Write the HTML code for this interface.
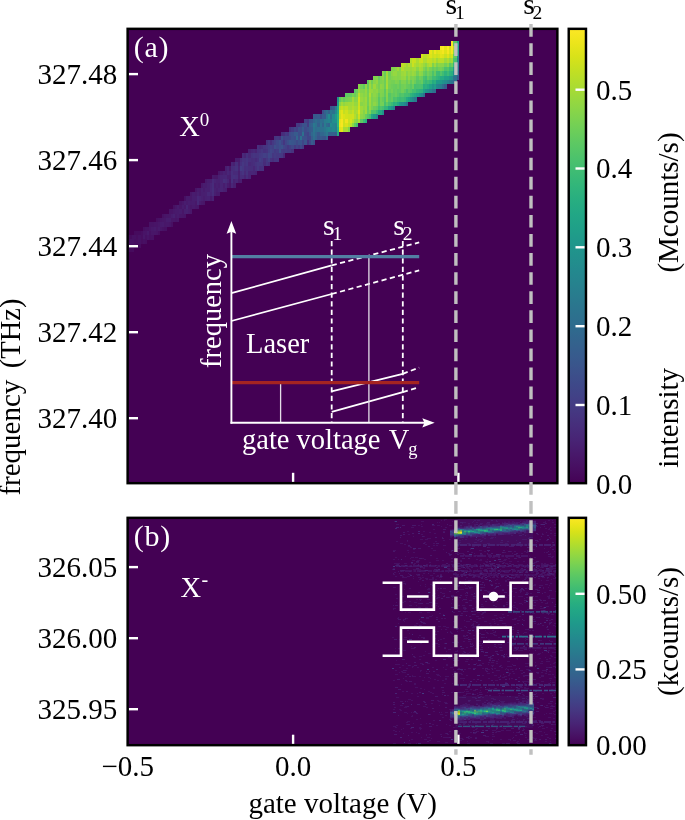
<!DOCTYPE html>
<html lang="en"><head><meta charset="utf-8"><title>figure</title>
<style>
html,body{margin:0;padding:0;background:#fff;}
body{width:685px;height:820px;overflow:hidden;}
svg{display:block;}
text{font-family:"Liberation Serif", serif;font-size:29px;}
.k{fill:#000;}
.w{fill:#fff;}
</style></head><body>
<svg width="685" height="820" viewBox="0 0 685 820">
<defs>
<linearGradient id="vg" x1="0" y1="1" x2="0" y2="0">
<stop offset="0.0000" stop-color="#440154"/>
<stop offset="0.0312" stop-color="#470d60"/>
<stop offset="0.0625" stop-color="#48186a"/>
<stop offset="0.0938" stop-color="#482374"/>
<stop offset="0.1250" stop-color="#472d7b"/>
<stop offset="0.1562" stop-color="#453781"/>
<stop offset="0.1875" stop-color="#424086"/>
<stop offset="0.2188" stop-color="#3e4989"/>
<stop offset="0.2500" stop-color="#3b528b"/>
<stop offset="0.2812" stop-color="#375b8d"/>
<stop offset="0.3125" stop-color="#33638d"/>
<stop offset="0.3438" stop-color="#2f6b8e"/>
<stop offset="0.3750" stop-color="#2c728e"/>
<stop offset="0.4062" stop-color="#297a8e"/>
<stop offset="0.4375" stop-color="#26828e"/>
<stop offset="0.4688" stop-color="#23898e"/>
<stop offset="0.5000" stop-color="#21918c"/>
<stop offset="0.5312" stop-color="#1f988b"/>
<stop offset="0.5625" stop-color="#1fa088"/>
<stop offset="0.5938" stop-color="#22a785"/>
<stop offset="0.6250" stop-color="#28ae80"/>
<stop offset="0.6562" stop-color="#32b67a"/>
<stop offset="0.6875" stop-color="#3fbc73"/>
<stop offset="0.7188" stop-color="#4ec36b"/>
<stop offset="0.7500" stop-color="#5ec962"/>
<stop offset="0.7812" stop-color="#70cf57"/>
<stop offset="0.8125" stop-color="#84d44b"/>
<stop offset="0.8438" stop-color="#98d83e"/>
<stop offset="0.8750" stop-color="#addc30"/>
<stop offset="0.9062" stop-color="#c2df23"/>
<stop offset="0.9375" stop-color="#d8e219"/>
<stop offset="0.9688" stop-color="#ece51b"/>
<stop offset="1.0000" stop-color="#fde725"/>
</linearGradient>
<clipPath id="ca"><rect x="127.7" y="28.6" width="429.9" height="454.7"/></clipPath>
<clipPath id="cb"><rect x="127.7" y="517.7" width="429.9" height="227.6"/></clipPath>
</defs>
<rect x="0" y="0" width="685" height="820" fill="#ffffff"/>
<rect x="127.2" y="28.400000000000002" width="430.6" height="455.2" fill="#440154"/>
<rect x="127.2" y="517.4" width="430.6" height="228.2" fill="#440154"/>
<g clip-path="url(#ca)" shape-rendering="crispEdges">
<rect x="127.70" y="235.15" width="2.20" height="4.36" fill="#460b5e"/>
<rect x="127.70" y="239.46" width="2.20" height="4.36" fill="#470e61"/>
<rect x="127.70" y="243.77" width="2.20" height="4.36" fill="#470e61"/>
<rect x="127.70" y="248.08" width="2.20" height="4.36" fill="#470d60"/>
<rect x="129.85" y="235.15" width="2.21" height="4.36" fill="#460b5e"/>
<rect x="129.85" y="239.46" width="2.21" height="4.36" fill="#471164"/>
<rect x="129.85" y="243.77" width="2.21" height="4.36" fill="#470d60"/>
<rect x="129.85" y="248.08" width="2.21" height="4.36" fill="#460a5d"/>
<rect x="132.01" y="235.15" width="2.21" height="4.36" fill="#471063"/>
<rect x="132.01" y="239.46" width="2.21" height="4.36" fill="#471164"/>
<rect x="132.01" y="243.77" width="2.21" height="4.36" fill="#470e61"/>
<rect x="132.01" y="248.08" width="2.21" height="4.36" fill="#460b5e"/>
<rect x="134.16" y="230.84" width="2.21" height="4.36" fill="#460a5d"/>
<rect x="134.16" y="235.15" width="2.21" height="4.36" fill="#471063"/>
<rect x="134.16" y="239.46" width="2.21" height="4.36" fill="#470e61"/>
<rect x="134.16" y="243.77" width="2.21" height="4.36" fill="#470e61"/>
<rect x="136.32" y="230.84" width="2.21" height="4.36" fill="#460b5e"/>
<rect x="136.32" y="235.15" width="2.21" height="4.36" fill="#470d60"/>
<rect x="136.32" y="239.46" width="2.21" height="4.36" fill="#470e61"/>
<rect x="136.32" y="243.77" width="2.21" height="4.36" fill="#460b5e"/>
<rect x="138.47" y="230.84" width="2.21" height="4.36" fill="#460b5e"/>
<rect x="138.47" y="235.15" width="2.21" height="4.36" fill="#471164"/>
<rect x="138.47" y="239.46" width="2.21" height="4.36" fill="#471164"/>
<rect x="138.47" y="243.77" width="2.21" height="4.36" fill="#470d60"/>
<rect x="140.63" y="230.84" width="2.21" height="4.36" fill="#470e61"/>
<rect x="140.63" y="235.15" width="2.21" height="4.36" fill="#470e61"/>
<rect x="140.63" y="239.46" width="2.21" height="4.36" fill="#470d60"/>
<rect x="142.78" y="226.53" width="2.21" height="4.36" fill="#470e61"/>
<rect x="142.78" y="230.84" width="2.21" height="4.36" fill="#481467"/>
<rect x="142.78" y="235.15" width="2.21" height="4.36" fill="#481769"/>
<rect x="142.78" y="239.46" width="2.21" height="4.36" fill="#471063"/>
<rect x="144.94" y="226.53" width="2.21" height="4.36" fill="#471164"/>
<rect x="144.94" y="230.84" width="2.21" height="4.36" fill="#481467"/>
<rect x="144.94" y="235.15" width="2.21" height="4.36" fill="#471063"/>
<rect x="144.94" y="239.46" width="2.21" height="4.36" fill="#470e61"/>
<rect x="147.09" y="226.53" width="2.21" height="4.36" fill="#471164"/>
<rect x="147.09" y="230.84" width="2.21" height="4.36" fill="#481a6c"/>
<rect x="147.09" y="235.15" width="2.21" height="4.36" fill="#481467"/>
<rect x="149.25" y="222.22" width="2.21" height="4.36" fill="#471365"/>
<rect x="149.25" y="226.53" width="2.21" height="4.36" fill="#481467"/>
<rect x="149.25" y="230.84" width="2.21" height="4.36" fill="#471164"/>
<rect x="149.25" y="235.15" width="2.21" height="4.36" fill="#471063"/>
<rect x="151.41" y="222.22" width="2.21" height="4.36" fill="#471365"/>
<rect x="151.41" y="226.53" width="2.21" height="4.36" fill="#48186a"/>
<rect x="151.41" y="230.84" width="2.21" height="4.36" fill="#481668"/>
<rect x="151.41" y="235.15" width="2.21" height="4.36" fill="#471164"/>
<rect x="153.56" y="222.22" width="2.21" height="4.36" fill="#481467"/>
<rect x="153.56" y="226.53" width="2.21" height="4.36" fill="#481a6c"/>
<rect x="153.56" y="230.84" width="2.21" height="4.36" fill="#481668"/>
<rect x="155.72" y="217.91" width="2.21" height="4.36" fill="#470e61"/>
<rect x="155.72" y="222.22" width="2.21" height="4.36" fill="#481467"/>
<rect x="155.72" y="226.53" width="2.21" height="4.36" fill="#481668"/>
<rect x="155.72" y="230.84" width="2.21" height="4.36" fill="#481467"/>
<rect x="157.87" y="217.91" width="2.21" height="4.36" fill="#471164"/>
<rect x="157.87" y="222.22" width="2.21" height="4.36" fill="#481769"/>
<rect x="157.87" y="226.53" width="2.21" height="4.36" fill="#481a6c"/>
<rect x="157.87" y="230.84" width="2.21" height="4.36" fill="#470e61"/>
<rect x="160.03" y="217.91" width="2.21" height="4.36" fill="#481467"/>
<rect x="160.03" y="222.22" width="2.21" height="4.36" fill="#481a6c"/>
<rect x="160.03" y="226.53" width="2.21" height="4.36" fill="#481668"/>
<rect x="162.18" y="213.60" width="2.21" height="4.36" fill="#471063"/>
<rect x="162.18" y="217.91" width="2.21" height="4.36" fill="#481668"/>
<rect x="162.18" y="222.22" width="2.21" height="4.36" fill="#481b6d"/>
<rect x="162.18" y="226.53" width="2.21" height="4.36" fill="#471365"/>
<rect x="164.34" y="213.60" width="2.21" height="4.36" fill="#481467"/>
<rect x="164.34" y="217.91" width="2.21" height="4.36" fill="#481769"/>
<rect x="164.34" y="222.22" width="2.21" height="4.36" fill="#481769"/>
<rect x="164.34" y="226.53" width="2.21" height="4.36" fill="#471063"/>
<rect x="166.49" y="213.60" width="2.21" height="4.36" fill="#481668"/>
<rect x="166.49" y="217.91" width="2.21" height="4.36" fill="#481c6e"/>
<rect x="166.49" y="222.22" width="2.21" height="4.36" fill="#48186a"/>
<rect x="168.64" y="209.29" width="2.21" height="4.36" fill="#481467"/>
<rect x="168.64" y="213.60" width="2.21" height="4.36" fill="#481769"/>
<rect x="168.64" y="217.91" width="2.21" height="4.36" fill="#481c6e"/>
<rect x="168.64" y="222.22" width="2.21" height="4.36" fill="#481668"/>
<rect x="170.80" y="209.29" width="2.21" height="4.36" fill="#481467"/>
<rect x="170.80" y="213.60" width="2.21" height="4.36" fill="#481c6e"/>
<rect x="170.80" y="217.91" width="2.21" height="4.36" fill="#481668"/>
<rect x="170.80" y="222.22" width="2.21" height="4.36" fill="#471063"/>
<rect x="172.95" y="204.98" width="2.21" height="4.36" fill="#471063"/>
<rect x="172.95" y="209.29" width="2.21" height="4.36" fill="#48186a"/>
<rect x="172.95" y="213.60" width="2.21" height="4.36" fill="#482071"/>
<rect x="172.95" y="217.91" width="2.21" height="4.36" fill="#481668"/>
<rect x="175.11" y="204.98" width="2.21" height="4.36" fill="#481668"/>
<rect x="175.11" y="209.29" width="2.21" height="4.36" fill="#481a6c"/>
<rect x="175.11" y="213.60" width="2.21" height="4.36" fill="#48186a"/>
<rect x="175.11" y="217.91" width="2.21" height="4.36" fill="#481467"/>
<rect x="177.26" y="204.98" width="2.21" height="4.36" fill="#481b6d"/>
<rect x="177.26" y="209.29" width="2.21" height="4.36" fill="#481a6c"/>
<rect x="177.26" y="213.60" width="2.21" height="4.36" fill="#481b6d"/>
<rect x="177.26" y="217.91" width="2.21" height="4.36" fill="#481668"/>
<rect x="179.42" y="200.67" width="2.21" height="4.36" fill="#471365"/>
<rect x="179.42" y="204.98" width="2.21" height="4.36" fill="#481668"/>
<rect x="179.42" y="209.29" width="2.21" height="4.36" fill="#481c6e"/>
<rect x="179.42" y="213.60" width="2.21" height="4.36" fill="#481769"/>
<rect x="181.57" y="200.67" width="2.21" height="4.36" fill="#481769"/>
<rect x="181.57" y="204.98" width="2.21" height="4.36" fill="#481c6e"/>
<rect x="181.57" y="209.29" width="2.21" height="4.36" fill="#481668"/>
<rect x="181.57" y="213.60" width="2.21" height="4.36" fill="#481668"/>
<rect x="183.73" y="196.36" width="2.21" height="4.36" fill="#471063"/>
<rect x="183.73" y="200.67" width="2.21" height="4.36" fill="#481d6f"/>
<rect x="183.73" y="204.98" width="2.21" height="4.36" fill="#48186a"/>
<rect x="183.73" y="209.29" width="2.21" height="4.36" fill="#481f70"/>
<rect x="183.73" y="213.60" width="2.21" height="4.36" fill="#481467"/>
<rect x="185.88" y="196.36" width="2.21" height="4.36" fill="#481a6c"/>
<rect x="185.88" y="200.67" width="2.21" height="4.36" fill="#481a6c"/>
<rect x="185.88" y="204.98" width="2.21" height="4.36" fill="#482475"/>
<rect x="185.88" y="209.29" width="2.21" height="4.36" fill="#482071"/>
<rect x="188.04" y="196.36" width="2.21" height="4.36" fill="#481a6c"/>
<rect x="188.04" y="200.67" width="2.21" height="4.36" fill="#481d6f"/>
<rect x="188.04" y="204.98" width="2.21" height="4.36" fill="#481a6c"/>
<rect x="188.04" y="209.29" width="2.21" height="4.36" fill="#481c6e"/>
<rect x="190.19" y="192.05" width="2.21" height="4.36" fill="#481668"/>
<rect x="190.19" y="196.36" width="2.21" height="4.36" fill="#48186a"/>
<rect x="190.19" y="200.67" width="2.21" height="4.36" fill="#481b6d"/>
<rect x="190.19" y="204.98" width="2.21" height="4.36" fill="#481769"/>
<rect x="190.19" y="209.29" width="2.21" height="4.36" fill="#48186a"/>
<rect x="192.35" y="192.05" width="2.21" height="4.36" fill="#481c6e"/>
<rect x="192.35" y="196.36" width="2.21" height="4.36" fill="#481d6f"/>
<rect x="192.35" y="200.67" width="2.21" height="4.36" fill="#481c6e"/>
<rect x="192.35" y="204.98" width="2.21" height="4.36" fill="#481a6c"/>
<rect x="194.50" y="187.74" width="2.21" height="4.36" fill="#481467"/>
<rect x="194.50" y="192.05" width="2.21" height="4.36" fill="#481a6c"/>
<rect x="194.50" y="196.36" width="2.21" height="4.36" fill="#481d6f"/>
<rect x="194.50" y="200.67" width="2.21" height="4.36" fill="#48186a"/>
<rect x="194.50" y="204.98" width="2.21" height="4.36" fill="#481769"/>
<rect x="196.66" y="187.74" width="2.21" height="4.36" fill="#481b6d"/>
<rect x="196.66" y="192.05" width="2.21" height="4.36" fill="#481f70"/>
<rect x="196.66" y="196.36" width="2.21" height="4.36" fill="#482677"/>
<rect x="196.66" y="200.67" width="2.21" height="4.36" fill="#482878"/>
<rect x="196.66" y="204.98" width="2.21" height="4.36" fill="#481769"/>
<rect x="198.81" y="187.74" width="2.21" height="4.36" fill="#481a6c"/>
<rect x="198.81" y="192.05" width="2.21" height="4.36" fill="#481a6c"/>
<rect x="198.81" y="196.36" width="2.21" height="4.36" fill="#482374"/>
<rect x="198.81" y="200.67" width="2.21" height="4.36" fill="#481c6e"/>
<rect x="200.97" y="183.43" width="2.21" height="4.36" fill="#481769"/>
<rect x="200.97" y="187.74" width="2.21" height="4.36" fill="#482071"/>
<rect x="200.97" y="192.05" width="2.21" height="4.36" fill="#481f70"/>
<rect x="200.97" y="196.36" width="2.21" height="4.36" fill="#482071"/>
<rect x="200.97" y="200.67" width="2.21" height="4.36" fill="#48186a"/>
<rect x="203.12" y="183.43" width="2.21" height="4.36" fill="#481c6e"/>
<rect x="203.12" y="187.74" width="2.21" height="4.36" fill="#481b6d"/>
<rect x="203.12" y="192.05" width="2.21" height="4.36" fill="#481f70"/>
<rect x="203.12" y="196.36" width="2.21" height="4.36" fill="#481c6e"/>
<rect x="203.12" y="200.67" width="2.21" height="4.36" fill="#481668"/>
<rect x="205.28" y="179.12" width="2.21" height="4.36" fill="#48186a"/>
<rect x="205.28" y="183.43" width="2.21" height="4.36" fill="#481c6e"/>
<rect x="205.28" y="187.74" width="2.21" height="4.36" fill="#482071"/>
<rect x="205.28" y="192.05" width="2.21" height="4.36" fill="#482071"/>
<rect x="205.28" y="196.36" width="2.21" height="4.36" fill="#482071"/>
<rect x="207.44" y="179.12" width="2.21" height="4.36" fill="#481d6f"/>
<rect x="207.44" y="183.43" width="2.21" height="4.36" fill="#482071"/>
<rect x="207.44" y="187.74" width="2.21" height="4.36" fill="#482071"/>
<rect x="207.44" y="192.05" width="2.21" height="4.36" fill="#482878"/>
<rect x="207.44" y="196.36" width="2.21" height="4.36" fill="#482173"/>
<rect x="209.59" y="179.12" width="2.21" height="4.36" fill="#481f70"/>
<rect x="209.59" y="183.43" width="2.21" height="4.36" fill="#482576"/>
<rect x="209.59" y="187.74" width="2.21" height="4.36" fill="#482677"/>
<rect x="209.59" y="192.05" width="2.21" height="4.36" fill="#482475"/>
<rect x="209.59" y="196.36" width="2.21" height="4.36" fill="#481a6c"/>
<rect x="211.75" y="174.81" width="2.21" height="4.36" fill="#48186a"/>
<rect x="211.75" y="179.12" width="2.21" height="4.36" fill="#482979"/>
<rect x="211.75" y="183.43" width="2.21" height="4.36" fill="#472c7a"/>
<rect x="211.75" y="187.74" width="2.21" height="4.36" fill="#472d7b"/>
<rect x="211.75" y="192.05" width="2.21" height="4.36" fill="#472c7a"/>
<rect x="211.75" y="196.36" width="2.21" height="4.36" fill="#482173"/>
<rect x="213.90" y="174.81" width="2.21" height="4.36" fill="#481668"/>
<rect x="213.90" y="179.12" width="2.21" height="4.36" fill="#482374"/>
<rect x="213.90" y="183.43" width="2.21" height="4.36" fill="#481d6f"/>
<rect x="213.90" y="187.74" width="2.21" height="4.36" fill="#482071"/>
<rect x="213.90" y="192.05" width="2.21" height="4.36" fill="#481f70"/>
<rect x="216.06" y="174.81" width="2.21" height="4.36" fill="#481668"/>
<rect x="216.06" y="179.12" width="2.21" height="4.36" fill="#482071"/>
<rect x="216.06" y="183.43" width="2.21" height="4.36" fill="#482071"/>
<rect x="216.06" y="187.74" width="2.21" height="4.36" fill="#481d6f"/>
<rect x="216.06" y="192.05" width="2.21" height="4.36" fill="#481a6c"/>
<rect x="218.21" y="170.50" width="2.21" height="4.36" fill="#481668"/>
<rect x="218.21" y="174.81" width="2.21" height="4.36" fill="#482071"/>
<rect x="218.21" y="179.12" width="2.21" height="4.36" fill="#482071"/>
<rect x="218.21" y="183.43" width="2.21" height="4.36" fill="#481d6f"/>
<rect x="218.21" y="187.74" width="2.21" height="4.36" fill="#482173"/>
<rect x="218.21" y="192.05" width="2.21" height="4.36" fill="#481a6c"/>
<rect x="220.37" y="170.50" width="2.21" height="4.36" fill="#481c6e"/>
<rect x="220.37" y="174.81" width="2.21" height="4.36" fill="#482475"/>
<rect x="220.37" y="179.12" width="2.21" height="4.36" fill="#482475"/>
<rect x="220.37" y="183.43" width="2.21" height="4.36" fill="#482475"/>
<rect x="220.37" y="187.74" width="2.21" height="4.36" fill="#482475"/>
<rect x="222.52" y="170.50" width="2.21" height="4.36" fill="#482173"/>
<rect x="222.52" y="174.81" width="2.21" height="4.36" fill="#482576"/>
<rect x="222.52" y="179.12" width="2.21" height="4.36" fill="#472e7c"/>
<rect x="222.52" y="183.43" width="2.21" height="4.36" fill="#481d6f"/>
<rect x="222.52" y="187.74" width="2.21" height="4.36" fill="#482071"/>
<rect x="224.68" y="166.19" width="2.21" height="4.36" fill="#481d6f"/>
<rect x="224.68" y="170.50" width="2.21" height="4.36" fill="#481f70"/>
<rect x="224.68" y="174.81" width="2.21" height="4.36" fill="#482677"/>
<rect x="224.68" y="179.12" width="2.21" height="4.36" fill="#472c7a"/>
<rect x="224.68" y="183.43" width="2.21" height="4.36" fill="#482475"/>
<rect x="224.68" y="187.74" width="2.21" height="4.36" fill="#481d6f"/>
<rect x="226.83" y="166.19" width="2.21" height="4.36" fill="#482475"/>
<rect x="226.83" y="170.50" width="2.21" height="4.36" fill="#482677"/>
<rect x="226.83" y="174.81" width="2.21" height="4.36" fill="#481f70"/>
<rect x="226.83" y="179.12" width="2.21" height="4.36" fill="#482576"/>
<rect x="226.83" y="183.43" width="2.21" height="4.36" fill="#481b6d"/>
<rect x="228.99" y="166.19" width="2.21" height="4.36" fill="#48186a"/>
<rect x="228.99" y="170.50" width="2.21" height="4.36" fill="#482173"/>
<rect x="228.99" y="174.81" width="2.21" height="4.36" fill="#481d6f"/>
<rect x="228.99" y="179.12" width="2.21" height="4.36" fill="#48186a"/>
<rect x="228.99" y="183.43" width="2.21" height="4.36" fill="#481668"/>
<rect x="231.14" y="161.88" width="2.21" height="4.36" fill="#482475"/>
<rect x="231.14" y="166.19" width="2.21" height="4.36" fill="#472c7a"/>
<rect x="231.14" y="170.50" width="2.21" height="4.36" fill="#472f7d"/>
<rect x="231.14" y="174.81" width="2.21" height="4.36" fill="#472f7d"/>
<rect x="231.14" y="179.12" width="2.21" height="4.36" fill="#472f7d"/>
<rect x="231.14" y="183.43" width="2.21" height="4.36" fill="#482677"/>
<rect x="233.29" y="161.88" width="2.21" height="4.36" fill="#482071"/>
<rect x="233.29" y="166.19" width="2.21" height="4.36" fill="#472d7b"/>
<rect x="233.29" y="170.50" width="2.21" height="4.36" fill="#482979"/>
<rect x="233.29" y="174.81" width="2.21" height="4.36" fill="#46307e"/>
<rect x="233.29" y="179.12" width="2.21" height="4.36" fill="#482173"/>
<rect x="233.29" y="183.43" width="2.21" height="4.36" fill="#481f70"/>
<rect x="235.45" y="157.57" width="2.21" height="4.36" fill="#481b6d"/>
<rect x="235.45" y="161.88" width="2.21" height="4.36" fill="#472e7c"/>
<rect x="235.45" y="166.19" width="2.21" height="4.36" fill="#46327e"/>
<rect x="235.45" y="170.50" width="2.21" height="4.36" fill="#472a7a"/>
<rect x="235.45" y="174.81" width="2.21" height="4.36" fill="#472e7c"/>
<rect x="235.45" y="179.12" width="2.21" height="4.36" fill="#482677"/>
<rect x="237.60" y="157.57" width="2.21" height="4.36" fill="#481b6d"/>
<rect x="237.60" y="161.88" width="2.21" height="4.36" fill="#481f70"/>
<rect x="237.60" y="166.19" width="2.21" height="4.36" fill="#482374"/>
<rect x="237.60" y="170.50" width="2.21" height="4.36" fill="#481f70"/>
<rect x="237.60" y="174.81" width="2.21" height="4.36" fill="#481f70"/>
<rect x="237.60" y="179.12" width="2.21" height="4.36" fill="#481b6d"/>
<rect x="239.76" y="157.57" width="2.21" height="4.36" fill="#472c7a"/>
<rect x="239.76" y="161.88" width="2.21" height="4.36" fill="#46307e"/>
<rect x="239.76" y="166.19" width="2.21" height="4.36" fill="#443b84"/>
<rect x="239.76" y="170.50" width="2.21" height="4.36" fill="#472f7d"/>
<rect x="239.76" y="174.81" width="2.21" height="4.36" fill="#472c7a"/>
<rect x="239.76" y="179.12" width="2.21" height="4.36" fill="#481d6f"/>
<rect x="241.91" y="153.26" width="2.21" height="4.36" fill="#482979"/>
<rect x="241.91" y="157.57" width="2.21" height="4.36" fill="#46337f"/>
<rect x="241.91" y="161.88" width="2.21" height="4.36" fill="#453882"/>
<rect x="241.91" y="166.19" width="2.21" height="4.36" fill="#453781"/>
<rect x="241.91" y="170.50" width="2.21" height="4.36" fill="#463480"/>
<rect x="241.91" y="174.81" width="2.21" height="4.36" fill="#472c7a"/>
<rect x="244.07" y="153.26" width="2.21" height="4.36" fill="#482475"/>
<rect x="244.07" y="157.57" width="2.21" height="4.36" fill="#46327e"/>
<rect x="244.07" y="161.88" width="2.21" height="4.36" fill="#46327e"/>
<rect x="244.07" y="166.19" width="2.21" height="4.36" fill="#472e7c"/>
<rect x="244.07" y="170.50" width="2.21" height="4.36" fill="#482979"/>
<rect x="244.07" y="174.81" width="2.21" height="4.36" fill="#482374"/>
<rect x="246.22" y="153.26" width="2.21" height="4.36" fill="#46307e"/>
<rect x="246.22" y="157.57" width="2.21" height="4.36" fill="#453581"/>
<rect x="246.22" y="161.88" width="2.21" height="4.36" fill="#453581"/>
<rect x="246.22" y="166.19" width="2.21" height="4.36" fill="#46307e"/>
<rect x="246.22" y="170.50" width="2.21" height="4.36" fill="#46327e"/>
<rect x="246.22" y="174.81" width="2.21" height="4.36" fill="#472d7b"/>
<rect x="248.38" y="148.95" width="2.21" height="4.36" fill="#482071"/>
<rect x="248.38" y="153.26" width="2.21" height="4.36" fill="#482878"/>
<rect x="248.38" y="157.57" width="2.21" height="4.36" fill="#472f7d"/>
<rect x="248.38" y="161.88" width="2.21" height="4.36" fill="#482878"/>
<rect x="248.38" y="166.19" width="2.21" height="4.36" fill="#472d7b"/>
<rect x="248.38" y="170.50" width="2.21" height="4.36" fill="#482576"/>
<rect x="248.38" y="174.81" width="2.21" height="4.36" fill="#482475"/>
<rect x="250.53" y="148.95" width="2.21" height="4.36" fill="#482576"/>
<rect x="250.53" y="153.26" width="2.21" height="4.36" fill="#46327e"/>
<rect x="250.53" y="157.57" width="2.21" height="4.36" fill="#472d7b"/>
<rect x="250.53" y="161.88" width="2.21" height="4.36" fill="#472c7a"/>
<rect x="250.53" y="166.19" width="2.21" height="4.36" fill="#472d7b"/>
<rect x="250.53" y="170.50" width="2.21" height="4.36" fill="#482677"/>
<rect x="252.69" y="148.95" width="2.21" height="4.36" fill="#482878"/>
<rect x="252.69" y="153.26" width="2.21" height="4.36" fill="#453581"/>
<rect x="252.69" y="157.57" width="2.21" height="4.36" fill="#472e7c"/>
<rect x="252.69" y="161.88" width="2.21" height="4.36" fill="#472e7c"/>
<rect x="252.69" y="166.19" width="2.21" height="4.36" fill="#482677"/>
<rect x="252.69" y="170.50" width="2.21" height="4.36" fill="#482576"/>
<rect x="254.84" y="148.95" width="2.20" height="4.36" fill="#482374"/>
<rect x="254.84" y="153.26" width="2.20" height="4.36" fill="#46337f"/>
<rect x="254.84" y="157.57" width="2.20" height="4.36" fill="#472a7a"/>
<rect x="254.84" y="161.88" width="2.20" height="4.36" fill="#46337f"/>
<rect x="254.84" y="166.19" width="2.20" height="4.36" fill="#472f7d"/>
<rect x="254.84" y="170.50" width="2.20" height="4.36" fill="#482173"/>
<rect x="257.00" y="144.64" width="2.20" height="4.36" fill="#472f7d"/>
<rect x="257.00" y="148.95" width="2.20" height="4.36" fill="#46307e"/>
<rect x="257.00" y="153.26" width="2.20" height="4.36" fill="#463480"/>
<rect x="257.00" y="157.57" width="2.20" height="4.36" fill="#46307e"/>
<rect x="257.00" y="161.88" width="2.20" height="4.36" fill="#453781"/>
<rect x="257.00" y="166.19" width="2.20" height="4.36" fill="#453781"/>
<rect x="259.15" y="144.64" width="2.20" height="4.36" fill="#482979"/>
<rect x="259.15" y="148.95" width="2.20" height="4.36" fill="#46327e"/>
<rect x="259.15" y="153.26" width="2.20" height="4.36" fill="#443983"/>
<rect x="259.15" y="157.57" width="2.20" height="4.36" fill="#433e85"/>
<rect x="259.15" y="161.88" width="2.20" height="4.36" fill="#453781"/>
<rect x="259.15" y="166.19" width="2.20" height="4.36" fill="#472f7d"/>
<rect x="261.31" y="144.64" width="2.20" height="4.36" fill="#472d7b"/>
<rect x="261.31" y="148.95" width="2.20" height="4.36" fill="#453781"/>
<rect x="261.31" y="153.26" width="2.20" height="4.36" fill="#443b84"/>
<rect x="261.31" y="157.57" width="2.20" height="4.36" fill="#443983"/>
<rect x="261.31" y="161.88" width="2.20" height="4.36" fill="#453781"/>
<rect x="261.31" y="166.19" width="2.20" height="4.36" fill="#46307e"/>
<rect x="263.46" y="144.64" width="2.20" height="4.36" fill="#463480"/>
<rect x="263.46" y="148.95" width="2.20" height="4.36" fill="#46307e"/>
<rect x="263.46" y="153.26" width="2.20" height="4.36" fill="#424086"/>
<rect x="263.46" y="157.57" width="2.20" height="4.36" fill="#472e7c"/>
<rect x="263.46" y="161.88" width="2.20" height="4.36" fill="#472c7a"/>
<rect x="265.62" y="140.33" width="2.20" height="4.36" fill="#46307e"/>
<rect x="265.62" y="144.64" width="2.20" height="4.36" fill="#453882"/>
<rect x="265.62" y="148.95" width="2.20" height="4.36" fill="#46337f"/>
<rect x="265.62" y="153.26" width="2.20" height="4.36" fill="#433d84"/>
<rect x="265.62" y="157.57" width="2.20" height="4.36" fill="#453781"/>
<rect x="265.62" y="161.88" width="2.20" height="4.36" fill="#453581"/>
<rect x="267.77" y="140.33" width="2.20" height="4.36" fill="#443983"/>
<rect x="267.77" y="144.64" width="2.20" height="4.36" fill="#433e85"/>
<rect x="267.77" y="148.95" width="2.20" height="4.36" fill="#423f85"/>
<rect x="267.77" y="153.26" width="2.20" height="4.36" fill="#3f4788"/>
<rect x="267.77" y="157.57" width="2.20" height="4.36" fill="#424086"/>
<rect x="267.77" y="161.88" width="2.20" height="4.36" fill="#472e7c"/>
<rect x="269.93" y="140.33" width="2.20" height="4.36" fill="#472d7b"/>
<rect x="269.93" y="144.64" width="2.20" height="4.36" fill="#414287"/>
<rect x="269.93" y="148.95" width="2.20" height="4.36" fill="#404688"/>
<rect x="269.93" y="153.26" width="2.20" height="4.36" fill="#414487"/>
<rect x="269.93" y="157.57" width="2.20" height="4.36" fill="#46337f"/>
<rect x="272.08" y="140.33" width="2.20" height="4.36" fill="#443983"/>
<rect x="272.08" y="144.64" width="2.20" height="4.36" fill="#423f85"/>
<rect x="272.08" y="148.95" width="2.20" height="4.36" fill="#424186"/>
<rect x="272.08" y="153.26" width="2.20" height="4.36" fill="#453781"/>
<rect x="272.08" y="157.57" width="2.20" height="4.36" fill="#472e7c"/>
<rect x="274.24" y="136.02" width="2.20" height="4.36" fill="#46337f"/>
<rect x="274.24" y="140.33" width="2.20" height="4.36" fill="#424186"/>
<rect x="274.24" y="144.64" width="2.20" height="4.36" fill="#3d4e8a"/>
<rect x="274.24" y="148.95" width="2.20" height="4.36" fill="#443983"/>
<rect x="274.24" y="153.26" width="2.20" height="4.36" fill="#443b84"/>
<rect x="274.24" y="157.57" width="2.20" height="4.36" fill="#453581"/>
<rect x="276.39" y="136.02" width="2.20" height="4.36" fill="#453781"/>
<rect x="276.39" y="140.33" width="2.20" height="4.36" fill="#3e4989"/>
<rect x="276.39" y="144.64" width="2.20" height="4.36" fill="#3f4889"/>
<rect x="276.39" y="148.95" width="2.20" height="4.36" fill="#433d84"/>
<rect x="276.39" y="153.26" width="2.20" height="4.36" fill="#453882"/>
<rect x="276.39" y="157.57" width="2.20" height="4.36" fill="#453581"/>
<rect x="278.55" y="136.02" width="2.20" height="4.36" fill="#46327e"/>
<rect x="278.55" y="140.33" width="2.20" height="4.36" fill="#3b518b"/>
<rect x="278.55" y="144.64" width="2.20" height="4.36" fill="#3d4e8a"/>
<rect x="278.55" y="148.95" width="2.20" height="4.36" fill="#3c508b"/>
<rect x="278.55" y="153.26" width="2.20" height="4.36" fill="#443a83"/>
<rect x="280.70" y="131.71" width="2.20" height="4.36" fill="#472c7a"/>
<rect x="280.70" y="136.02" width="2.20" height="4.36" fill="#3c4f8a"/>
<rect x="280.70" y="140.33" width="2.20" height="4.36" fill="#404588"/>
<rect x="280.70" y="144.64" width="2.20" height="4.36" fill="#3b528b"/>
<rect x="280.70" y="148.95" width="2.20" height="4.36" fill="#433d84"/>
<rect x="280.70" y="153.26" width="2.20" height="4.36" fill="#453882"/>
<rect x="282.86" y="131.71" width="2.20" height="4.36" fill="#472e7c"/>
<rect x="282.86" y="136.02" width="2.20" height="4.36" fill="#424186"/>
<rect x="282.86" y="140.33" width="2.20" height="4.36" fill="#453781"/>
<rect x="282.86" y="144.64" width="2.20" height="4.36" fill="#404688"/>
<rect x="282.86" y="148.95" width="2.20" height="4.36" fill="#443a83"/>
<rect x="282.86" y="153.26" width="2.20" height="4.36" fill="#482878"/>
<rect x="285.01" y="131.71" width="2.20" height="4.36" fill="#443983"/>
<rect x="285.01" y="136.02" width="2.20" height="4.36" fill="#404688"/>
<rect x="285.01" y="140.33" width="2.20" height="4.36" fill="#404688"/>
<rect x="285.01" y="144.64" width="2.20" height="4.36" fill="#424186"/>
<rect x="285.01" y="148.95" width="2.20" height="4.36" fill="#433d84"/>
<rect x="287.17" y="131.71" width="2.20" height="4.36" fill="#453581"/>
<rect x="287.17" y="136.02" width="2.20" height="4.36" fill="#404688"/>
<rect x="287.17" y="140.33" width="2.20" height="4.36" fill="#3c4f8a"/>
<rect x="287.17" y="144.64" width="2.20" height="4.36" fill="#453882"/>
<rect x="287.17" y="148.95" width="2.20" height="4.36" fill="#443983"/>
<rect x="289.32" y="127.40" width="2.20" height="4.36" fill="#46327e"/>
<rect x="289.32" y="131.71" width="2.20" height="4.36" fill="#3e4c8a"/>
<rect x="289.32" y="136.02" width="2.20" height="4.36" fill="#3f4788"/>
<rect x="289.32" y="140.33" width="2.20" height="4.36" fill="#38588c"/>
<rect x="289.32" y="144.64" width="2.20" height="4.36" fill="#423f85"/>
<rect x="289.32" y="148.95" width="2.20" height="4.36" fill="#443a83"/>
<rect x="291.48" y="127.40" width="2.20" height="4.36" fill="#443b84"/>
<rect x="291.48" y="131.71" width="2.20" height="4.36" fill="#3b518b"/>
<rect x="291.48" y="136.02" width="2.20" height="4.36" fill="#3c508b"/>
<rect x="291.48" y="140.33" width="2.20" height="4.36" fill="#39558c"/>
<rect x="291.48" y="144.64" width="2.20" height="4.36" fill="#3f4788"/>
<rect x="291.48" y="148.95" width="2.20" height="4.36" fill="#46327e"/>
<rect x="293.63" y="127.40" width="2.20" height="4.36" fill="#3f4788"/>
<rect x="293.63" y="131.71" width="2.20" height="4.36" fill="#375a8c"/>
<rect x="293.63" y="136.02" width="2.20" height="4.36" fill="#3d4d8a"/>
<rect x="293.63" y="140.33" width="2.20" height="4.36" fill="#3b528b"/>
<rect x="293.63" y="144.64" width="2.20" height="4.36" fill="#443a83"/>
<rect x="295.79" y="123.09" width="2.20" height="4.36" fill="#443a83"/>
<rect x="295.79" y="127.40" width="2.20" height="4.36" fill="#424186"/>
<rect x="295.79" y="131.71" width="2.20" height="4.36" fill="#375b8d"/>
<rect x="295.79" y="136.02" width="2.20" height="4.36" fill="#31678e"/>
<rect x="295.79" y="140.33" width="2.20" height="4.36" fill="#3e4a89"/>
<rect x="295.79" y="144.64" width="2.20" height="4.36" fill="#414487"/>
<rect x="297.94" y="123.09" width="2.20" height="4.36" fill="#453882"/>
<rect x="297.94" y="127.40" width="2.20" height="4.36" fill="#3c508b"/>
<rect x="297.94" y="131.71" width="2.20" height="4.36" fill="#3d4d8a"/>
<rect x="297.94" y="136.02" width="2.20" height="4.36" fill="#3d4e8a"/>
<rect x="297.94" y="140.33" width="2.20" height="4.36" fill="#3a538b"/>
<rect x="297.94" y="144.64" width="2.20" height="4.36" fill="#433d84"/>
<rect x="300.10" y="123.09" width="2.20" height="4.36" fill="#404588"/>
<rect x="300.10" y="127.40" width="2.20" height="4.36" fill="#3c4f8a"/>
<rect x="300.10" y="131.71" width="2.20" height="4.36" fill="#3d4e8a"/>
<rect x="300.10" y="136.02" width="2.20" height="4.36" fill="#2d718e"/>
<rect x="300.10" y="140.33" width="2.20" height="4.36" fill="#3a548c"/>
<rect x="300.10" y="144.64" width="2.20" height="4.36" fill="#3e4989"/>
<rect x="302.25" y="123.09" width="2.20" height="4.36" fill="#3b518b"/>
<rect x="302.25" y="127.40" width="2.20" height="4.36" fill="#365c8d"/>
<rect x="302.25" y="131.71" width="2.20" height="4.36" fill="#2d718e"/>
<rect x="302.25" y="136.02" width="2.20" height="4.36" fill="#3a538b"/>
<rect x="302.25" y="140.33" width="2.20" height="4.36" fill="#404688"/>
<rect x="302.25" y="144.64" width="2.20" height="4.36" fill="#443b84"/>
<rect x="304.41" y="118.78" width="2.20" height="4.36" fill="#424186"/>
<rect x="304.41" y="123.09" width="2.20" height="4.36" fill="#3b528b"/>
<rect x="304.41" y="127.40" width="2.20" height="4.36" fill="#3e4c8a"/>
<rect x="304.41" y="131.71" width="2.20" height="4.36" fill="#3e4a89"/>
<rect x="304.41" y="136.02" width="2.20" height="4.36" fill="#3c508b"/>
<rect x="304.41" y="140.33" width="2.20" height="4.36" fill="#3a548c"/>
<rect x="306.56" y="118.78" width="2.20" height="4.36" fill="#443b84"/>
<rect x="306.56" y="123.09" width="2.20" height="4.36" fill="#433d84"/>
<rect x="306.56" y="127.40" width="2.20" height="4.36" fill="#3b528b"/>
<rect x="306.56" y="131.71" width="2.20" height="4.36" fill="#414487"/>
<rect x="306.56" y="136.02" width="2.20" height="4.36" fill="#404588"/>
<rect x="306.56" y="140.33" width="2.20" height="4.36" fill="#463480"/>
<rect x="308.72" y="118.78" width="2.20" height="4.36" fill="#39558c"/>
<rect x="308.72" y="123.09" width="2.20" height="4.36" fill="#355f8d"/>
<rect x="308.72" y="127.40" width="2.20" height="4.36" fill="#375a8c"/>
<rect x="308.72" y="131.71" width="2.20" height="4.36" fill="#39558c"/>
<rect x="308.72" y="136.02" width="2.20" height="4.36" fill="#404688"/>
<rect x="308.72" y="140.33" width="2.20" height="4.36" fill="#3f4788"/>
<rect x="310.88" y="118.78" width="2.20" height="4.36" fill="#38588c"/>
<rect x="310.88" y="123.09" width="2.20" height="4.36" fill="#32648e"/>
<rect x="310.88" y="127.40" width="2.20" height="4.36" fill="#355e8d"/>
<rect x="310.88" y="131.71" width="2.20" height="4.36" fill="#31678e"/>
<rect x="310.88" y="136.02" width="2.20" height="4.36" fill="#355f8d"/>
<rect x="310.88" y="140.33" width="2.20" height="4.36" fill="#375b8d"/>
<rect x="313.03" y="114.47" width="2.20" height="4.36" fill="#38598c"/>
<rect x="313.03" y="118.78" width="2.20" height="4.36" fill="#32658e"/>
<rect x="313.03" y="123.09" width="2.20" height="4.36" fill="#2a788e"/>
<rect x="313.03" y="127.40" width="2.20" height="4.36" fill="#2b758e"/>
<rect x="313.03" y="131.71" width="2.20" height="4.36" fill="#2d718e"/>
<rect x="313.03" y="136.02" width="2.20" height="4.36" fill="#2e6e8e"/>
<rect x="313.03" y="140.33" width="2.20" height="4.36" fill="#3b518b"/>
<rect x="315.19" y="114.47" width="2.20" height="4.36" fill="#38598c"/>
<rect x="315.19" y="118.78" width="2.20" height="4.36" fill="#2e6d8e"/>
<rect x="315.19" y="123.09" width="2.20" height="4.36" fill="#2c718e"/>
<rect x="315.19" y="127.40" width="2.20" height="4.36" fill="#2e6d8e"/>
<rect x="315.19" y="131.71" width="2.20" height="4.36" fill="#31668e"/>
<rect x="315.19" y="136.02" width="2.20" height="4.36" fill="#33638d"/>
<rect x="317.34" y="114.47" width="2.20" height="4.36" fill="#375b8d"/>
<rect x="317.34" y="118.78" width="2.20" height="4.36" fill="#31668e"/>
<rect x="317.34" y="123.09" width="2.20" height="4.36" fill="#355f8d"/>
<rect x="317.34" y="127.40" width="2.20" height="4.36" fill="#2e6f8e"/>
<rect x="317.34" y="131.71" width="2.20" height="4.36" fill="#375a8c"/>
<rect x="317.34" y="136.02" width="2.20" height="4.36" fill="#39558c"/>
<rect x="319.50" y="114.47" width="2.20" height="4.36" fill="#3d4d8a"/>
<rect x="319.50" y="118.78" width="2.20" height="4.36" fill="#2e6f8e"/>
<rect x="319.50" y="123.09" width="2.20" height="4.36" fill="#2b758e"/>
<rect x="319.50" y="127.40" width="2.20" height="4.36" fill="#2d718e"/>
<rect x="319.50" y="131.71" width="2.20" height="4.36" fill="#31678e"/>
<rect x="319.50" y="136.02" width="2.20" height="4.36" fill="#375a8c"/>
<rect x="321.65" y="110.16" width="2.20" height="4.36" fill="#3d4e8a"/>
<rect x="321.65" y="114.47" width="2.20" height="4.36" fill="#365d8d"/>
<rect x="321.65" y="118.78" width="2.20" height="4.36" fill="#2e6d8e"/>
<rect x="321.65" y="123.09" width="2.20" height="4.36" fill="#33638d"/>
<rect x="321.65" y="127.40" width="2.20" height="4.36" fill="#2d718e"/>
<rect x="321.65" y="131.71" width="2.20" height="4.36" fill="#31678e"/>
<rect x="321.65" y="136.02" width="2.20" height="4.36" fill="#39558c"/>
<rect x="323.81" y="110.16" width="2.20" height="4.36" fill="#33628d"/>
<rect x="323.81" y="114.47" width="2.20" height="4.36" fill="#375b8d"/>
<rect x="323.81" y="118.78" width="2.20" height="4.36" fill="#297b8e"/>
<rect x="323.81" y="123.09" width="2.20" height="4.36" fill="#297b8e"/>
<rect x="323.81" y="127.40" width="2.20" height="4.36" fill="#2a778e"/>
<rect x="323.81" y="131.71" width="2.20" height="4.36" fill="#2e6f8e"/>
<rect x="323.81" y="136.02" width="2.20" height="4.36" fill="#3a538b"/>
<rect x="325.96" y="110.16" width="2.20" height="4.36" fill="#2f6c8e"/>
<rect x="325.96" y="114.47" width="2.20" height="4.36" fill="#29798e"/>
<rect x="325.96" y="118.78" width="2.20" height="4.36" fill="#277f8e"/>
<rect x="325.96" y="123.09" width="2.20" height="4.36" fill="#2f6b8e"/>
<rect x="325.96" y="127.40" width="2.20" height="4.36" fill="#277e8e"/>
<rect x="325.96" y="131.71" width="2.20" height="4.36" fill="#2a788e"/>
<rect x="325.96" y="136.02" width="2.20" height="4.36" fill="#33638d"/>
<rect x="328.12" y="110.16" width="2.20" height="4.36" fill="#34608d"/>
<rect x="328.12" y="114.47" width="2.20" height="4.36" fill="#228b8d"/>
<rect x="328.12" y="118.78" width="2.20" height="4.36" fill="#25838e"/>
<rect x="328.12" y="123.09" width="2.20" height="4.36" fill="#32648e"/>
<rect x="328.12" y="127.40" width="2.20" height="4.36" fill="#25838e"/>
<rect x="328.12" y="131.71" width="2.20" height="4.36" fill="#34608d"/>
<rect x="330.27" y="105.85" width="2.20" height="4.36" fill="#3b528b"/>
<rect x="330.27" y="110.16" width="2.20" height="4.36" fill="#2a778e"/>
<rect x="330.27" y="114.47" width="2.20" height="4.36" fill="#2d718e"/>
<rect x="330.27" y="118.78" width="2.20" height="4.36" fill="#287c8e"/>
<rect x="330.27" y="123.09" width="2.20" height="4.36" fill="#228c8d"/>
<rect x="330.27" y="127.40" width="2.20" height="4.36" fill="#26818e"/>
<rect x="330.27" y="131.71" width="2.20" height="4.36" fill="#34618d"/>
<rect x="332.43" y="105.85" width="2.20" height="4.36" fill="#365c8d"/>
<rect x="332.43" y="110.16" width="2.20" height="4.36" fill="#2c718e"/>
<rect x="332.43" y="114.47" width="2.20" height="4.36" fill="#238a8d"/>
<rect x="332.43" y="118.78" width="2.20" height="4.36" fill="#228d8d"/>
<rect x="332.43" y="123.09" width="2.20" height="4.36" fill="#25858e"/>
<rect x="332.43" y="127.40" width="2.20" height="4.36" fill="#24868e"/>
<rect x="332.43" y="131.71" width="2.20" height="4.36" fill="#34618d"/>
<rect x="334.58" y="105.85" width="2.20" height="4.36" fill="#29798e"/>
<rect x="334.58" y="110.16" width="2.20" height="4.36" fill="#23888e"/>
<rect x="334.58" y="114.47" width="2.20" height="4.36" fill="#1f988b"/>
<rect x="334.58" y="118.78" width="2.20" height="4.36" fill="#20928c"/>
<rect x="334.58" y="123.09" width="2.20" height="4.36" fill="#26828e"/>
<rect x="334.58" y="127.40" width="2.20" height="4.36" fill="#277f8e"/>
<rect x="334.58" y="131.71" width="2.20" height="4.36" fill="#365d8d"/>
<rect x="336.73" y="97.23" width="2.20" height="4.36" fill="#218f8d"/>
<rect x="336.73" y="101.54" width="2.20" height="4.36" fill="#1e9b8a"/>
<rect x="336.73" y="105.85" width="2.20" height="4.36" fill="#22a785"/>
<rect x="336.73" y="110.16" width="2.20" height="4.36" fill="#24aa83"/>
<rect x="336.73" y="114.47" width="2.20" height="4.36" fill="#2db27d"/>
<rect x="336.73" y="118.78" width="2.20" height="4.36" fill="#2eb37c"/>
<rect x="336.73" y="123.09" width="2.20" height="4.36" fill="#31b57b"/>
<rect x="336.73" y="127.40" width="2.20" height="4.36" fill="#27ad81"/>
<rect x="336.73" y="131.71" width="2.20" height="4.36" fill="#23a983"/>
<rect x="338.89" y="97.23" width="2.20" height="4.36" fill="#5ec962"/>
<rect x="338.89" y="101.54" width="2.20" height="4.36" fill="#86d549"/>
<rect x="338.89" y="105.85" width="2.20" height="4.36" fill="#b2dd2d"/>
<rect x="338.89" y="110.16" width="2.20" height="4.36" fill="#d2e21b"/>
<rect x="338.89" y="114.47" width="2.20" height="4.36" fill="#cae11f"/>
<rect x="338.89" y="118.78" width="2.20" height="4.36" fill="#eae51a"/>
<rect x="338.89" y="123.09" width="2.20" height="4.36" fill="#efe51c"/>
<rect x="338.89" y="127.40" width="2.20" height="4.36" fill="#dfe318"/>
<rect x="341.04" y="97.23" width="2.20" height="4.36" fill="#77d153"/>
<rect x="341.04" y="101.54" width="2.20" height="4.36" fill="#a2da37"/>
<rect x="341.04" y="105.85" width="2.20" height="4.36" fill="#c5e021"/>
<rect x="341.04" y="110.16" width="2.20" height="4.36" fill="#e2e418"/>
<rect x="341.04" y="114.47" width="2.20" height="4.36" fill="#e7e419"/>
<rect x="341.04" y="118.78" width="2.20" height="4.36" fill="#f6e620"/>
<rect x="341.04" y="123.09" width="2.20" height="4.36" fill="#f8e621"/>
<rect x="341.04" y="127.40" width="2.20" height="4.36" fill="#e7e419"/>
<rect x="343.20" y="97.23" width="2.20" height="4.36" fill="#65cb5e"/>
<rect x="343.20" y="101.54" width="2.20" height="4.36" fill="#90d743"/>
<rect x="343.20" y="105.85" width="2.20" height="4.36" fill="#b5de2b"/>
<rect x="343.20" y="110.16" width="2.20" height="4.36" fill="#c2df23"/>
<rect x="343.20" y="114.47" width="2.20" height="4.36" fill="#dae319"/>
<rect x="343.20" y="118.78" width="2.20" height="4.36" fill="#d0e11c"/>
<rect x="343.20" y="123.09" width="2.20" height="4.36" fill="#cde11d"/>
<rect x="343.20" y="127.40" width="2.20" height="4.36" fill="#aadc32"/>
<rect x="345.35" y="92.92" width="2.20" height="4.36" fill="#5ec962"/>
<rect x="345.35" y="97.23" width="2.20" height="4.36" fill="#73d056"/>
<rect x="345.35" y="101.54" width="2.20" height="4.36" fill="#9dd93b"/>
<rect x="345.35" y="105.85" width="2.20" height="4.36" fill="#c0df25"/>
<rect x="345.35" y="110.16" width="2.20" height="4.36" fill="#d0e11c"/>
<rect x="345.35" y="114.47" width="2.20" height="4.36" fill="#d2e21b"/>
<rect x="345.35" y="118.78" width="2.20" height="4.36" fill="#efe51c"/>
<rect x="345.35" y="123.09" width="2.20" height="4.36" fill="#dae319"/>
<rect x="345.35" y="127.40" width="2.20" height="4.36" fill="#aadc32"/>
<rect x="347.51" y="92.92" width="2.20" height="4.36" fill="#60ca60"/>
<rect x="347.51" y="97.23" width="2.20" height="4.36" fill="#7ad151"/>
<rect x="347.51" y="101.54" width="2.20" height="4.36" fill="#a2da37"/>
<rect x="347.51" y="105.85" width="2.20" height="4.36" fill="#a8db34"/>
<rect x="347.51" y="110.16" width="2.20" height="4.36" fill="#bade28"/>
<rect x="347.51" y="114.47" width="2.20" height="4.36" fill="#cde11d"/>
<rect x="347.51" y="118.78" width="2.20" height="4.36" fill="#cae11f"/>
<rect x="347.51" y="123.09" width="2.20" height="4.36" fill="#c2df23"/>
<rect x="347.51" y="127.40" width="2.20" height="4.36" fill="#81d34d"/>
<rect x="349.66" y="92.92" width="2.20" height="4.36" fill="#63cb5f"/>
<rect x="349.66" y="97.23" width="2.20" height="4.36" fill="#7fd34e"/>
<rect x="349.66" y="101.54" width="2.20" height="4.36" fill="#a0da39"/>
<rect x="349.66" y="105.85" width="2.20" height="4.36" fill="#a5db36"/>
<rect x="349.66" y="110.16" width="2.20" height="4.36" fill="#b5de2b"/>
<rect x="349.66" y="114.47" width="2.20" height="4.36" fill="#cde11d"/>
<rect x="349.66" y="118.78" width="2.20" height="4.36" fill="#d5e21a"/>
<rect x="349.66" y="123.09" width="2.20" height="4.36" fill="#bade28"/>
<rect x="351.82" y="92.92" width="2.20" height="4.36" fill="#77d153"/>
<rect x="351.82" y="97.23" width="2.20" height="4.36" fill="#a2da37"/>
<rect x="351.82" y="101.54" width="2.20" height="4.36" fill="#a8db34"/>
<rect x="351.82" y="105.85" width="2.20" height="4.36" fill="#b2dd2d"/>
<rect x="351.82" y="110.16" width="2.20" height="4.36" fill="#c5e021"/>
<rect x="351.82" y="114.47" width="2.20" height="4.36" fill="#d0e11c"/>
<rect x="351.82" y="118.78" width="2.20" height="4.36" fill="#bade28"/>
<rect x="351.82" y="123.09" width="2.20" height="4.36" fill="#8bd646"/>
<rect x="353.97" y="88.61" width="2.20" height="4.36" fill="#5ac864"/>
<rect x="353.97" y="92.92" width="2.20" height="4.36" fill="#69cd5b"/>
<rect x="353.97" y="97.23" width="2.20" height="4.36" fill="#86d549"/>
<rect x="353.97" y="101.54" width="2.20" height="4.36" fill="#95d840"/>
<rect x="353.97" y="105.85" width="2.20" height="4.36" fill="#a5db36"/>
<rect x="353.97" y="110.16" width="2.20" height="4.36" fill="#a5db36"/>
<rect x="353.97" y="114.47" width="2.20" height="4.36" fill="#b2dd2d"/>
<rect x="353.97" y="118.78" width="2.20" height="4.36" fill="#93d741"/>
<rect x="353.97" y="123.09" width="2.20" height="4.36" fill="#5ec962"/>
<rect x="356.13" y="88.61" width="2.20" height="4.36" fill="#6ece58"/>
<rect x="356.13" y="92.92" width="2.20" height="4.36" fill="#7cd250"/>
<rect x="356.13" y="97.23" width="2.20" height="4.36" fill="#89d548"/>
<rect x="356.13" y="101.54" width="2.20" height="4.36" fill="#95d840"/>
<rect x="356.13" y="105.85" width="2.20" height="4.36" fill="#a0da39"/>
<rect x="356.13" y="110.16" width="2.20" height="4.36" fill="#addc30"/>
<rect x="356.13" y="114.47" width="2.20" height="4.36" fill="#9bd93c"/>
<rect x="356.13" y="118.78" width="2.20" height="4.36" fill="#84d44b"/>
<rect x="356.13" y="123.09" width="2.20" height="4.36" fill="#42be71"/>
<rect x="358.28" y="84.30" width="2.20" height="4.36" fill="#89d548"/>
<rect x="358.28" y="88.61" width="2.20" height="4.36" fill="#98d83e"/>
<rect x="358.28" y="92.92" width="2.20" height="4.36" fill="#bade28"/>
<rect x="358.28" y="97.23" width="2.20" height="4.36" fill="#d0e11c"/>
<rect x="358.28" y="101.54" width="2.20" height="4.36" fill="#c8e020"/>
<rect x="358.28" y="105.85" width="2.20" height="4.36" fill="#cde11d"/>
<rect x="358.28" y="110.16" width="2.20" height="4.36" fill="#dde318"/>
<rect x="358.28" y="114.47" width="2.20" height="4.36" fill="#cde11d"/>
<rect x="358.28" y="118.78" width="2.20" height="4.36" fill="#aadc32"/>
<rect x="360.44" y="84.30" width="2.20" height="4.36" fill="#73d056"/>
<rect x="360.44" y="88.61" width="2.20" height="4.36" fill="#84d44b"/>
<rect x="360.44" y="92.92" width="2.20" height="4.36" fill="#90d743"/>
<rect x="360.44" y="97.23" width="2.20" height="4.36" fill="#98d83e"/>
<rect x="360.44" y="101.54" width="2.20" height="4.36" fill="#89d548"/>
<rect x="360.44" y="105.85" width="2.20" height="4.36" fill="#a0da39"/>
<rect x="360.44" y="110.16" width="2.20" height="4.36" fill="#9bd93c"/>
<rect x="360.44" y="114.47" width="2.20" height="4.36" fill="#8ed645"/>
<rect x="360.44" y="118.78" width="2.20" height="4.36" fill="#5ec962"/>
<rect x="362.59" y="84.30" width="2.20" height="4.36" fill="#60ca60"/>
<rect x="362.59" y="88.61" width="2.20" height="4.36" fill="#81d34d"/>
<rect x="362.59" y="92.92" width="2.20" height="4.36" fill="#86d549"/>
<rect x="362.59" y="97.23" width="2.20" height="4.36" fill="#8ed645"/>
<rect x="362.59" y="101.54" width="2.20" height="4.36" fill="#90d743"/>
<rect x="362.59" y="105.85" width="2.20" height="4.36" fill="#93d741"/>
<rect x="362.59" y="110.16" width="2.20" height="4.36" fill="#84d44b"/>
<rect x="362.59" y="114.47" width="2.20" height="4.36" fill="#84d44b"/>
<rect x="362.59" y="118.78" width="2.20" height="4.36" fill="#3dbc74"/>
<rect x="364.75" y="84.30" width="2.20" height="4.36" fill="#90d743"/>
<rect x="364.75" y="88.61" width="2.20" height="4.36" fill="#93d741"/>
<rect x="364.75" y="92.92" width="2.20" height="4.36" fill="#90d743"/>
<rect x="364.75" y="97.23" width="2.20" height="4.36" fill="#9bd93c"/>
<rect x="364.75" y="101.54" width="2.20" height="4.36" fill="#98d83e"/>
<rect x="364.75" y="105.85" width="2.20" height="4.36" fill="#9dd93b"/>
<rect x="364.75" y="110.16" width="2.20" height="4.36" fill="#9dd93b"/>
<rect x="364.75" y="114.47" width="2.20" height="4.36" fill="#69cd5b"/>
<rect x="364.75" y="118.78" width="2.20" height="4.36" fill="#2ab07f"/>
<rect x="366.90" y="79.99" width="2.20" height="4.36" fill="#5cc863"/>
<rect x="366.90" y="84.30" width="2.20" height="4.36" fill="#65cb5e"/>
<rect x="366.90" y="88.61" width="2.20" height="4.36" fill="#73d056"/>
<rect x="366.90" y="92.92" width="2.20" height="4.36" fill="#77d153"/>
<rect x="366.90" y="97.23" width="2.20" height="4.36" fill="#75d054"/>
<rect x="366.90" y="101.54" width="2.20" height="4.36" fill="#73d056"/>
<rect x="366.90" y="105.85" width="2.20" height="4.36" fill="#69cd5b"/>
<rect x="366.90" y="110.16" width="2.20" height="4.36" fill="#69cd5b"/>
<rect x="366.90" y="114.47" width="2.20" height="4.36" fill="#56c667"/>
<rect x="369.06" y="79.99" width="2.20" height="4.36" fill="#93d741"/>
<rect x="369.06" y="84.30" width="2.20" height="4.36" fill="#9dd93b"/>
<rect x="369.06" y="88.61" width="2.20" height="4.36" fill="#9dd93b"/>
<rect x="369.06" y="92.92" width="2.20" height="4.36" fill="#addc30"/>
<rect x="369.06" y="97.23" width="2.20" height="4.36" fill="#a0da39"/>
<rect x="369.06" y="101.54" width="2.20" height="4.36" fill="#9dd93b"/>
<rect x="369.06" y="105.85" width="2.20" height="4.36" fill="#95d840"/>
<rect x="369.06" y="110.16" width="2.20" height="4.36" fill="#7fd34e"/>
<rect x="369.06" y="114.47" width="2.20" height="4.36" fill="#46c06f"/>
<rect x="371.21" y="79.99" width="2.20" height="4.36" fill="#6ece58"/>
<rect x="371.21" y="84.30" width="2.20" height="4.36" fill="#7cd250"/>
<rect x="371.21" y="88.61" width="2.20" height="4.36" fill="#95d840"/>
<rect x="371.21" y="92.92" width="2.20" height="4.36" fill="#81d34d"/>
<rect x="371.21" y="97.23" width="2.20" height="4.36" fill="#7cd250"/>
<rect x="371.21" y="101.54" width="2.20" height="4.36" fill="#7cd250"/>
<rect x="371.21" y="105.85" width="2.20" height="4.36" fill="#7ad151"/>
<rect x="371.21" y="110.16" width="2.20" height="4.36" fill="#4ec36b"/>
<rect x="371.21" y="114.47" width="2.20" height="4.36" fill="#22a785"/>
<rect x="373.37" y="75.68" width="2.20" height="4.36" fill="#7fd34e"/>
<rect x="373.37" y="79.99" width="2.20" height="4.36" fill="#89d548"/>
<rect x="373.37" y="84.30" width="2.20" height="4.36" fill="#9dd93b"/>
<rect x="373.37" y="88.61" width="2.20" height="4.36" fill="#8bd646"/>
<rect x="373.37" y="92.92" width="2.20" height="4.36" fill="#8ed645"/>
<rect x="373.37" y="97.23" width="2.20" height="4.36" fill="#84d44b"/>
<rect x="373.37" y="101.54" width="2.20" height="4.36" fill="#8ed645"/>
<rect x="373.37" y="105.85" width="2.20" height="4.36" fill="#6ccd5a"/>
<rect x="373.37" y="110.16" width="2.20" height="4.36" fill="#50c46a"/>
<rect x="373.37" y="114.47" width="2.20" height="4.36" fill="#1e9b8a"/>
<rect x="375.52" y="75.68" width="2.20" height="4.36" fill="#84d44b"/>
<rect x="375.52" y="79.99" width="2.20" height="4.36" fill="#93d741"/>
<rect x="375.52" y="84.30" width="2.20" height="4.36" fill="#84d44b"/>
<rect x="375.52" y="88.61" width="2.20" height="4.36" fill="#90d743"/>
<rect x="375.52" y="92.92" width="2.20" height="4.36" fill="#84d44b"/>
<rect x="375.52" y="97.23" width="2.20" height="4.36" fill="#7cd250"/>
<rect x="375.52" y="101.54" width="2.20" height="4.36" fill="#7fd34e"/>
<rect x="375.52" y="105.85" width="2.20" height="4.36" fill="#63cb5f"/>
<rect x="375.52" y="110.16" width="2.20" height="4.36" fill="#3bbb75"/>
<rect x="375.52" y="114.47" width="2.20" height="4.36" fill="#228b8d"/>
<rect x="377.68" y="75.68" width="2.20" height="4.36" fill="#65cb5e"/>
<rect x="377.68" y="79.99" width="2.20" height="4.36" fill="#73d056"/>
<rect x="377.68" y="84.30" width="2.20" height="4.36" fill="#75d054"/>
<rect x="377.68" y="88.61" width="2.20" height="4.36" fill="#7ad151"/>
<rect x="377.68" y="92.92" width="2.20" height="4.36" fill="#67cc5c"/>
<rect x="377.68" y="97.23" width="2.20" height="4.36" fill="#58c765"/>
<rect x="377.68" y="101.54" width="2.20" height="4.36" fill="#58c765"/>
<rect x="377.68" y="105.85" width="2.20" height="4.36" fill="#44bf70"/>
<rect x="377.68" y="110.16" width="2.20" height="4.36" fill="#24aa83"/>
<rect x="379.83" y="75.68" width="2.20" height="4.36" fill="#81d34d"/>
<rect x="379.83" y="79.99" width="2.20" height="4.36" fill="#7cd250"/>
<rect x="379.83" y="84.30" width="2.20" height="4.36" fill="#8ed645"/>
<rect x="379.83" y="88.61" width="2.20" height="4.36" fill="#81d34d"/>
<rect x="379.83" y="92.92" width="2.20" height="4.36" fill="#7fd34e"/>
<rect x="379.83" y="97.23" width="2.20" height="4.36" fill="#75d054"/>
<rect x="379.83" y="101.54" width="2.20" height="4.36" fill="#73d056"/>
<rect x="379.83" y="105.85" width="2.20" height="4.36" fill="#50c46a"/>
<rect x="379.83" y="110.16" width="2.20" height="4.36" fill="#22a884"/>
<rect x="381.99" y="71.37" width="2.20" height="4.36" fill="#86d549"/>
<rect x="381.99" y="75.68" width="2.20" height="4.36" fill="#8bd646"/>
<rect x="381.99" y="79.99" width="2.20" height="4.36" fill="#81d34d"/>
<rect x="381.99" y="84.30" width="2.20" height="4.36" fill="#86d549"/>
<rect x="381.99" y="88.61" width="2.20" height="4.36" fill="#7fd34e"/>
<rect x="381.99" y="92.92" width="2.20" height="4.36" fill="#7ad151"/>
<rect x="381.99" y="97.23" width="2.20" height="4.36" fill="#67cc5c"/>
<rect x="381.99" y="101.54" width="2.20" height="4.36" fill="#73d056"/>
<rect x="381.99" y="105.85" width="2.20" height="4.36" fill="#46c06f"/>
<rect x="381.99" y="110.16" width="2.20" height="4.36" fill="#21918c"/>
<rect x="384.14" y="71.37" width="2.20" height="4.36" fill="#69cd5b"/>
<rect x="384.14" y="75.68" width="2.20" height="4.36" fill="#6ece58"/>
<rect x="384.14" y="79.99" width="2.20" height="4.36" fill="#6ccd5a"/>
<rect x="384.14" y="84.30" width="2.20" height="4.36" fill="#6ccd5a"/>
<rect x="384.14" y="88.61" width="2.20" height="4.36" fill="#5ec962"/>
<rect x="384.14" y="92.92" width="2.20" height="4.36" fill="#60ca60"/>
<rect x="384.14" y="97.23" width="2.20" height="4.36" fill="#52c569"/>
<rect x="384.14" y="101.54" width="2.20" height="4.36" fill="#46c06f"/>
<rect x="384.14" y="105.85" width="2.20" height="4.36" fill="#32b67a"/>
<rect x="386.30" y="71.37" width="2.20" height="4.36" fill="#a0da39"/>
<rect x="386.30" y="75.68" width="2.20" height="4.36" fill="#a5db36"/>
<rect x="386.30" y="79.99" width="2.20" height="4.36" fill="#a0da39"/>
<rect x="386.30" y="84.30" width="2.20" height="4.36" fill="#a5db36"/>
<rect x="386.30" y="88.61" width="2.20" height="4.36" fill="#8bd646"/>
<rect x="386.30" y="92.92" width="2.20" height="4.36" fill="#86d549"/>
<rect x="386.30" y="97.23" width="2.20" height="4.36" fill="#81d34d"/>
<rect x="386.30" y="101.54" width="2.20" height="4.36" fill="#60ca60"/>
<rect x="386.30" y="105.85" width="2.20" height="4.36" fill="#32b67a"/>
<rect x="388.45" y="71.37" width="2.20" height="4.36" fill="#70cf57"/>
<rect x="388.45" y="75.68" width="2.20" height="4.36" fill="#75d054"/>
<rect x="388.45" y="79.99" width="2.20" height="4.36" fill="#7ad151"/>
<rect x="388.45" y="84.30" width="2.20" height="4.36" fill="#75d054"/>
<rect x="388.45" y="88.61" width="2.20" height="4.36" fill="#69cd5b"/>
<rect x="388.45" y="92.92" width="2.20" height="4.36" fill="#56c667"/>
<rect x="388.45" y="97.23" width="2.20" height="4.36" fill="#58c765"/>
<rect x="388.45" y="101.54" width="2.20" height="4.36" fill="#46c06f"/>
<rect x="388.45" y="105.85" width="2.20" height="4.36" fill="#1fa187"/>
<rect x="390.61" y="67.06" width="2.20" height="4.36" fill="#81d34d"/>
<rect x="390.61" y="71.37" width="2.20" height="4.36" fill="#8bd646"/>
<rect x="390.61" y="75.68" width="2.20" height="4.36" fill="#81d34d"/>
<rect x="390.61" y="79.99" width="2.20" height="4.36" fill="#75d054"/>
<rect x="390.61" y="84.30" width="2.20" height="4.36" fill="#6ece58"/>
<rect x="390.61" y="88.61" width="2.20" height="4.36" fill="#75d054"/>
<rect x="390.61" y="92.92" width="2.20" height="4.36" fill="#65cb5e"/>
<rect x="390.61" y="97.23" width="2.20" height="4.36" fill="#63cb5f"/>
<rect x="390.61" y="101.54" width="2.20" height="4.36" fill="#3aba76"/>
<rect x="390.61" y="105.85" width="2.20" height="4.36" fill="#1f968b"/>
<rect x="392.76" y="67.06" width="2.20" height="4.36" fill="#84d44b"/>
<rect x="392.76" y="71.37" width="2.20" height="4.36" fill="#95d840"/>
<rect x="392.76" y="75.68" width="2.20" height="4.36" fill="#86d549"/>
<rect x="392.76" y="79.99" width="2.20" height="4.36" fill="#73d056"/>
<rect x="392.76" y="84.30" width="2.20" height="4.36" fill="#69cd5b"/>
<rect x="392.76" y="88.61" width="2.20" height="4.36" fill="#65cb5e"/>
<rect x="392.76" y="92.92" width="2.20" height="4.36" fill="#60ca60"/>
<rect x="392.76" y="97.23" width="2.20" height="4.36" fill="#4ac16d"/>
<rect x="392.76" y="101.54" width="2.20" height="4.36" fill="#2ab07f"/>
<rect x="392.76" y="105.85" width="2.20" height="4.36" fill="#25838e"/>
<rect x="394.92" y="67.06" width="2.20" height="4.36" fill="#8ed645"/>
<rect x="394.92" y="71.37" width="2.20" height="4.36" fill="#95d840"/>
<rect x="394.92" y="75.68" width="2.20" height="4.36" fill="#89d548"/>
<rect x="394.92" y="79.99" width="2.20" height="4.36" fill="#7fd34e"/>
<rect x="394.92" y="84.30" width="2.20" height="4.36" fill="#67cc5c"/>
<rect x="394.92" y="88.61" width="2.20" height="4.36" fill="#69cd5b"/>
<rect x="394.92" y="92.92" width="2.20" height="4.36" fill="#69cd5b"/>
<rect x="394.92" y="97.23" width="2.20" height="4.36" fill="#4ec36b"/>
<rect x="394.92" y="101.54" width="2.20" height="4.36" fill="#2fb47c"/>
<rect x="397.07" y="67.06" width="2.20" height="4.36" fill="#a0da39"/>
<rect x="397.07" y="71.37" width="2.20" height="4.36" fill="#86d549"/>
<rect x="397.07" y="75.68" width="2.20" height="4.36" fill="#84d44b"/>
<rect x="397.07" y="79.99" width="2.20" height="4.36" fill="#7cd250"/>
<rect x="397.07" y="84.30" width="2.20" height="4.36" fill="#70cf57"/>
<rect x="397.07" y="88.61" width="2.20" height="4.36" fill="#5ec962"/>
<rect x="397.07" y="92.92" width="2.20" height="4.36" fill="#5ac864"/>
<rect x="397.07" y="97.23" width="2.20" height="4.36" fill="#40bd72"/>
<rect x="397.07" y="101.54" width="2.20" height="4.36" fill="#23a983"/>
<rect x="399.23" y="67.06" width="2.20" height="4.36" fill="#86d549"/>
<rect x="399.23" y="71.37" width="2.20" height="4.36" fill="#89d548"/>
<rect x="399.23" y="75.68" width="2.20" height="4.36" fill="#86d549"/>
<rect x="399.23" y="79.99" width="2.20" height="4.36" fill="#69cd5b"/>
<rect x="399.23" y="84.30" width="2.20" height="4.36" fill="#63cb5f"/>
<rect x="399.23" y="88.61" width="2.20" height="4.36" fill="#60ca60"/>
<rect x="399.23" y="92.92" width="2.20" height="4.36" fill="#4cc26c"/>
<rect x="399.23" y="97.23" width="2.20" height="4.36" fill="#3aba76"/>
<rect x="399.23" y="101.54" width="2.20" height="4.36" fill="#1f978b"/>
<rect x="401.38" y="62.75" width="2.20" height="4.36" fill="#bddf26"/>
<rect x="401.38" y="67.06" width="2.20" height="4.36" fill="#b2dd2d"/>
<rect x="401.38" y="71.37" width="2.20" height="4.36" fill="#9bd93c"/>
<rect x="401.38" y="75.68" width="2.20" height="4.36" fill="#93d741"/>
<rect x="401.38" y="79.99" width="2.20" height="4.36" fill="#7fd34e"/>
<rect x="401.38" y="84.30" width="2.20" height="4.36" fill="#70cf57"/>
<rect x="401.38" y="88.61" width="2.20" height="4.36" fill="#70cf57"/>
<rect x="401.38" y="92.92" width="2.20" height="4.36" fill="#52c569"/>
<rect x="401.38" y="97.23" width="2.20" height="4.36" fill="#3fbc73"/>
<rect x="401.38" y="101.54" width="2.20" height="4.36" fill="#21918c"/>
<rect x="403.54" y="62.75" width="2.20" height="4.36" fill="#b2dd2d"/>
<rect x="403.54" y="67.06" width="2.20" height="4.36" fill="#a2da37"/>
<rect x="403.54" y="71.37" width="2.20" height="4.36" fill="#a2da37"/>
<rect x="403.54" y="75.68" width="2.20" height="4.36" fill="#95d840"/>
<rect x="403.54" y="79.99" width="2.20" height="4.36" fill="#7fd34e"/>
<rect x="403.54" y="84.30" width="2.20" height="4.36" fill="#75d054"/>
<rect x="403.54" y="88.61" width="2.20" height="4.36" fill="#60ca60"/>
<rect x="403.54" y="92.92" width="2.20" height="4.36" fill="#46c06f"/>
<rect x="403.54" y="97.23" width="2.20" height="4.36" fill="#37b878"/>
<rect x="403.54" y="101.54" width="2.20" height="4.36" fill="#24868e"/>
<rect x="405.69" y="62.75" width="2.20" height="4.36" fill="#a2da37"/>
<rect x="405.69" y="67.06" width="2.20" height="4.36" fill="#a0da39"/>
<rect x="405.69" y="71.37" width="2.20" height="4.36" fill="#89d548"/>
<rect x="405.69" y="75.68" width="2.20" height="4.36" fill="#77d153"/>
<rect x="405.69" y="79.99" width="2.20" height="4.36" fill="#6ccd5a"/>
<rect x="405.69" y="84.30" width="2.20" height="4.36" fill="#67cc5c"/>
<rect x="405.69" y="88.61" width="2.20" height="4.36" fill="#4ac16d"/>
<rect x="405.69" y="92.92" width="2.20" height="4.36" fill="#46c06f"/>
<rect x="405.69" y="97.23" width="2.20" height="4.36" fill="#25ab82"/>
<rect x="405.69" y="101.54" width="2.20" height="4.36" fill="#2c718e"/>
<rect x="407.85" y="62.75" width="2.20" height="4.36" fill="#b5de2b"/>
<rect x="407.85" y="67.06" width="2.20" height="4.36" fill="#a0da39"/>
<rect x="407.85" y="71.37" width="2.20" height="4.36" fill="#98d83e"/>
<rect x="407.85" y="75.68" width="2.20" height="4.36" fill="#90d743"/>
<rect x="407.85" y="79.99" width="2.20" height="4.36" fill="#7fd34e"/>
<rect x="407.85" y="84.30" width="2.20" height="4.36" fill="#65cb5e"/>
<rect x="407.85" y="88.61" width="2.20" height="4.36" fill="#5cc863"/>
<rect x="407.85" y="92.92" width="2.20" height="4.36" fill="#40bd72"/>
<rect x="407.85" y="97.23" width="2.20" height="4.36" fill="#1fa287"/>
<rect x="410.00" y="58.44" width="2.20" height="4.36" fill="#b5de2b"/>
<rect x="410.00" y="62.75" width="2.20" height="4.36" fill="#a5db36"/>
<rect x="410.00" y="67.06" width="2.20" height="4.36" fill="#98d83e"/>
<rect x="410.00" y="71.37" width="2.20" height="4.36" fill="#8ed645"/>
<rect x="410.00" y="75.68" width="2.20" height="4.36" fill="#7ad151"/>
<rect x="410.00" y="79.99" width="2.20" height="4.36" fill="#65cb5e"/>
<rect x="410.00" y="84.30" width="2.20" height="4.36" fill="#58c765"/>
<rect x="410.00" y="88.61" width="2.20" height="4.36" fill="#52c569"/>
<rect x="410.00" y="92.92" width="2.20" height="4.36" fill="#2fb47c"/>
<rect x="410.00" y="97.23" width="2.20" height="4.36" fill="#1f958b"/>
<rect x="412.16" y="58.44" width="2.20" height="4.36" fill="#cae11f"/>
<rect x="412.16" y="62.75" width="2.20" height="4.36" fill="#cae11f"/>
<rect x="412.16" y="67.06" width="2.20" height="4.36" fill="#a2da37"/>
<rect x="412.16" y="71.37" width="2.20" height="4.36" fill="#9bd93c"/>
<rect x="412.16" y="75.68" width="2.20" height="4.36" fill="#7fd34e"/>
<rect x="412.16" y="79.99" width="2.20" height="4.36" fill="#7cd250"/>
<rect x="412.16" y="84.30" width="2.20" height="4.36" fill="#69cd5b"/>
<rect x="412.16" y="88.61" width="2.20" height="4.36" fill="#42be71"/>
<rect x="412.16" y="92.92" width="2.20" height="4.36" fill="#28ae80"/>
<rect x="412.16" y="97.23" width="2.20" height="4.36" fill="#23888e"/>
<rect x="414.31" y="58.44" width="2.20" height="4.36" fill="#c8e020"/>
<rect x="414.31" y="62.75" width="2.20" height="4.36" fill="#b2dd2d"/>
<rect x="414.31" y="67.06" width="2.20" height="4.36" fill="#a5db36"/>
<rect x="414.31" y="71.37" width="2.20" height="4.36" fill="#93d741"/>
<rect x="414.31" y="75.68" width="2.20" height="4.36" fill="#77d153"/>
<rect x="414.31" y="79.99" width="2.20" height="4.36" fill="#6ccd5a"/>
<rect x="414.31" y="84.30" width="2.20" height="4.36" fill="#46c06f"/>
<rect x="414.31" y="88.61" width="2.20" height="4.36" fill="#42be71"/>
<rect x="414.31" y="92.92" width="2.20" height="4.36" fill="#22a785"/>
<rect x="414.31" y="97.23" width="2.20" height="4.36" fill="#297a8e"/>
<rect x="416.47" y="58.44" width="2.20" height="4.36" fill="#addc30"/>
<rect x="416.47" y="62.75" width="2.20" height="4.36" fill="#a5db36"/>
<rect x="416.47" y="67.06" width="2.20" height="4.36" fill="#8bd646"/>
<rect x="416.47" y="71.37" width="2.20" height="4.36" fill="#75d054"/>
<rect x="416.47" y="75.68" width="2.20" height="4.36" fill="#5ec962"/>
<rect x="416.47" y="79.99" width="2.20" height="4.36" fill="#56c667"/>
<rect x="416.47" y="84.30" width="2.20" height="4.36" fill="#4ac16d"/>
<rect x="416.47" y="88.61" width="2.20" height="4.36" fill="#34b679"/>
<rect x="416.47" y="92.92" width="2.20" height="4.36" fill="#1f9f88"/>
<rect x="418.62" y="58.44" width="2.20" height="4.36" fill="#c8e020"/>
<rect x="418.62" y="62.75" width="2.20" height="4.36" fill="#b5de2b"/>
<rect x="418.62" y="67.06" width="2.20" height="4.36" fill="#a5db36"/>
<rect x="418.62" y="71.37" width="2.20" height="4.36" fill="#90d743"/>
<rect x="418.62" y="75.68" width="2.20" height="4.36" fill="#70cf57"/>
<rect x="418.62" y="79.99" width="2.20" height="4.36" fill="#5cc863"/>
<rect x="418.62" y="84.30" width="2.20" height="4.36" fill="#4cc26c"/>
<rect x="418.62" y="88.61" width="2.20" height="4.36" fill="#2eb37c"/>
<rect x="418.62" y="92.92" width="2.20" height="4.36" fill="#20928c"/>
<rect x="420.78" y="54.13" width="2.20" height="4.36" fill="#d8e219"/>
<rect x="420.78" y="58.44" width="2.20" height="4.36" fill="#cde11d"/>
<rect x="420.78" y="62.75" width="2.20" height="4.36" fill="#addc30"/>
<rect x="420.78" y="67.06" width="2.20" height="4.36" fill="#a0da39"/>
<rect x="420.78" y="71.37" width="2.20" height="4.36" fill="#89d548"/>
<rect x="420.78" y="75.68" width="2.20" height="4.36" fill="#69cd5b"/>
<rect x="420.78" y="79.99" width="2.20" height="4.36" fill="#65cb5e"/>
<rect x="420.78" y="84.30" width="2.20" height="4.36" fill="#48c16e"/>
<rect x="420.78" y="88.61" width="2.20" height="4.36" fill="#2cb17e"/>
<rect x="420.78" y="92.92" width="2.20" height="4.36" fill="#24878e"/>
<rect x="422.93" y="54.13" width="2.20" height="4.36" fill="#bddf26"/>
<rect x="422.93" y="58.44" width="2.20" height="4.36" fill="#b0dd2f"/>
<rect x="422.93" y="62.75" width="2.20" height="4.36" fill="#9bd93c"/>
<rect x="422.93" y="67.06" width="2.20" height="4.36" fill="#81d34d"/>
<rect x="422.93" y="71.37" width="2.20" height="4.36" fill="#69cd5b"/>
<rect x="422.93" y="75.68" width="2.20" height="4.36" fill="#4ac16d"/>
<rect x="422.93" y="79.99" width="2.20" height="4.36" fill="#42be71"/>
<rect x="422.93" y="84.30" width="2.20" height="4.36" fill="#28ae80"/>
<rect x="422.93" y="88.61" width="2.20" height="4.36" fill="#1fa188"/>
<rect x="422.93" y="92.92" width="2.20" height="4.36" fill="#2d708e"/>
<rect x="425.09" y="54.13" width="2.20" height="4.36" fill="#bddf26"/>
<rect x="425.09" y="58.44" width="2.20" height="4.36" fill="#b0dd2f"/>
<rect x="425.09" y="62.75" width="2.20" height="4.36" fill="#8bd646"/>
<rect x="425.09" y="67.06" width="2.20" height="4.36" fill="#70cf57"/>
<rect x="425.09" y="71.37" width="2.20" height="4.36" fill="#5ec962"/>
<rect x="425.09" y="75.68" width="2.20" height="4.36" fill="#42be71"/>
<rect x="425.09" y="79.99" width="2.20" height="4.36" fill="#37b878"/>
<rect x="425.09" y="84.30" width="2.20" height="4.36" fill="#2cb17e"/>
<rect x="425.09" y="88.61" width="2.20" height="4.36" fill="#1f948c"/>
<rect x="427.24" y="54.13" width="2.20" height="4.36" fill="#cae11f"/>
<rect x="427.24" y="58.44" width="2.20" height="4.36" fill="#c5e021"/>
<rect x="427.24" y="62.75" width="2.20" height="4.36" fill="#a5db36"/>
<rect x="427.24" y="67.06" width="2.20" height="4.36" fill="#8bd646"/>
<rect x="427.24" y="71.37" width="2.20" height="4.36" fill="#73d056"/>
<rect x="427.24" y="75.68" width="2.20" height="4.36" fill="#60ca60"/>
<rect x="427.24" y="79.99" width="2.20" height="4.36" fill="#40bd72"/>
<rect x="427.24" y="84.30" width="2.20" height="4.36" fill="#25ac82"/>
<rect x="427.24" y="88.61" width="2.20" height="4.36" fill="#228d8d"/>
<rect x="429.40" y="49.82" width="2.20" height="4.36" fill="#e7e419"/>
<rect x="429.40" y="54.13" width="2.20" height="4.36" fill="#dde318"/>
<rect x="429.40" y="58.44" width="2.20" height="4.36" fill="#c2df23"/>
<rect x="429.40" y="62.75" width="2.20" height="4.36" fill="#b2dd2d"/>
<rect x="429.40" y="67.06" width="2.20" height="4.36" fill="#77d153"/>
<rect x="429.40" y="71.37" width="2.20" height="4.36" fill="#67cc5c"/>
<rect x="429.40" y="75.68" width="2.20" height="4.36" fill="#54c568"/>
<rect x="429.40" y="79.99" width="2.20" height="4.36" fill="#37b878"/>
<rect x="429.40" y="84.30" width="2.20" height="4.36" fill="#1fa287"/>
<rect x="429.40" y="88.61" width="2.20" height="4.36" fill="#26828e"/>
<rect x="431.55" y="49.82" width="2.20" height="4.36" fill="#cde11d"/>
<rect x="431.55" y="54.13" width="2.20" height="4.36" fill="#cde11d"/>
<rect x="431.55" y="58.44" width="2.20" height="4.36" fill="#b0dd2f"/>
<rect x="431.55" y="62.75" width="2.20" height="4.36" fill="#7fd34e"/>
<rect x="431.55" y="67.06" width="2.20" height="4.36" fill="#65cb5e"/>
<rect x="431.55" y="71.37" width="2.20" height="4.36" fill="#4cc26c"/>
<rect x="431.55" y="75.68" width="2.20" height="4.36" fill="#3dbc74"/>
<rect x="431.55" y="79.99" width="2.20" height="4.36" fill="#25ab82"/>
<rect x="431.55" y="84.30" width="2.20" height="4.36" fill="#1f958b"/>
<rect x="431.55" y="88.61" width="2.20" height="4.36" fill="#2c738e"/>
<rect x="433.71" y="49.82" width="2.20" height="4.36" fill="#efe51c"/>
<rect x="433.71" y="54.13" width="2.20" height="4.36" fill="#d5e21a"/>
<rect x="433.71" y="58.44" width="2.20" height="4.36" fill="#bddf26"/>
<rect x="433.71" y="62.75" width="2.20" height="4.36" fill="#9dd93b"/>
<rect x="433.71" y="67.06" width="2.20" height="4.36" fill="#70cf57"/>
<rect x="433.71" y="71.37" width="2.20" height="4.36" fill="#65cb5e"/>
<rect x="433.71" y="75.68" width="2.20" height="4.36" fill="#3fbc73"/>
<rect x="433.71" y="79.99" width="2.20" height="4.36" fill="#2ab07f"/>
<rect x="433.71" y="84.30" width="2.20" height="4.36" fill="#1f9e89"/>
<rect x="433.71" y="88.61" width="2.20" height="4.36" fill="#2e6d8e"/>
<rect x="435.86" y="49.82" width="2.20" height="4.36" fill="#dae319"/>
<rect x="435.86" y="54.13" width="2.20" height="4.36" fill="#cae11f"/>
<rect x="435.86" y="58.44" width="2.20" height="4.36" fill="#a2da37"/>
<rect x="435.86" y="62.75" width="2.20" height="4.36" fill="#7cd250"/>
<rect x="435.86" y="67.06" width="2.20" height="4.36" fill="#63cb5f"/>
<rect x="435.86" y="71.37" width="2.20" height="4.36" fill="#3dbc74"/>
<rect x="435.86" y="75.68" width="2.20" height="4.36" fill="#34b679"/>
<rect x="435.86" y="79.99" width="2.20" height="4.36" fill="#1e9b8a"/>
<rect x="435.86" y="84.30" width="2.20" height="4.36" fill="#23888e"/>
<rect x="438.02" y="49.82" width="2.20" height="4.36" fill="#e2e418"/>
<rect x="438.02" y="54.13" width="2.20" height="4.36" fill="#d2e21b"/>
<rect x="438.02" y="58.44" width="2.20" height="4.36" fill="#b5de2b"/>
<rect x="438.02" y="62.75" width="2.20" height="4.36" fill="#8bd646"/>
<rect x="438.02" y="67.06" width="2.20" height="4.36" fill="#70cf57"/>
<rect x="438.02" y="71.37" width="2.20" height="4.36" fill="#3bbb75"/>
<rect x="438.02" y="75.68" width="2.20" height="4.36" fill="#2db27d"/>
<rect x="438.02" y="79.99" width="2.20" height="4.36" fill="#1e9c89"/>
<rect x="438.02" y="84.30" width="2.20" height="4.36" fill="#26828e"/>
<rect x="440.17" y="45.51" width="2.20" height="4.36" fill="#f8e621"/>
<rect x="440.17" y="49.82" width="2.20" height="4.36" fill="#eae51a"/>
<rect x="440.17" y="54.13" width="2.20" height="4.36" fill="#e2e418"/>
<rect x="440.17" y="58.44" width="2.20" height="4.36" fill="#bade28"/>
<rect x="440.17" y="62.75" width="2.20" height="4.36" fill="#89d548"/>
<rect x="440.17" y="67.06" width="2.20" height="4.36" fill="#75d054"/>
<rect x="440.17" y="71.37" width="2.20" height="4.36" fill="#50c46a"/>
<rect x="440.17" y="75.68" width="2.20" height="4.36" fill="#25ac82"/>
<rect x="440.17" y="79.99" width="2.20" height="4.36" fill="#1f9a8a"/>
<rect x="440.17" y="84.30" width="2.20" height="4.36" fill="#277e8e"/>
<rect x="442.33" y="45.51" width="2.20" height="4.36" fill="#fde725"/>
<rect x="442.33" y="49.82" width="2.20" height="4.36" fill="#f4e61e"/>
<rect x="442.33" y="54.13" width="2.20" height="4.36" fill="#dde318"/>
<rect x="442.33" y="58.44" width="2.20" height="4.36" fill="#b8de29"/>
<rect x="442.33" y="62.75" width="2.20" height="4.36" fill="#89d548"/>
<rect x="442.33" y="67.06" width="2.20" height="4.36" fill="#69cd5b"/>
<rect x="442.33" y="71.37" width="2.20" height="4.36" fill="#3fbc73"/>
<rect x="442.33" y="75.68" width="2.20" height="4.36" fill="#25ac82"/>
<rect x="442.33" y="79.99" width="2.20" height="4.36" fill="#20928c"/>
<rect x="442.33" y="84.30" width="2.20" height="4.36" fill="#2e6d8e"/>
<rect x="444.48" y="45.51" width="2.20" height="4.36" fill="#e7e419"/>
<rect x="444.48" y="49.82" width="2.20" height="4.36" fill="#dfe318"/>
<rect x="444.48" y="54.13" width="2.20" height="4.36" fill="#c8e020"/>
<rect x="444.48" y="58.44" width="2.20" height="4.36" fill="#9dd93b"/>
<rect x="444.48" y="62.75" width="2.20" height="4.36" fill="#73d056"/>
<rect x="444.48" y="67.06" width="2.20" height="4.36" fill="#4cc26c"/>
<rect x="444.48" y="71.37" width="2.20" height="4.36" fill="#2eb37c"/>
<rect x="444.48" y="75.68" width="2.20" height="4.36" fill="#1fa188"/>
<rect x="444.48" y="79.99" width="2.20" height="4.36" fill="#228c8d"/>
<rect x="444.48" y="84.30" width="2.20" height="4.36" fill="#375a8c"/>
<rect x="446.64" y="45.51" width="2.20" height="4.36" fill="#fde725"/>
<rect x="446.64" y="49.82" width="2.20" height="4.36" fill="#f4e61e"/>
<rect x="446.64" y="54.13" width="2.20" height="4.36" fill="#dde318"/>
<rect x="446.64" y="58.44" width="2.20" height="4.36" fill="#addc30"/>
<rect x="446.64" y="62.75" width="2.20" height="4.36" fill="#86d549"/>
<rect x="446.64" y="67.06" width="2.20" height="4.36" fill="#54c568"/>
<rect x="446.64" y="71.37" width="2.20" height="4.36" fill="#3bbb75"/>
<rect x="446.64" y="75.68" width="2.20" height="4.36" fill="#1fa187"/>
<rect x="446.64" y="79.99" width="2.20" height="4.36" fill="#26828e"/>
<rect x="448.79" y="45.51" width="2.20" height="4.36" fill="#d8e219"/>
<rect x="448.79" y="49.82" width="2.20" height="4.36" fill="#d8e219"/>
<rect x="448.79" y="54.13" width="2.20" height="4.36" fill="#c2df23"/>
<rect x="448.79" y="58.44" width="2.20" height="4.36" fill="#93d741"/>
<rect x="448.79" y="62.75" width="2.20" height="4.36" fill="#5ac864"/>
<rect x="448.79" y="67.06" width="2.20" height="4.36" fill="#3bbb75"/>
<rect x="448.79" y="71.37" width="2.20" height="4.36" fill="#2cb17e"/>
<rect x="448.79" y="75.68" width="2.20" height="4.36" fill="#1f978b"/>
<rect x="448.79" y="79.99" width="2.20" height="4.36" fill="#29798e"/>
<rect x="450.95" y="41.20" width="2.20" height="4.36" fill="#fde725"/>
<rect x="450.95" y="45.51" width="2.20" height="4.36" fill="#fde725"/>
<rect x="450.95" y="49.82" width="2.20" height="4.36" fill="#f4e61e"/>
<rect x="450.95" y="54.13" width="2.20" height="4.36" fill="#d2e21b"/>
<rect x="450.95" y="58.44" width="2.20" height="4.36" fill="#a2da37"/>
<rect x="450.95" y="62.75" width="2.20" height="4.36" fill="#6ccd5a"/>
<rect x="450.95" y="67.06" width="2.20" height="4.36" fill="#40bd72"/>
<rect x="450.95" y="71.37" width="2.20" height="4.36" fill="#28ae80"/>
<rect x="450.95" y="75.68" width="2.20" height="4.36" fill="#20938c"/>
<rect x="450.95" y="79.99" width="2.20" height="4.36" fill="#2c728e"/>
<rect x="453.10" y="41.20" width="2.20" height="4.36" fill="#5ec962"/>
<rect x="453.10" y="45.51" width="2.20" height="4.36" fill="#b0dd2f"/>
<rect x="453.10" y="49.82" width="2.20" height="4.36" fill="#90d743"/>
<rect x="453.10" y="54.13" width="2.20" height="4.36" fill="#65cb5e"/>
<rect x="453.10" y="58.44" width="2.20" height="4.36" fill="#4cc26c"/>
<rect x="453.10" y="62.75" width="2.20" height="4.36" fill="#35b779"/>
<rect x="453.10" y="67.06" width="2.20" height="4.36" fill="#1e9d89"/>
<rect x="453.10" y="71.37" width="2.20" height="4.36" fill="#238a8d"/>
<rect x="453.10" y="75.68" width="2.20" height="4.36" fill="#2c738e"/>
<rect x="453.10" y="79.99" width="2.20" height="4.36" fill="#31688e"/>
<rect x="455.26" y="41.20" width="2.20" height="4.36" fill="#5ec962"/>
<rect x="455.26" y="45.51" width="2.20" height="4.36" fill="#a2da37"/>
<rect x="455.26" y="49.82" width="2.20" height="4.36" fill="#84d44b"/>
<rect x="455.26" y="54.13" width="2.20" height="4.36" fill="#60ca60"/>
<rect x="455.26" y="58.44" width="2.20" height="4.36" fill="#46c06f"/>
<rect x="455.26" y="62.75" width="2.20" height="4.36" fill="#23a983"/>
<rect x="455.26" y="67.06" width="2.20" height="4.36" fill="#1e9b8a"/>
<rect x="455.26" y="71.37" width="2.20" height="4.36" fill="#27808e"/>
<rect x="455.26" y="75.68" width="2.20" height="4.36" fill="#2c738e"/>
<rect x="455.26" y="79.99" width="2.20" height="4.36" fill="#2a778e"/>
<rect x="457.41" y="41.20" width="1.94" height="4.36" fill="#22a785"/>
<rect x="457.41" y="45.51" width="1.94" height="4.36" fill="#1e9d89"/>
<rect x="457.41" y="49.82" width="1.94" height="4.36" fill="#20928c"/>
<rect x="457.41" y="54.13" width="1.94" height="4.36" fill="#23888e"/>
<rect x="457.41" y="58.44" width="1.94" height="4.36" fill="#277f8e"/>
<rect x="457.41" y="62.75" width="1.94" height="4.36" fill="#2b748e"/>
<rect x="457.41" y="67.06" width="1.94" height="4.36" fill="#306a8e"/>
<rect x="457.41" y="71.37" width="1.94" height="4.36" fill="#34608d"/>
<rect x="457.41" y="75.68" width="1.94" height="4.36" fill="#3a548c"/>
</g>
<g clip-path="url(#cb)">
<path d="M436 725.5h2M540 574.5h2M416 743.5h1M484 744.5h2M488 547.5h2M448 654.5h1M459 540.5h2M529 667.5h1M407 721.5h3M451 558.5h2M528 730.5h3M437 575.5h2M421 637.5h2M495 680.5h3M492 630.5h2M420 585.5h1M490 658.5h3M500 665.5h2M453 669.5h1M488 678.5h2M524 575.5h1M487 573.5h3M517 620.5h3M530 571.5h2M548 575.5h2M493 591.5h2M525 663.5h3M490 656.5h2M457 631.5h1M433 720.5h2M431 548.5h2M505 546.5h1M437 741.5h3M429 616.5h3M530 549.5h1M517 715.5h3M520 569.5h3M485 573.5h2M536 572.5h2M474 610.5h2M398 623.5h1M550 708.5h3M444 683.5h2M485 670.5h2M488 554.5h3M541 672.5h2M477 569.5h1M440 714.5h3M500 599.5h2M486 741.5h1M451 550.5h3M498 565.5h3M496 727.5h2M470 644.5h3M451 595.5h3M502 522.5h1M441 629.5h1M555 570.5h2M398 563.5h2M541 676.5h3M500 585.5h1M409 627.5h3M528 543.5h2M531 742.5h2M411 700.5h2M491 662.5h2M474 520.5h2M555 535.5h3M522 534.5h1M501 561.5h2M527 567.5h2M405 612.5h1M538 575.5h1M482 641.5h2M538 576.5h3M542 699.5h2M540 623.5h2M532 706.5h2M416 623.5h2M529 671.5h3M455 706.5h1M488 566.5h1M541 661.5h2M532 634.5h1M416 569.5h3M494 594.5h2M505 563.5h3M527 688.5h2M523 681.5h2M408 546.5h2M433 687.5h2M540 527.5h1M421 558.5h3M509 673.5h2M529 577.5h2M419 635.5h2M409 601.5h2M420 578.5h2M509 577.5h2M418 603.5h3M534 690.5h1M424 677.5h1M540 524.5h3M478 530.5h2M470 708.5h3M448 564.5h2M481 540.5h2M534 623.5h2M501 610.5h1M408 566.5h2M487 573.5h3M553 711.5h2M497 573.5h2M434 652.5h1M496 576.5h2M544 732.5h1M479 526.5h2M456 592.5h1M423 536.5h2M540 698.5h2M549 658.5h2M490 538.5h3M478 647.5h1M475 529.5h3M477 622.5h1M538 541.5h1M469 652.5h1M494 573.5h2M449 719.5h2M483 598.5h2M513 732.5h1M438 701.5h3M527 739.5h3M397 618.5h2M457 731.5h2M545 685.5h2M539 599.5h2M546 606.5h3M488 639.5h2M454 577.5h2M468 704.5h2M509 530.5h2M547 580.5h2M496 566.5h3M466 691.5h3M491 689.5h2M498 644.5h3M524 539.5h2M480 690.5h1M464 638.5h2M520 655.5h2M546 705.5h2M462 692.5h2M502 567.5h3M541 580.5h1M511 666.5h1M480 687.5h2M546 627.5h2M402 691.5h2M470 689.5h2M408 699.5h3M492 619.5h3M478 555.5h3M525 666.5h1M519 721.5h2M508 739.5h3M535 589.5h3M403 577.5h1M411 648.5h2M477 711.5h3M407 630.5h2M508 675.5h2M464 564.5h2M459 722.5h2M515 642.5h1M471 655.5h2M400 627.5h1M393 743.5h3M476 566.5h2M445 742.5h3M479 560.5h1M442 564.5h3M523 590.5h2M467 566.5h1M506 668.5h1M436 545.5h2M467 543.5h3M494 566.5h2M549 528.5h1M528 705.5h3M518 570.5h1M534 529.5h1M468 637.5h1M554 662.5h2M400 710.5h2M513 638.5h3M505 625.5h2M398 559.5h1M531 570.5h1M519 603.5h3M504 597.5h3M513 577.5h2M503 728.5h2M540 606.5h2M522 706.5h2M454 699.5h2M428 691.5h2M555 688.5h3M465 539.5h2M492 730.5h3M548 554.5h1M540 640.5h2M542 722.5h2M404 563.5h3M407 541.5h1M422 567.5h3M555 710.5h1M472 627.5h3M495 533.5h3M478 641.5h3M491 575.5h1M452 521.5h1M496 653.5h1M529 630.5h2M513 673.5h2M545 584.5h3M425 544.5h2M416 562.5h3M413 712.5h3M457 669.5h2M527 575.5h3M393 574.5h2M537 541.5h1M512 572.5h1M489 711.5h3M554 533.5h3M498 566.5h3M477 631.5h1M451 633.5h2M482 537.5h2M393 726.5h3M440 639.5h2M551 728.5h2M521 553.5h2M393 680.5h2M539 658.5h2M549 567.5h2M403 566.5h2M478 577.5h3M469 580.5h3M462 678.5h3M468 523.5h2M545 673.5h2M546 741.5h1M549 743.5h3M502 623.5h2M440 676.5h1M430 730.5h1M429 734.5h2M481 715.5h3M495 583.5h2M492 716.5h3M512 569.5h1M424 542.5h2M420 663.5h3M511 720.5h2M444 643.5h1M526 698.5h1M444 647.5h2M548 717.5h3M508 558.5h2M439 577.5h3M482 526.5h2M475 656.5h2M522 681.5h2M550 664.5h1M516 613.5h1M419 569.5h2M519 702.5h2M481 604.5h2M473 521.5h1M538 653.5h3M420 670.5h2M437 700.5h2M519 565.5h3M518 576.5h2M519 616.5h2M525 640.5h1M404 707.5h3M425 651.5h1M553 718.5h2M478 659.5h1M475 614.5h1M519 590.5h3M532 684.5h1M430 584.5h2M512 726.5h2M542 693.5h2M505 543.5h3M498 609.5h2M395 670.5h2M518 701.5h2M462 605.5h3M474 533.5h2M506 730.5h2M480 572.5h3M544 565.5h3M503 657.5h2M408 743.5h3M477 520.5h3M499 620.5h3M409 574.5h2M526 594.5h2M488 576.5h2M467 653.5h2M418 577.5h2M469 718.5h1M404 637.5h3M553 724.5h3M425 565.5h2M486 565.5h3M527 681.5h2M530 537.5h3M425 578.5h2M522 619.5h1M499 715.5h3M522 721.5h2M464 626.5h2M442 680.5h2M547 612.5h2M489 581.5h1M444 564.5h2M451 536.5h2M408 576.5h2M479 566.5h2M489 623.5h2M540 663.5h3M505 682.5h2M543 608.5h2M465 689.5h3M542 564.5h1M537 572.5h1M500 704.5h2M455 553.5h3M463 635.5h2M409 571.5h2M527 663.5h3M494 668.5h2M500 571.5h1M431 738.5h1M401 636.5h1M527 645.5h2M523 728.5h1M466 621.5h3M516 531.5h2M419 571.5h2M493 699.5h3M430 564.5h1M505 580.5h2M409 588.5h2M414 563.5h2M446 676.5h3M485 570.5h2M539 569.5h2M556 672.5h2M465 703.5h2M527 609.5h2M397 618.5h2M424 739.5h3M514 650.5h3M491 569.5h2M472 577.5h3M511 612.5h1M425 586.5h1M459 740.5h3M509 674.5h1M467 743.5h3M492 720.5h1M437 631.5h2M545 521.5h1M425 539.5h3M521 591.5h1M459 576.5h1M466 647.5h2M504 571.5h1M552 565.5h2M546 727.5h2M524 733.5h3M462 653.5h2M553 663.5h2M411 716.5h2M494 635.5h3M498 677.5h2M464 620.5h1M466 608.5h1M528 528.5h2M508 670.5h1M540 567.5h2M551 656.5h2M478 643.5h3M437 675.5h3M536 576.5h1M487 543.5h3M499 722.5h1M554 598.5h1M531 705.5h1M432 724.5h2M451 564.5h1M494 675.5h3M502 641.5h2M429 579.5h2M465 661.5h3M414 657.5h2M506 566.5h3M506 557.5h2M460 527.5h2M397 664.5h2M492 718.5h1M498 670.5h2M476 606.5h2M492 724.5h2M483 593.5h1M556 704.5h2M439 705.5h1M407 550.5h2M461 567.5h2M451 603.5h1M535 665.5h2M486 700.5h2M521 673.5h2M406 724.5h2M536 617.5h3M433 529.5h2M440 571.5h3M517 718.5h1M512 522.5h1M473 572.5h2M520 690.5h3M455 715.5h1M514 689.5h1M518 709.5h2M432 615.5h1M473 626.5h3M453 713.5h3M514 624.5h2M449 570.5h3M498 627.5h3M490 584.5h3M417 575.5h3M480 641.5h2M515 588.5h2M418 629.5h2M500 739.5h2M417 560.5h3M477 540.5h2M529 589.5h1M472 574.5h2M533 549.5h2M512 664.5h1M538 568.5h1M492 736.5h3M531 572.5h3M442 571.5h2M524 723.5h2M525 574.5h1M507 661.5h3M492 710.5h2M535 707.5h3M506 604.5h2M458 528.5h3M545 603.5h3M392 637.5h2M473 711.5h2M470 732.5h2M455 664.5h2M400 701.5h3M398 664.5h2M455 729.5h2M533 605.5h3M504 676.5h3M518 633.5h1M449 709.5h2M395 727.5h2M457 608.5h2M537 724.5h2M473 598.5h2M532 578.5h1M491 706.5h2M480 694.5h3M539 585.5h1M430 692.5h2M466 638.5h2M454 539.5h2M457 714.5h2M547 737.5h2M541 563.5h2M433 573.5h2M468 724.5h1M476 576.5h3M531 578.5h2M418 525.5h2M393 730.5h2M458 605.5h2M480 696.5h2M505 581.5h2M498 577.5h1M497 624.5h2M551 579.5h1M487 572.5h1M514 618.5h3M552 674.5h2M408 534.5h2M516 554.5h1M475 539.5h2M461 589.5h3M496 714.5h2M532 708.5h1M421 737.5h1M488 742.5h1M537 702.5h2M454 643.5h1M541 647.5h1M554 649.5h3M504 559.5h3M552 573.5h2M431 579.5h3M463 695.5h3M413 549.5h2M485 669.5h1M452 564.5h2M518 596.5h3M484 611.5h2M516 634.5h2M521 596.5h2M443 614.5h1M553 571.5h3M463 641.5h2M410 596.5h1M539 635.5h2M452 597.5h1M520 564.5h3M411 563.5h2M486 594.5h2M455 616.5h2M396 541.5h2M525 539.5h2M501 577.5h2M525 581.5h2M503 562.5h2M498 693.5h3M455 522.5h2M423 655.5h2M551 557.5h2M487 633.5h2M550 703.5h2M473 733.5h3M525 723.5h1M394 563.5h3M463 564.5h2M502 716.5h2M491 567.5h1M473 576.5h2M465 593.5h1M474 553.5h1M523 625.5h1M504 596.5h2M406 596.5h2M491 665.5h3M434 679.5h2M476 602.5h1M470 536.5h3M432 525.5h3M434 600.5h2M403 581.5h2M426 617.5h3M527 711.5h2M421 526.5h2M470 573.5h1M483 652.5h1M393 566.5h2M443 638.5h2M518 634.5h2M555 647.5h3M396 697.5h3M394 521.5h2M522 522.5h1M427 599.5h3M419 579.5h2M413 676.5h3M517 576.5h1M399 667.5h2M487 591.5h3M550 538.5h1M429 740.5h2M546 580.5h1M475 576.5h2M464 638.5h2M550 569.5h3M547 602.5h1M402 596.5h2M545 734.5h3M470 639.5h2M488 702.5h2M488 728.5h2M525 629.5h3M438 606.5h1M407 713.5h1M440 579.5h1M517 688.5h3M511 564.5h2M469 693.5h2M515 619.5h1M548 650.5h2M518 564.5h2M444 520.5h1M546 565.5h2M484 621.5h1M457 642.5h2M513 740.5h2M506 703.5h2M436 569.5h2M469 587.5h1M395 651.5h1M462 523.5h1M543 522.5h2M506 575.5h2M449 525.5h3M507 585.5h2M468 586.5h1M473 638.5h2M533 529.5h2M426 618.5h3M518 677.5h2M522 580.5h2M409 546.5h2M494 623.5h2M457 591.5h2M504 567.5h1M483 529.5h1M525 681.5h2M488 647.5h1M399 573.5h1M480 529.5h2M477 644.5h1M543 587.5h1M393 709.5h2M497 708.5h2M535 526.5h2M514 551.5h2M478 618.5h2M492 577.5h3M405 584.5h1M549 572.5h1M444 519.5h3M547 570.5h1M462 600.5h1M422 577.5h2M453 626.5h2M544 548.5h1M445 629.5h2M505 581.5h1M478 600.5h2M455 572.5h1M493 672.5h1M443 588.5h2M493 573.5h1M420 671.5h1M472 624.5h2M423 622.5h2M489 628.5h3M524 632.5h3M496 718.5h3M478 539.5h3M540 608.5h3M410 547.5h2M479 684.5h2M412 715.5h1M427 538.5h3M481 614.5h2M441 520.5h1M555 565.5h3M396 725.5h2M481 711.5h2M401 611.5h2M419 599.5h3M488 664.5h1M540 585.5h2M400 566.5h1M533 738.5h3M484 564.5h1M524 645.5h1M396 598.5h2M403 619.5h3M550 530.5h2M413 564.5h2M463 718.5h1M436 571.5h2M484 538.5h2M419 728.5h3M514 647.5h2M493 641.5h2M525 735.5h1M469 588.5h2M411 712.5h1M460 561.5h1M425 584.5h1M517 561.5h2M462 571.5h2M445 737.5h2M452 564.5h3M459 740.5h2M497 718.5h2M484 551.5h2M450 577.5h2M427 578.5h1M438 595.5h1M412 675.5h1M509 611.5h3M445 679.5h2M549 622.5h2M495 732.5h2M436 605.5h1M524 598.5h1M505 709.5h2M462 708.5h1M492 710.5h3M544 650.5h3M520 610.5h2M530 705.5h2M542 573.5h3M543 607.5h1M546 713.5h1M509 597.5h2M487 673.5h3M541 698.5h3M554 573.5h1M430 678.5h1M467 566.5h3M441 618.5h2M534 717.5h2M518 650.5h2M467 686.5h3M396 524.5h3M395 557.5h2M405 618.5h3M468 580.5h3M513 685.5h3M411 527.5h3M481 531.5h2M416 732.5h1M493 610.5h2M498 583.5h1M482 617.5h2M484 578.5h1M413 536.5h1M425 607.5h3M552 568.5h2M498 637.5h2M462 532.5h2M479 664.5h2M487 564.5h2M554 551.5h1M394 707.5h2M480 564.5h1M444 588.5h2M549 723.5h2M469 573.5h1M533 608.5h2M420 729.5h1M542 685.5h2M439 613.5h2M472 697.5h1M446 664.5h2M479 618.5h2M526 597.5h2M477 612.5h3M457 720.5h2M492 662.5h2M501 702.5h3M475 723.5h2M517 659.5h1M533 712.5h2M464 574.5h2M463 558.5h2M477 695.5h2M446 627.5h3M548 587.5h1M523 676.5h2M438 654.5h1M485 724.5h2M550 554.5h1M419 676.5h2M455 579.5h2M457 566.5h2M493 682.5h1M406 722.5h2M477 716.5h2M479 573.5h2M522 570.5h3M489 557.5h2M545 523.5h2M468 534.5h1M533 545.5h2M531 533.5h2M510 669.5h3M513 588.5h3M432 693.5h2M489 563.5h3M532 617.5h2M533 585.5h3M548 574.5h3M407 701.5h1M496 579.5h2M432 578.5h2M411 739.5h2M517 609.5h1M478 629.5h1M529 563.5h2M499 707.5h3M497 642.5h1M486 668.5h1M428 627.5h2M513 685.5h2M525 577.5h3M554 623.5h3M546 565.5h3M509 666.5h2M465 595.5h3M457 660.5h2M463 704.5h2M542 534.5h2M436 576.5h3M485 736.5h3M525 737.5h2M468 668.5h3M469 710.5h3M463 723.5h3M435 603.5h3M538 727.5h1M393 587.5h3M512 606.5h1M521 713.5h3M473 529.5h3M507 544.5h1M464 655.5h1M496 525.5h1M464 584.5h1M472 567.5h1M393 559.5h2M544 706.5h1M535 662.5h1M508 685.5h2M445 527.5h2M461 670.5h2M413 576.5h1M413 533.5h1M546 564.5h2M525 577.5h2M535 570.5h2M393 609.5h1M552 706.5h3M525 638.5h1M418 581.5h1M546 659.5h2M548 529.5h2M538 683.5h2M461 575.5h2M455 557.5h1M454 523.5h3M456 574.5h3M546 661.5h2M454 733.5h1M528 581.5h2M554 568.5h2M454 588.5h1M504 707.5h1M462 539.5h1M527 577.5h3M517 708.5h3M531 540.5h2M518 557.5h2M446 651.5h1M520 546.5h2M463 636.5h3M461 613.5h2M445 669.5h2M403 610.5h1M532 630.5h2M551 705.5h2M531 716.5h2M480 726.5h3M468 738.5h2M519 635.5h3M490 633.5h3M536 637.5h1M398 617.5h1M556 549.5h2M492 570.5h2M480 587.5h3M529 705.5h2M481 649.5h1M478 571.5h1M456 581.5h2M428 677.5h2M477 641.5h3M401 571.5h1M532 569.5h2M470 549.5h1M465 568.5h1M502 677.5h3M487 565.5h2M546 552.5h2M530 545.5h3M532 552.5h1M435 541.5h2M436 598.5h2M482 613.5h2M512 715.5h3M460 721.5h2M552 556.5h2M434 533.5h2M543 588.5h1M473 730.5h2M550 644.5h2M484 590.5h3M439 522.5h1M521 650.5h1M546 651.5h3M526 593.5h3M520 565.5h1M529 568.5h1M398 565.5h2M415 687.5h3M474 530.5h2M537 647.5h3M479 700.5h2M410 558.5h1M472 546.5h3M401 684.5h1M554 652.5h2M484 621.5h3M487 554.5h2M410 566.5h3M509 602.5h2M482 573.5h3M456 641.5h2M447 568.5h3M467 568.5h3M520 574.5h1M429 562.5h2M454 622.5h2M520 687.5h1M407 610.5h1M493 632.5h3M456 576.5h3M426 723.5h1M497 544.5h2M481 574.5h3M419 612.5h3M457 544.5h3M396 563.5h2M433 604.5h2M526 639.5h2M541 735.5h2M496 521.5h2M542 670.5h3M505 669.5h1M462 739.5h2M502 620.5h1M442 717.5h2M484 712.5h2M528 675.5h2M400 705.5h3M440 734.5h2M438 626.5h3M548 707.5h1M523 729.5h2M392 569.5h1M542 611.5h1M554 524.5h3M509 561.5h3M414 683.5h2M476 616.5h2M489 688.5h1M456 637.5h2M437 525.5h3M446 654.5h2M545 657.5h1M476 725.5h2M464 691.5h1M507 564.5h2M404 601.5h2M473 690.5h3M481 708.5h2M435 660.5h2M529 566.5h2M496 661.5h2M532 737.5h2M471 594.5h2M523 566.5h3M461 553.5h3M399 709.5h2M528 670.5h2M501 575.5h1M400 543.5h3M411 693.5h2M550 641.5h2M417 696.5h2M486 626.5h2M405 556.5h1M532 694.5h2M486 632.5h2M537 534.5h2M541 569.5h1M434 679.5h2M476 728.5h2M428 681.5h2M437 522.5h1M460 678.5h2M491 713.5h2M467 632.5h2M414 625.5h3M404 639.5h3M523 521.5h2M481 606.5h3M447 734.5h2M420 724.5h2M554 571.5h2M468 564.5h1M516 684.5h1M534 557.5h2M532 647.5h2M515 709.5h3M507 656.5h3M403 639.5h1M413 552.5h2M483 570.5h2M487 568.5h2M472 713.5h1M498 731.5h3M500 574.5h2M422 637.5h3M481 647.5h2M549 632.5h2M442 690.5h2M546 667.5h3M521 692.5h2M485 628.5h2M551 689.5h2M480 523.5h3M529 650.5h1M522 569.5h2M512 577.5h3M442 560.5h2M546 570.5h3M490 625.5h2M494 646.5h2M467 741.5h1M542 533.5h1M545 528.5h2M435 583.5h2M465 588.5h3M456 713.5h1M405 706.5h3M393 568.5h2M548 634.5h2M496 600.5h1M419 727.5h2M418 577.5h3M427 589.5h3M395 674.5h3M513 596.5h2M523 695.5h2M516 540.5h1M432 644.5h2M550 741.5h1M554 657.5h3M446 665.5h2M469 616.5h2M536 574.5h2M431 703.5h1M426 734.5h1M515 592.5h2M537 565.5h1M471 712.5h3M517 732.5h3M475 657.5h2M548 637.5h1M501 725.5h2M403 733.5h1M554 565.5h2M471 625.5h3M480 559.5h2M483 609.5h1M486 599.5h2M490 577.5h1M409 566.5h2M467 571.5h2M511 633.5h2M496 663.5h2M480 554.5h3M518 695.5h2M456 576.5h3M520 525.5h1M467 716.5h2M476 559.5h2M444 566.5h3M516 608.5h2M469 725.5h3M417 693.5h1M533 563.5h2M428 653.5h3M501 730.5h3M490 743.5h3M405 676.5h2M484 707.5h1M547 573.5h3M482 675.5h2M542 577.5h3M515 528.5h2M433 711.5h2M458 611.5h3M479 560.5h3M554 572.5h2M512 738.5h1M412 676.5h1M457 575.5h1M477 589.5h2M480 567.5h1M512 671.5h2M473 611.5h3M438 741.5h1M501 706.5h3M526 552.5h2M418 637.5h1M522 637.5h2M517 623.5h2M530 522.5h1M506 635.5h2M477 535.5h2M463 724.5h2M436 617.5h2M413 578.5h1M473 679.5h2M420 625.5h2M435 579.5h2M524 683.5h2M453 636.5h3M416 574.5h2M529 571.5h2M527 679.5h3M443 737.5h2M496 729.5h1M541 672.5h1M453 727.5h2M415 557.5h3M549 537.5h1M448 569.5h2M541 564.5h3M456 737.5h1M523 633.5h1M465 579.5h1M512 638.5h2M427 737.5h3M520 670.5h3M550 647.5h2M524 726.5h3M498 583.5h2M515 576.5h3M550 730.5h2M496 731.5h2M471 574.5h1M426 603.5h3M550 533.5h2M441 712.5h1M486 736.5h3M413 723.5h1M515 575.5h2M496 618.5h2M542 625.5h2M524 602.5h2M510 712.5h2M482 651.5h2M548 564.5h1M498 526.5h1M522 694.5h2M539 539.5h2M553 578.5h3M485 695.5h2M528 575.5h2M470 548.5h3M478 731.5h1M523 675.5h2M395 731.5h2M466 659.5h3M528 521.5h2M420 643.5h2M532 698.5h3M443 545.5h3M405 670.5h2M509 678.5h1M527 699.5h2M475 555.5h2M544 552.5h1M431 703.5h2M510 574.5h3M451 561.5h2M531 586.5h2M514 648.5h2M479 645.5h3M513 607.5h3M539 677.5h2M553 666.5h3M498 557.5h2M476 522.5h2M536 683.5h3M530 593.5h2M555 612.5h2M393 550.5h3M402 672.5h3M448 553.5h2M552 652.5h3M433 639.5h1M484 599.5h1M502 710.5h2M521 709.5h2M519 603.5h3M404 589.5h1M460 564.5h2M470 718.5h2M460 560.5h2M529 571.5h3M477 646.5h2M411 557.5h3M492 734.5h2M406 568.5h2M483 576.5h2M555 570.5h1M494 569.5h2M517 708.5h2M517 577.5h3M499 695.5h1M502 575.5h3M549 678.5h3M451 692.5h2M545 670.5h2M551 567.5h2M421 567.5h2M459 544.5h3M542 575.5h2M489 568.5h3M487 568.5h2M526 675.5h2M515 669.5h2M473 664.5h3M496 647.5h1M457 650.5h1M511 591.5h2M489 642.5h3M468 701.5h2M512 564.5h1M435 571.5h2M442 593.5h3M484 570.5h2M549 568.5h2M524 687.5h2M550 563.5h3M525 666.5h3M488 544.5h2M532 583.5h1M516 732.5h2M551 568.5h2M426 735.5h1M510 649.5h1M477 616.5h2M417 565.5h2M487 559.5h1M471 659.5h2M500 650.5h3M491 698.5h3M513 578.5h2M409 633.5h1M513 740.5h3M503 701.5h2M494 595.5h3M512 619.5h3M513 569.5h2M453 676.5h2M466 597.5h1M474 564.5h3M455 574.5h3M418 733.5h2M433 543.5h2M433 688.5h2M454 574.5h1M407 576.5h2M459 553.5h2M410 728.5h2M548 571.5h2M500 701.5h3M533 619.5h2M405 672.5h1M482 668.5h2M480 568.5h3M501 667.5h2M492 557.5h3M395 664.5h2M508 730.5h3M506 572.5h3M436 674.5h3M549 624.5h1M443 531.5h2M538 720.5h1M524 551.5h2M507 579.5h3M461 692.5h3M525 578.5h2M526 592.5h2M475 575.5h1M438 588.5h1M395 648.5h1M412 560.5h3M466 574.5h3M504 623.5h2M442 694.5h1M454 732.5h1M501 716.5h1M463 608.5h2M511 645.5h3M500 572.5h1M429 616.5h1M427 612.5h3M543 564.5h3M511 535.5h2M476 566.5h1M482 576.5h3M395 594.5h2M554 576.5h1M555 591.5h2M483 637.5h2M538 687.5h3M436 558.5h2M472 548.5h2M420 539.5h3M505 528.5h2M522 723.5h2M473 621.5h3M553 625.5h2M546 618.5h3M498 722.5h3M453 621.5h2M524 688.5h3M512 532.5h2M522 604.5h1M526 576.5h2M494 610.5h3M509 679.5h1M401 631.5h1M546 685.5h1M490 691.5h2M443 540.5h2M542 728.5h3M493 565.5h2M541 585.5h2M412 667.5h1M479 717.5h3M413 569.5h3M470 587.5h3M468 571.5h2M517 711.5h2M419 656.5h3M494 635.5h3M413 648.5h2M506 602.5h2M548 683.5h2M548 520.5h2M541 573.5h3M400 609.5h2M457 552.5h2M497 577.5h2M396 602.5h1M478 546.5h1M410 612.5h1M433 545.5h2M534 732.5h2M533 549.5h1M548 598.5h2M551 641.5h2M463 651.5h2M482 565.5h2M507 724.5h2M500 530.5h2M521 711.5h3M455 651.5h3M482 587.5h3M476 651.5h2M431 605.5h2M523 720.5h1M554 677.5h2M428 588.5h2M461 570.5h3M422 575.5h1M451 656.5h2M466 694.5h1M463 574.5h1M424 559.5h2M403 583.5h3M535 600.5h3M459 697.5h3M534 529.5h1M416 605.5h1M410 665.5h1M519 720.5h1M438 646.5h2M550 655.5h2M457 537.5h3M441 526.5h1M464 609.5h2M468 700.5h3M457 535.5h2M453 664.5h2M450 632.5h2M422 680.5h2M538 623.5h1M544 526.5h1M546 540.5h2M552 695.5h1M403 728.5h1M495 627.5h1M403 650.5h3M460 738.5h3M519 739.5h1M545 741.5h2M416 599.5h2M483 563.5h2M508 612.5h3M503 674.5h1M474 732.5h3M536 733.5h2M544 566.5h2M421 534.5h2M459 673.5h3M458 542.5h3M476 681.5h1M502 743.5h2M456 586.5h3M446 724.5h1M537 624.5h3M502 589.5h2M531 695.5h2M492 602.5h2M508 669.5h1M479 524.5h2M522 539.5h3M526 577.5h1M444 702.5h3M494 594.5h2M507 541.5h2M482 663.5h2M535 596.5h3M408 612.5h2M466 577.5h2M426 671.5h1M479 550.5h3M516 658.5h2M530 620.5h3M456 725.5h1M530 685.5h3M520 592.5h1M502 614.5h2M486 562.5h2M403 678.5h1M444 618.5h2M511 535.5h2M450 667.5h3M509 612.5h1M446 737.5h3M505 627.5h2M530 613.5h1M463 680.5h1M554 527.5h3M515 679.5h2M427 609.5h2M456 589.5h2M493 665.5h1M499 617.5h3M552 520.5h1M459 712.5h1M495 606.5h2M490 525.5h1M404 621.5h1M466 675.5h2M527 656.5h1M528 682.5h1M401 671.5h2M443 626.5h3M414 602.5h3M498 659.5h1M549 585.5h1M396 660.5h1M452 683.5h1M473 694.5h3M424 570.5h2M476 663.5h1M460 628.5h2M401 729.5h1M423 531.5h2M517 741.5h2M502 689.5h2M454 522.5h3M537 636.5h2M551 546.5h2M526 669.5h3M504 572.5h2M495 537.5h1M465 708.5h3M538 578.5h2M496 670.5h2M492 660.5h3M521 687.5h2M497 717.5h3M477 536.5h3M452 674.5h1M432 577.5h2M495 730.5h1M458 668.5h2M457 591.5h2M541 723.5h1M554 535.5h2M516 572.5h2M466 611.5h2M483 634.5h2M544 617.5h2M468 736.5h2M411 732.5h2M534 600.5h2M493 720.5h2M543 610.5h3M524 710.5h2M493 576.5h2M470 575.5h2M553 578.5h2M464 669.5h2M456 588.5h2M465 581.5h2M476 627.5h1M466 693.5h3M494 621.5h1M402 576.5h2M440 574.5h2M544 563.5h2M496 653.5h2M549 671.5h2M420 718.5h1M400 570.5h2M550 693.5h2M404 577.5h3M484 640.5h1M475 584.5h3M552 522.5h2M463 555.5h2M510 740.5h1M430 575.5h3M520 650.5h3M529 669.5h1M466 567.5h3M459 589.5h2M457 615.5h2M494 615.5h3M547 596.5h3M543 600.5h2M404 544.5h2M485 575.5h2M465 726.5h1M459 568.5h2M463 565.5h3M508 722.5h3M536 693.5h1M513 612.5h1M500 618.5h3M420 688.5h2M465 602.5h3M492 595.5h2M532 720.5h3M449 555.5h2M453 573.5h3M510 640.5h2M524 567.5h2M396 564.5h1M487 741.5h2M492 569.5h2M448 572.5h1M525 600.5h2M544 592.5h2M408 573.5h1M476 731.5h2M552 695.5h1M523 565.5h2M528 704.5h2M469 600.5h3M445 715.5h2M493 634.5h2M487 704.5h1M472 643.5h1M549 595.5h1M477 721.5h1M464 711.5h3M455 699.5h2M464 572.5h2M423 573.5h2M424 596.5h2M500 675.5h1M457 563.5h2M424 689.5h1M521 524.5h2M476 631.5h2M445 678.5h2M512 553.5h1M495 580.5h1M402 665.5h2M550 583.5h2M482 697.5h2M503 743.5h2M536 571.5h2M482 574.5h2M513 605.5h2M548 597.5h2M513 650.5h1M463 607.5h3M533 529.5h1M441 571.5h3M434 610.5h1M541 611.5h2M491 572.5h1M411 646.5h1M478 640.5h2M437 680.5h2M520 574.5h3M419 659.5h2M464 655.5h2M550 680.5h1M531 724.5h3M473 623.5h1M546 566.5h2M437 597.5h3M531 690.5h1M479 715.5h2M478 630.5h2M459 733.5h2M515 735.5h2M536 542.5h1M548 556.5h3M447 695.5h2M550 571.5h2M401 629.5h1M484 584.5h1M394 572.5h2M463 705.5h3M528 578.5h3M426 579.5h2M537 526.5h1M480 629.5h3M487 669.5h3M461 674.5h2M491 537.5h3M551 636.5h3M555 626.5h1M399 672.5h1M475 729.5h2M482 612.5h2M407 531.5h2M543 567.5h1M465 713.5h2M520 591.5h1M448 649.5h3M542 572.5h2M519 744.5h3M456 566.5h3M412 666.5h2M541 681.5h3M463 522.5h3M495 532.5h1M556 641.5h2M417 667.5h2M549 640.5h1M492 533.5h2M539 731.5h3M537 654.5h3M456 546.5h3M449 539.5h2M484 569.5h2M487 692.5h1M530 578.5h2M523 561.5h2M450 631.5h1M531 700.5h3M483 531.5h3M545 722.5h1M451 551.5h1M554 637.5h2M487 594.5h3M469 621.5h1M552 682.5h3M469 569.5h2M436 560.5h3M526 696.5h2M480 577.5h2M393 608.5h3M489 659.5h2M429 538.5h2M491 668.5h2M553 713.5h1M537 572.5h2M532 717.5h2M541 574.5h1M519 543.5h2M474 542.5h3M445 733.5h1M512 575.5h2M531 702.5h2M426 707.5h2M508 525.5h3M548 565.5h2M472 693.5h2M490 571.5h3M508 725.5h3M550 682.5h1M506 654.5h1M542 613.5h2M468 641.5h3M507 669.5h2M521 588.5h2M550 706.5h2M449 731.5h2M485 561.5h3M406 668.5h2M427 663.5h3M489 710.5h2M433 596.5h3M511 678.5h2M479 697.5h2M430 592.5h1M499 715.5h1M506 685.5h1M416 719.5h2M556 577.5h3M402 602.5h2M547 578.5h1M485 630.5h1M477 693.5h1M496 728.5h2M409 612.5h2M537 568.5h2M512 610.5h3M400 599.5h2M533 683.5h1M478 659.5h1M479 692.5h3M534 562.5h3M495 574.5h2M554 676.5h1M549 620.5h2M475 607.5h3M433 550.5h3M507 615.5h2M503 552.5h3M449 597.5h1M516 668.5h1M439 525.5h1M549 713.5h3M476 529.5h2M423 706.5h3M551 614.5h3M495 572.5h2M527 574.5h2M482 597.5h2M520 572.5h3M492 533.5h2M556 573.5h3M459 654.5h1M475 737.5h2M494 688.5h2M461 615.5h2M478 581.5h3M395 576.5h2M473 697.5h3M485 655.5h3M528 701.5h1M440 592.5h2M496 675.5h1M456 583.5h2M486 577.5h1M418 607.5h3M535 738.5h2M475 564.5h2M409 605.5h3M480 611.5h2M530 692.5h1M539 611.5h2M428 714.5h3M498 523.5h2M528 739.5h2M464 706.5h2M504 703.5h1M500 542.5h3M511 687.5h1M453 612.5h2M524 523.5h2M423 568.5h2M533 653.5h1M523 620.5h2M456 573.5h1M441 576.5h2M535 574.5h2M473 575.5h1M494 588.5h2M472 522.5h1M408 552.5h1M520 521.5h1M532 613.5h3M479 633.5h2M459 673.5h2M406 681.5h2M548 674.5h3M492 565.5h2M472 684.5h3M469 683.5h2M543 522.5h3M534 568.5h1M463 554.5h2M480 589.5h2M453 567.5h1M529 587.5h2M494 568.5h2M414 684.5h2M471 552.5h2M544 648.5h1M399 639.5h1M398 648.5h3M443 667.5h1M421 521.5h3M429 565.5h2M546 532.5h1M548 661.5h2M554 714.5h2M470 737.5h2M399 731.5h1M514 602.5h2M541 675.5h3M537 673.5h2M404 712.5h3M542 726.5h1M473 635.5h2M459 720.5h2M494 575.5h3M458 543.5h2M491 715.5h1M509 563.5h2M514 565.5h3M479 544.5h1M500 569.5h1M545 648.5h2M432 646.5h2M534 584.5h2M513 577.5h3M513 546.5h1M511 578.5h1M549 738.5h2M507 666.5h2M546 613.5h1M457 566.5h2M469 564.5h2M513 569.5h1M488 662.5h2M516 742.5h2M541 602.5h2M550 553.5h1M429 532.5h2M508 595.5h2M421 524.5h1M544 714.5h1M445 676.5h1M548 703.5h3M426 564.5h2M402 577.5h2M446 703.5h2M438 644.5h2M445 712.5h3M510 551.5h2M527 565.5h2M443 549.5h1M449 725.5h2M534 740.5h3M432 667.5h2M542 652.5h1M437 590.5h1M486 695.5h2M550 563.5h3M503 684.5h3M503 560.5h3" stroke="#471063" stroke-width="1.1" fill="none"/>
<path d="M491 680.5h2M403 670.5h3M546 569.5h2M435 634.5h2M513 719.5h1M503 606.5h2M492 666.5h1M505 728.5h1M409 676.5h2M551 598.5h3M524 732.5h1M470 643.5h1M525 522.5h1M462 571.5h2M485 569.5h2M527 637.5h3M529 695.5h1M541 723.5h3M454 586.5h3M456 629.5h2M420 567.5h1M532 596.5h2M539 617.5h1M469 605.5h3M440 588.5h2M542 534.5h1M393 704.5h2M506 743.5h1M508 703.5h2M485 565.5h2M540 698.5h2M476 601.5h2M465 585.5h1M536 523.5h2M445 707.5h2M460 615.5h2M435 643.5h3M518 530.5h3M525 675.5h3M468 574.5h2M519 557.5h2M528 538.5h2M439 608.5h2M431 700.5h3M398 619.5h3M527 522.5h1M473 668.5h3M403 532.5h2M489 535.5h1M405 618.5h1M402 525.5h3M541 725.5h3M497 601.5h1M482 730.5h2M532 725.5h2M523 719.5h2M499 700.5h1M505 577.5h2M464 652.5h2M457 669.5h3M552 542.5h2M473 596.5h3M533 685.5h1M482 582.5h2M522 698.5h3M480 541.5h2M469 529.5h2M483 735.5h3M522 619.5h1M485 730.5h3M472 608.5h2M507 723.5h3M462 537.5h2M400 535.5h2M474 575.5h2M439 712.5h1M413 656.5h2M430 555.5h2M518 647.5h1M493 530.5h2M485 689.5h3M509 603.5h2M526 575.5h1M535 739.5h1M453 574.5h2M543 572.5h3M505 679.5h2M476 565.5h1M496 564.5h2M423 543.5h2M445 703.5h2M495 651.5h3M489 722.5h3M517 743.5h3M463 573.5h2M444 648.5h2M417 704.5h3M449 554.5h3M489 593.5h3M464 599.5h3M552 633.5h1M497 564.5h3M400 537.5h1M496 520.5h1M551 574.5h3M518 729.5h2M416 568.5h2M429 726.5h3M399 573.5h1M534 684.5h2M414 662.5h2M547 569.5h3M555 604.5h2M481 578.5h2M514 558.5h3M530 557.5h1M485 668.5h3M535 720.5h2M446 733.5h2M395 565.5h3M553 636.5h1M457 538.5h2M512 719.5h3M529 537.5h2M540 705.5h3M487 576.5h1M507 642.5h2M446 597.5h3M467 551.5h2M436 567.5h2M420 621.5h2M474 732.5h3M501 655.5h3M451 596.5h3M534 565.5h1M435 537.5h2M476 545.5h2M548 572.5h2M528 629.5h1M477 679.5h2M493 565.5h2M449 591.5h2M531 618.5h2M467 714.5h1M455 718.5h2M476 586.5h3M394 734.5h3M446 566.5h2M461 565.5h2M513 588.5h3M461 561.5h1M509 574.5h2M454 704.5h2M513 665.5h3M534 577.5h2M504 565.5h2M556 675.5h3M393 551.5h2M492 739.5h1M412 525.5h2M549 590.5h3M491 701.5h2M395 605.5h3M514 639.5h2M429 565.5h2M484 585.5h1M481 587.5h2M539 739.5h2M466 627.5h1M495 631.5h1M476 622.5h1M475 738.5h2M524 579.5h2M488 551.5h1M551 619.5h2M550 701.5h3M468 558.5h2M511 569.5h2M421 622.5h2M459 597.5h2M463 599.5h1M398 689.5h3M495 593.5h1M547 613.5h3M397 564.5h2M540 600.5h2M422 536.5h2M512 629.5h2M503 571.5h2M407 706.5h2M443 532.5h2M454 722.5h3M502 552.5h2M513 737.5h1M493 605.5h2M467 581.5h3M543 600.5h3M486 637.5h1M397 679.5h3M462 536.5h3M472 614.5h3M549 667.5h3M494 685.5h1M485 713.5h2M516 649.5h2M546 671.5h1M475 698.5h2M414 665.5h3M454 671.5h2M523 682.5h1M422 664.5h2M457 585.5h3M536 561.5h3M524 574.5h2M409 681.5h3M524 600.5h3M487 522.5h3M488 592.5h2M402 659.5h3M512 564.5h2M514 554.5h2M521 526.5h1M523 672.5h2M446 552.5h1M459 712.5h2M425 704.5h2M423 701.5h2M509 696.5h2M499 666.5h2M405 701.5h1M507 566.5h2M492 563.5h3M538 640.5h2M419 558.5h3M421 621.5h1M470 582.5h2M468 664.5h2M473 726.5h3M545 523.5h2M475 725.5h3M539 726.5h2M509 570.5h2M528 588.5h3M480 584.5h3M416 561.5h3M551 622.5h1M442 538.5h2M475 689.5h3M533 576.5h1M495 567.5h1M461 630.5h3M420 600.5h1M406 663.5h1M525 588.5h2M491 520.5h2M448 657.5h3M527 718.5h3M503 636.5h1M516 567.5h3M469 633.5h2M532 600.5h2M508 610.5h1M476 654.5h2M456 628.5h3M441 736.5h1M542 567.5h1M475 524.5h3M530 646.5h2M535 665.5h1M394 639.5h3M486 671.5h2M418 564.5h1M473 645.5h1M475 648.5h2M466 592.5h2M539 720.5h2M453 627.5h2M525 535.5h1M463 671.5h1M489 660.5h2M508 657.5h3M512 546.5h2M480 553.5h2M474 711.5h2M522 730.5h2M547 564.5h1M549 623.5h2M419 625.5h2M453 660.5h2M429 602.5h3M462 558.5h3M529 643.5h2M499 544.5h1M480 649.5h3M459 655.5h2M534 569.5h3M555 734.5h2M427 741.5h2M507 743.5h3M536 711.5h3M515 697.5h3M463 545.5h2M523 636.5h2M482 577.5h1M424 702.5h2M552 549.5h2M524 649.5h3M434 593.5h2M460 522.5h3M534 602.5h2M400 575.5h3M517 543.5h2M466 737.5h3M460 570.5h2M477 642.5h2M523 534.5h1M398 571.5h1M436 570.5h2M440 575.5h2M536 722.5h2M532 575.5h1M499 544.5h2M511 728.5h3M552 602.5h1M407 724.5h3M477 665.5h2M519 686.5h3M481 555.5h2M501 644.5h1M501 540.5h2M525 572.5h3M499 679.5h2M521 568.5h2M425 662.5h3M412 654.5h1M536 573.5h3M499 647.5h3M531 737.5h2M481 634.5h3M434 569.5h3M433 631.5h3M480 574.5h3M497 703.5h2M403 620.5h1M460 525.5h2M540 600.5h2M468 700.5h2M520 708.5h1M402 570.5h3M490 573.5h2M395 687.5h3M428 573.5h1M496 728.5h2M399 679.5h1M464 716.5h3M492 569.5h2M458 563.5h2M531 567.5h1M476 700.5h3M407 674.5h2M469 564.5h2M464 575.5h2M537 590.5h3M442 692.5h3M532 559.5h2M452 642.5h3M547 577.5h2M511 627.5h3M526 571.5h1M403 534.5h2M480 568.5h1M472 711.5h1M418 548.5h3M535 691.5h2M498 554.5h3M436 619.5h2M407 540.5h1M460 595.5h2M472 727.5h3M393 573.5h1M535 540.5h3M549 683.5h1M492 660.5h3M545 707.5h3M393 605.5h1M538 570.5h2M536 533.5h2M498 731.5h2M519 535.5h3M487 553.5h1M477 625.5h2M480 680.5h2M443 596.5h2M488 657.5h3M452 571.5h2M422 580.5h2M508 551.5h3M533 636.5h2M527 550.5h1M431 744.5h1M494 568.5h3M536 672.5h3M513 703.5h3M527 551.5h3M414 647.5h2M532 604.5h1M511 575.5h3M534 694.5h2M478 624.5h2M529 647.5h3M484 715.5h2M406 691.5h2M459 724.5h2M478 576.5h2M449 737.5h2M555 577.5h2M503 617.5h2M465 608.5h1M469 575.5h3M447 524.5h1M495 587.5h2M470 646.5h3M471 567.5h2M548 554.5h2M436 543.5h3M492 609.5h2M494 703.5h2M419 619.5h1M479 665.5h3M527 657.5h2M555 703.5h3M548 551.5h1M530 641.5h2M474 718.5h1M517 630.5h2M547 629.5h2M457 554.5h2M515 574.5h3M467 687.5h3M497 576.5h1M520 572.5h3M452 713.5h3M458 692.5h3M503 605.5h2M516 553.5h2M555 738.5h1M467 593.5h1M419 692.5h2M432 708.5h2M541 610.5h3M500 620.5h2M527 564.5h1M498 710.5h2M554 606.5h3M442 537.5h1M518 732.5h2M450 720.5h2M393 702.5h2M507 696.5h1M454 566.5h1M434 638.5h2M517 707.5h1M461 716.5h3M463 611.5h3M550 527.5h1M435 565.5h2M552 706.5h3M503 550.5h2M447 632.5h1M535 696.5h3M408 665.5h2M527 547.5h3M547 535.5h2M443 529.5h3M464 572.5h3M532 563.5h2M418 574.5h2M433 671.5h2M478 655.5h2M507 690.5h2M504 592.5h3M550 547.5h1M490 564.5h3M441 687.5h3M516 699.5h3M484 655.5h3M495 688.5h2M548 614.5h1M452 599.5h1M429 671.5h1M517 655.5h2M469 587.5h2M420 603.5h3M446 563.5h2M492 732.5h2M551 724.5h2M461 648.5h3M486 571.5h2M519 731.5h1M529 634.5h3M542 570.5h2M494 524.5h2M517 574.5h1M461 576.5h2M441 598.5h2M405 680.5h2M409 740.5h1M533 679.5h3M485 601.5h2M542 593.5h1M466 602.5h2M456 568.5h2M483 612.5h3M417 568.5h2M458 744.5h1M462 697.5h3M416 713.5h2M428 546.5h2M528 525.5h2M498 570.5h2M433 583.5h2M492 672.5h1M509 546.5h3M491 553.5h2M456 527.5h2M502 563.5h2M420 566.5h3M473 656.5h2M412 533.5h2M458 611.5h2M461 574.5h2M507 672.5h2M476 707.5h2M464 697.5h2M545 566.5h2M460 705.5h2M545 739.5h2M514 544.5h3M492 592.5h2M500 676.5h1M408 545.5h2M535 650.5h1M429 723.5h2M525 636.5h3M485 579.5h3M492 528.5h1M510 583.5h3M502 693.5h2M489 695.5h2M398 715.5h1M554 731.5h3M515 708.5h2M541 536.5h1M414 525.5h2M481 637.5h2M479 694.5h3M461 528.5h1M423 623.5h3M408 735.5h1M433 708.5h1M457 548.5h3M504 525.5h1M535 666.5h1M518 688.5h2M502 590.5h2M465 581.5h3M509 565.5h2M426 673.5h3M520 589.5h3M453 658.5h2M458 538.5h1M554 692.5h1M547 574.5h2M415 712.5h2M538 645.5h2M480 633.5h1M461 582.5h2M484 608.5h3M473 576.5h2M492 669.5h1M555 564.5h2M507 709.5h3M485 564.5h2M466 635.5h2M555 667.5h1M534 707.5h2M487 547.5h1M494 644.5h2M435 696.5h3M438 621.5h2M499 561.5h2M493 710.5h3M444 595.5h1M492 726.5h1M481 651.5h3M532 621.5h2M423 638.5h2M418 592.5h2M458 568.5h2M527 702.5h2" stroke="#48186a" stroke-width="1.1" fill="none"/>
<path d="M474 593.5h1M509 530.5h2M543 524.5h2M535 525.5h2M553 697.5h3M466 564.5h3M486 730.5h2M529 606.5h3M506 708.5h2M485 652.5h3M478 697.5h2M523 646.5h2M498 559.5h3M443 659.5h3M470 619.5h2M485 577.5h2M401 559.5h1M539 587.5h2M438 640.5h1M423 565.5h2M522 614.5h2M530 612.5h2M516 687.5h2M399 566.5h2M549 743.5h2M418 533.5h2M518 728.5h2M480 573.5h2M543 610.5h2M460 669.5h3M527 612.5h1M537 592.5h3M487 550.5h3M464 531.5h2M413 548.5h3M452 550.5h1M444 695.5h2M537 708.5h2M521 588.5h2M530 567.5h2M551 566.5h2M546 620.5h2M530 670.5h1M540 623.5h1M534 621.5h2M463 567.5h2M473 669.5h2M517 632.5h2M472 630.5h2M489 561.5h2M432 585.5h2M460 646.5h2M492 655.5h2M509 577.5h3M393 569.5h2M541 705.5h2M402 703.5h2M482 643.5h1M518 693.5h3M541 524.5h2M411 727.5h3M452 611.5h1M541 576.5h3M471 611.5h2M474 664.5h2M481 651.5h2M432 595.5h2M497 654.5h2M459 532.5h3M418 743.5h3M409 639.5h3M457 742.5h1M481 626.5h1M411 704.5h1M480 590.5h2M556 577.5h2M449 583.5h1M519 542.5h2M468 639.5h2M486 565.5h2M439 720.5h2M466 615.5h1M530 716.5h2M496 554.5h3M525 706.5h2M428 714.5h2M519 668.5h1M418 531.5h2M480 722.5h1M508 607.5h2M470 681.5h2M546 568.5h3M503 656.5h2M484 527.5h2M548 652.5h1M440 576.5h2M492 714.5h2M411 562.5h2M515 679.5h2M432 524.5h2M436 669.5h2M507 576.5h2M405 565.5h2M395 693.5h2M460 581.5h1M504 654.5h1M547 568.5h2M508 711.5h2M426 662.5h2M549 573.5h3M460 685.5h2M438 569.5h2M555 610.5h2M518 681.5h2M490 712.5h2M519 572.5h2M496 586.5h3M477 675.5h3M468 686.5h2M400 737.5h2M395 626.5h2M473 732.5h1M491 585.5h2M445 643.5h2M538 576.5h2M395 528.5h2M425 570.5h3M498 573.5h2M412 634.5h1M491 725.5h2M491 568.5h2M533 696.5h1M520 734.5h3M458 710.5h2M468 630.5h3M518 727.5h3M544 622.5h2M524 569.5h2M472 694.5h2M483 546.5h3M546 669.5h2M530 646.5h1M451 607.5h3M396 527.5h3M536 567.5h1M400 527.5h1M491 581.5h1M410 575.5h2M478 660.5h3M505 683.5h3M547 626.5h1M501 576.5h3M461 707.5h3M393 712.5h3M547 539.5h2M525 594.5h3M414 711.5h2M523 589.5h1M477 606.5h1M487 703.5h2" stroke="#482475" stroke-width="1.1" fill="none"/>
<path d="M544 607.5h2M509 527.5h3M531 723.5h2M494 560.5h2M422 693.5h2M500 595.5h3M506 672.5h2M533 565.5h2M544 650.5h3M530 720.5h2M485 687.5h1M395 521.5h2M466 572.5h1M502 686.5h3M428 592.5h2M544 686.5h1M404 742.5h1M476 537.5h1M421 617.5h3M489 580.5h2M481 732.5h3M537 668.5h2M444 567.5h3M471 548.5h3M469 554.5h3M539 687.5h2M526 601.5h2M392 668.5h2M522 624.5h1M506 525.5h2M455 697.5h2M393 566.5h2M427 669.5h2M514 522.5h1M529 670.5h1M469 530.5h3M451 739.5h2M443 615.5h2M536 546.5h1M497 567.5h2" stroke="#443a83" stroke-width="1.1" fill="none"/>
<line x1="502" y1="636.6" x2="556" y2="636.6" stroke="#2e6f8e" stroke-width="1.8" opacity="1" stroke-dasharray="4 1 7 1.5 2.5 1 9 2"/>
<line x1="512" y1="643.9" x2="556" y2="643.9" stroke="#3e4989" stroke-width="1.3" opacity="1" stroke-dasharray="4 1 7 1.5 2.5 1 9 2"/>
<line x1="515" y1="648" x2="556" y2="648" stroke="#482475" stroke-width="1" opacity="1" stroke-dasharray="4 1 7 1.5 2.5 1 9 2"/>
<line x1="455" y1="685" x2="556" y2="685" stroke="#46307e" stroke-width="1.4" opacity="1" stroke-dasharray="4 1 7 1.5 2.5 1 9 2"/>
<line x1="488" y1="690.5" x2="556" y2="690.5" stroke="#3c4f8a" stroke-width="1.3" opacity="1" stroke-dasharray="4 1 7 1.5 2.5 1 9 2"/>
<line x1="458" y1="726.3" x2="525" y2="726.3" stroke="#2e6f8e" stroke-width="1.0" opacity="1" stroke-dasharray="4 1 7 1.5 2.5 1 9 2"/>
<line x1="455" y1="722" x2="556" y2="722" stroke="#481d6f" stroke-width="2" opacity="1" stroke-dasharray="4 1 7 1.5 2.5 1 9 2"/>
<line x1="508" y1="611.9" x2="556" y2="611.9" stroke="#355f8d" stroke-width="1.2" opacity="1" stroke-dasharray="4 1 7 1.5 2.5 1 9 2"/>
<line x1="396" y1="566" x2="556" y2="566" stroke="#482878" stroke-width="1.0" opacity="1" stroke-dasharray="4 1 7 1.5 2.5 1 9 2"/>
<line x1="400" y1="571" x2="556" y2="571" stroke="#482475" stroke-width="1.0" opacity="1" stroke-dasharray="4 1 7 1.5 2.5 1 9 2"/>
<line x1="455" y1="575" x2="556" y2="575" stroke="#481d6f" stroke-width="1.0" opacity="1" stroke-dasharray="4 1 7 1.5 2.5 1 9 2"/>
<line x1="455" y1="545" x2="556" y2="545" stroke="#481d6f" stroke-width="2" opacity="1" stroke-dasharray="4 1 7 1.5 2.5 1 9 2"/>
<line x1="460" y1="556" x2="530" y2="556" stroke="#481a6c" stroke-width="1.5" opacity="1" stroke-dasharray="4 1 7 1.5 2.5 1 9 2"/>
<rect x="455" y="519" width="78" height="27" fill="#453781" opacity="0.22"/>
<rect x="455" y="696" width="78" height="32" fill="#453781" opacity="0.18"/>
<rect x="450.0" y="529.75" width="2.05" height="1.35" fill="#482475"/>
<rect x="450.0" y="531.05" width="2.05" height="1.35" fill="#404588"/>
<rect x="450.0" y="532.35" width="2.05" height="1.35" fill="#3d4d8a"/>
<rect x="450.0" y="533.65" width="2.05" height="1.35" fill="#433d84"/>
<rect x="450.0" y="534.95" width="2.05" height="1.35" fill="#482677"/>
<rect x="450.0" y="536.25" width="2.05" height="1.35" fill="#481769"/>
<rect x="452.0" y="529.60" width="2.05" height="1.35" fill="#472c7a"/>
<rect x="452.0" y="530.90" width="2.05" height="1.35" fill="#46327e"/>
<rect x="452.0" y="532.20" width="2.05" height="1.35" fill="#3c508b"/>
<rect x="452.0" y="533.50" width="2.05" height="1.35" fill="#424186"/>
<rect x="452.0" y="534.80" width="2.05" height="1.35" fill="#482374"/>
<rect x="454.0" y="526.85" width="2.05" height="1.35" fill="#481668"/>
<rect x="454.0" y="528.15" width="2.05" height="1.35" fill="#404688"/>
<rect x="454.0" y="529.45" width="2.05" height="1.35" fill="#26828e"/>
<rect x="454.0" y="530.75" width="2.05" height="1.35" fill="#f4e61e"/>
<rect x="454.0" y="532.05" width="2.05" height="1.35" fill="#fbe723"/>
<rect x="454.0" y="533.35" width="2.05" height="1.35" fill="#4ec36b"/>
<rect x="454.0" y="534.65" width="2.05" height="1.35" fill="#2d708e"/>
<rect x="454.0" y="535.95" width="2.05" height="1.35" fill="#3a548c"/>
<rect x="454.0" y="537.25" width="2.05" height="1.35" fill="#482576"/>
<rect x="456.0" y="525.39" width="2.05" height="1.35" fill="#481769"/>
<rect x="456.0" y="526.69" width="2.05" height="1.35" fill="#481b6d"/>
<rect x="456.0" y="527.99" width="2.05" height="1.35" fill="#433d84"/>
<rect x="456.0" y="529.29" width="2.05" height="1.35" fill="#2c738e"/>
<rect x="456.0" y="530.59" width="2.05" height="1.35" fill="#27ad81"/>
<rect x="456.0" y="531.89" width="2.05" height="1.35" fill="#d8e219"/>
<rect x="456.0" y="533.19" width="2.05" height="1.35" fill="#75d054"/>
<rect x="456.0" y="534.49" width="2.05" height="1.35" fill="#2d718e"/>
<rect x="456.0" y="535.79" width="2.05" height="1.35" fill="#453781"/>
<rect x="458.0" y="526.54" width="2.05" height="1.35" fill="#481b6d"/>
<rect x="458.0" y="527.84" width="2.05" height="1.35" fill="#424186"/>
<rect x="458.0" y="529.14" width="2.05" height="1.35" fill="#29798e"/>
<rect x="458.0" y="530.44" width="2.05" height="1.35" fill="#81d34d"/>
<rect x="458.0" y="531.74" width="2.05" height="1.35" fill="#b2dd2d"/>
<rect x="458.0" y="533.04" width="2.05" height="1.35" fill="#98d83e"/>
<rect x="458.0" y="534.34" width="2.05" height="1.35" fill="#2b748e"/>
<rect x="458.0" y="535.64" width="2.05" height="1.35" fill="#472d7b"/>
<rect x="458.0" y="536.94" width="2.05" height="1.35" fill="#481c6e"/>
<rect x="460.0" y="526.39" width="2.05" height="1.35" fill="#481668"/>
<rect x="460.0" y="527.69" width="2.05" height="1.35" fill="#482878"/>
<rect x="460.0" y="528.99" width="2.05" height="1.35" fill="#24868e"/>
<rect x="460.0" y="530.29" width="2.05" height="1.35" fill="#8ed645"/>
<rect x="460.0" y="531.59" width="2.05" height="1.35" fill="#fde725"/>
<rect x="460.0" y="532.89" width="2.05" height="1.35" fill="#a5db36"/>
<rect x="460.0" y="534.19" width="2.05" height="1.35" fill="#2c738e"/>
<rect x="460.0" y="535.49" width="2.05" height="1.35" fill="#433d84"/>
<rect x="460.0" y="536.79" width="2.05" height="1.35" fill="#472d7b"/>
<rect x="462.0" y="527.54" width="2.05" height="1.35" fill="#482475"/>
<rect x="462.0" y="528.84" width="2.05" height="1.35" fill="#2e6f8e"/>
<rect x="462.0" y="530.14" width="2.05" height="1.35" fill="#23898e"/>
<rect x="462.0" y="531.44" width="2.05" height="1.35" fill="#20a486"/>
<rect x="462.0" y="532.74" width="2.05" height="1.35" fill="#277f8e"/>
<rect x="462.0" y="534.04" width="2.05" height="1.35" fill="#31688e"/>
<rect x="462.0" y="535.34" width="2.05" height="1.35" fill="#453581"/>
<rect x="462.0" y="536.64" width="2.05" height="1.35" fill="#472d7b"/>
<rect x="464.0" y="526.08" width="2.05" height="1.35" fill="#481c6e"/>
<rect x="464.0" y="527.38" width="2.05" height="1.35" fill="#46307e"/>
<rect x="464.0" y="528.68" width="2.05" height="1.35" fill="#39568c"/>
<rect x="464.0" y="529.98" width="2.05" height="1.35" fill="#238a8d"/>
<rect x="464.0" y="531.28" width="2.05" height="1.35" fill="#4ac16d"/>
<rect x="464.0" y="532.58" width="2.05" height="1.35" fill="#21908d"/>
<rect x="464.0" y="533.88" width="2.05" height="1.35" fill="#2c728e"/>
<rect x="464.0" y="535.18" width="2.05" height="1.35" fill="#482979"/>
<rect x="464.0" y="536.48" width="2.05" height="1.35" fill="#48186a"/>
<rect x="466.0" y="525.93" width="2.05" height="1.35" fill="#482173"/>
<rect x="466.0" y="527.23" width="2.05" height="1.35" fill="#414287"/>
<rect x="466.0" y="528.53" width="2.05" height="1.35" fill="#3c4f8a"/>
<rect x="466.0" y="529.83" width="2.05" height="1.35" fill="#287d8e"/>
<rect x="466.0" y="531.13" width="2.05" height="1.35" fill="#21a585"/>
<rect x="466.0" y="532.43" width="2.05" height="1.35" fill="#29798e"/>
<rect x="466.0" y="533.73" width="2.05" height="1.35" fill="#424086"/>
<rect x="466.0" y="535.03" width="2.05" height="1.35" fill="#472f7d"/>
<rect x="466.0" y="536.33" width="2.05" height="1.35" fill="#482576"/>
<rect x="468.0" y="524.48" width="2.05" height="1.35" fill="#481769"/>
<rect x="468.0" y="525.78" width="2.05" height="1.35" fill="#481f70"/>
<rect x="468.0" y="527.08" width="2.05" height="1.35" fill="#472a7a"/>
<rect x="468.0" y="528.38" width="2.05" height="1.35" fill="#375a8c"/>
<rect x="468.0" y="529.68" width="2.05" height="1.35" fill="#24868e"/>
<rect x="468.0" y="530.98" width="2.05" height="1.35" fill="#38b977"/>
<rect x="468.0" y="532.28" width="2.05" height="1.35" fill="#24aa83"/>
<rect x="468.0" y="533.58" width="2.05" height="1.35" fill="#33638d"/>
<rect x="468.0" y="534.88" width="2.05" height="1.35" fill="#472f7d"/>
<rect x="470.0" y="525.63" width="2.05" height="1.35" fill="#472e7c"/>
<rect x="470.0" y="526.93" width="2.05" height="1.35" fill="#414287"/>
<rect x="470.0" y="528.23" width="2.05" height="1.35" fill="#424086"/>
<rect x="470.0" y="529.53" width="2.05" height="1.35" fill="#1f958b"/>
<rect x="470.0" y="530.83" width="2.05" height="1.35" fill="#1f998a"/>
<rect x="470.0" y="532.13" width="2.05" height="1.35" fill="#2a788e"/>
<rect x="470.0" y="533.43" width="2.05" height="1.35" fill="#3c508b"/>
<rect x="470.0" y="534.73" width="2.05" height="1.35" fill="#424186"/>
<rect x="470.0" y="536.03" width="2.05" height="1.35" fill="#482475"/>
<rect x="472.0" y="526.77" width="2.05" height="1.35" fill="#472e7c"/>
<rect x="472.0" y="528.07" width="2.05" height="1.35" fill="#375b8d"/>
<rect x="472.0" y="529.37" width="2.05" height="1.35" fill="#2a788e"/>
<rect x="472.0" y="530.67" width="2.05" height="1.35" fill="#22a884"/>
<rect x="472.0" y="531.97" width="2.05" height="1.35" fill="#31688e"/>
<rect x="472.0" y="533.27" width="2.05" height="1.35" fill="#355e8d"/>
<rect x="472.0" y="534.57" width="2.05" height="1.35" fill="#472a7a"/>
<rect x="472.0" y="535.87" width="2.05" height="1.35" fill="#481b6d"/>
<rect x="474.0" y="524.02" width="2.05" height="1.35" fill="#481769"/>
<rect x="474.0" y="525.32" width="2.05" height="1.35" fill="#481d6f"/>
<rect x="474.0" y="526.62" width="2.05" height="1.35" fill="#472c7a"/>
<rect x="474.0" y="527.92" width="2.05" height="1.35" fill="#472e7c"/>
<rect x="474.0" y="529.22" width="2.05" height="1.35" fill="#218f8d"/>
<rect x="474.0" y="530.52" width="2.05" height="1.35" fill="#1e9b8a"/>
<rect x="474.0" y="531.82" width="2.05" height="1.35" fill="#228c8d"/>
<rect x="474.0" y="533.12" width="2.05" height="1.35" fill="#3a548c"/>
<rect x="474.0" y="534.42" width="2.05" height="1.35" fill="#46307e"/>
<rect x="474.0" y="535.72" width="2.05" height="1.35" fill="#481b6d"/>
<rect x="476.0" y="526.47" width="2.05" height="1.35" fill="#46327e"/>
<rect x="476.0" y="527.77" width="2.05" height="1.35" fill="#3d4d8a"/>
<rect x="476.0" y="529.07" width="2.05" height="1.35" fill="#1fa088"/>
<rect x="476.0" y="530.37" width="2.05" height="1.35" fill="#21918c"/>
<rect x="476.0" y="531.67" width="2.05" height="1.35" fill="#23898e"/>
<rect x="476.0" y="532.97" width="2.05" height="1.35" fill="#3d4d8a"/>
<rect x="476.0" y="534.27" width="2.05" height="1.35" fill="#482576"/>
<rect x="476.0" y="535.57" width="2.05" height="1.35" fill="#481f70"/>
<rect x="478.0" y="525.02" width="2.05" height="1.35" fill="#481f70"/>
<rect x="478.0" y="526.32" width="2.05" height="1.35" fill="#463480"/>
<rect x="478.0" y="527.62" width="2.05" height="1.35" fill="#355f8d"/>
<rect x="478.0" y="528.92" width="2.05" height="1.35" fill="#20a386"/>
<rect x="478.0" y="530.22" width="2.05" height="1.35" fill="#2ab07f"/>
<rect x="478.0" y="531.52" width="2.05" height="1.35" fill="#1f988b"/>
<rect x="478.0" y="532.82" width="2.05" height="1.35" fill="#2b748e"/>
<rect x="478.0" y="534.12" width="2.05" height="1.35" fill="#482374"/>
<rect x="478.0" y="535.42" width="2.05" height="1.35" fill="#481b6d"/>
<rect x="480.0" y="523.56" width="2.05" height="1.35" fill="#481a6c"/>
<rect x="480.0" y="526.16" width="2.05" height="1.35" fill="#3c508b"/>
<rect x="480.0" y="527.46" width="2.05" height="1.35" fill="#355f8d"/>
<rect x="480.0" y="528.76" width="2.05" height="1.35" fill="#218f8d"/>
<rect x="480.0" y="530.06" width="2.05" height="1.35" fill="#26ad81"/>
<rect x="480.0" y="531.36" width="2.05" height="1.35" fill="#21908d"/>
<rect x="480.0" y="532.66" width="2.05" height="1.35" fill="#39568c"/>
<rect x="480.0" y="533.96" width="2.05" height="1.35" fill="#453781"/>
<rect x="480.0" y="535.26" width="2.05" height="1.35" fill="#481d6f"/>
<rect x="482.0" y="524.71" width="2.05" height="1.35" fill="#481769"/>
<rect x="482.0" y="526.01" width="2.05" height="1.35" fill="#472c7a"/>
<rect x="482.0" y="527.31" width="2.05" height="1.35" fill="#3c4f8a"/>
<rect x="482.0" y="528.61" width="2.05" height="1.35" fill="#2a788e"/>
<rect x="482.0" y="529.91" width="2.05" height="1.35" fill="#21a685"/>
<rect x="482.0" y="531.21" width="2.05" height="1.35" fill="#26828e"/>
<rect x="482.0" y="532.51" width="2.05" height="1.35" fill="#355f8d"/>
<rect x="482.0" y="533.81" width="2.05" height="1.35" fill="#482374"/>
<rect x="482.0" y="535.11" width="2.05" height="1.35" fill="#482576"/>
<rect x="484.0" y="524.56" width="2.05" height="1.35" fill="#481c6e"/>
<rect x="484.0" y="525.86" width="2.05" height="1.35" fill="#46327e"/>
<rect x="484.0" y="527.16" width="2.05" height="1.35" fill="#404588"/>
<rect x="484.0" y="528.46" width="2.05" height="1.35" fill="#24878e"/>
<rect x="484.0" y="529.76" width="2.05" height="1.35" fill="#31b57b"/>
<rect x="484.0" y="531.06" width="2.05" height="1.35" fill="#27ad81"/>
<rect x="484.0" y="532.36" width="2.05" height="1.35" fill="#365d8d"/>
<rect x="484.0" y="533.66" width="2.05" height="1.35" fill="#443b84"/>
<rect x="484.0" y="534.96" width="2.05" height="1.35" fill="#482374"/>
<rect x="486.0" y="523.11" width="2.05" height="1.35" fill="#48186a"/>
<rect x="486.0" y="524.41" width="2.05" height="1.35" fill="#481d6f"/>
<rect x="486.0" y="525.71" width="2.05" height="1.35" fill="#443983"/>
<rect x="486.0" y="527.01" width="2.05" height="1.35" fill="#3b518b"/>
<rect x="486.0" y="528.31" width="2.05" height="1.35" fill="#1e9c89"/>
<rect x="486.0" y="529.61" width="2.05" height="1.35" fill="#29af7f"/>
<rect x="486.0" y="530.91" width="2.05" height="1.35" fill="#1fa287"/>
<rect x="486.0" y="532.21" width="2.05" height="1.35" fill="#3a538b"/>
<rect x="486.0" y="533.51" width="2.05" height="1.35" fill="#482173"/>
<rect x="488.0" y="522.95" width="2.05" height="1.35" fill="#481668"/>
<rect x="488.0" y="524.25" width="2.05" height="1.35" fill="#482475"/>
<rect x="488.0" y="525.55" width="2.05" height="1.35" fill="#482071"/>
<rect x="488.0" y="526.85" width="2.05" height="1.35" fill="#3a538b"/>
<rect x="488.0" y="528.15" width="2.05" height="1.35" fill="#24878e"/>
<rect x="488.0" y="529.45" width="2.05" height="1.35" fill="#2c738e"/>
<rect x="488.0" y="530.75" width="2.05" height="1.35" fill="#26818e"/>
<rect x="488.0" y="532.05" width="2.05" height="1.35" fill="#2d708e"/>
<rect x="488.0" y="533.35" width="2.05" height="1.35" fill="#453581"/>
<rect x="488.0" y="534.65" width="2.05" height="1.35" fill="#482374"/>
<rect x="490.0" y="524.10" width="2.05" height="1.35" fill="#481668"/>
<rect x="490.0" y="525.40" width="2.05" height="1.35" fill="#46327e"/>
<rect x="490.0" y="526.70" width="2.05" height="1.35" fill="#355f8d"/>
<rect x="490.0" y="528.00" width="2.05" height="1.35" fill="#297b8e"/>
<rect x="490.0" y="529.30" width="2.05" height="1.35" fill="#28ae80"/>
<rect x="490.0" y="530.60" width="2.05" height="1.35" fill="#26828e"/>
<rect x="490.0" y="531.90" width="2.05" height="1.35" fill="#375b8d"/>
<rect x="490.0" y="533.20" width="2.05" height="1.35" fill="#443983"/>
<rect x="490.0" y="534.50" width="2.05" height="1.35" fill="#481a6c"/>
<rect x="492.0" y="523.95" width="2.05" height="1.35" fill="#482878"/>
<rect x="492.0" y="525.25" width="2.05" height="1.35" fill="#443a83"/>
<rect x="492.0" y="526.55" width="2.05" height="1.35" fill="#3a538b"/>
<rect x="492.0" y="527.85" width="2.05" height="1.35" fill="#287c8e"/>
<rect x="492.0" y="529.15" width="2.05" height="1.35" fill="#1e9d89"/>
<rect x="492.0" y="530.45" width="2.05" height="1.35" fill="#2c718e"/>
<rect x="492.0" y="531.75" width="2.05" height="1.35" fill="#355f8d"/>
<rect x="492.0" y="533.05" width="2.05" height="1.35" fill="#472a7a"/>
<rect x="492.0" y="534.35" width="2.05" height="1.35" fill="#482374"/>
<rect x="494.0" y="523.80" width="2.05" height="1.35" fill="#482173"/>
<rect x="494.0" y="525.10" width="2.05" height="1.35" fill="#472e7c"/>
<rect x="494.0" y="526.40" width="2.05" height="1.35" fill="#38588c"/>
<rect x="494.0" y="527.70" width="2.05" height="1.35" fill="#297a8e"/>
<rect x="494.0" y="529.00" width="2.05" height="1.35" fill="#2fb47c"/>
<rect x="494.0" y="530.30" width="2.05" height="1.35" fill="#1f998a"/>
<rect x="494.0" y="531.60" width="2.05" height="1.35" fill="#404688"/>
<rect x="494.0" y="532.90" width="2.05" height="1.35" fill="#472e7c"/>
<rect x="494.0" y="534.20" width="2.05" height="1.35" fill="#472e7c"/>
<rect x="496.0" y="523.65" width="2.05" height="1.35" fill="#482173"/>
<rect x="496.0" y="524.95" width="2.05" height="1.35" fill="#482173"/>
<rect x="496.0" y="526.25" width="2.05" height="1.35" fill="#3c508b"/>
<rect x="496.0" y="527.55" width="2.05" height="1.35" fill="#277e8e"/>
<rect x="496.0" y="528.85" width="2.05" height="1.35" fill="#3aba76"/>
<rect x="496.0" y="530.15" width="2.05" height="1.35" fill="#26828e"/>
<rect x="496.0" y="531.45" width="2.05" height="1.35" fill="#38588c"/>
<rect x="496.0" y="532.75" width="2.05" height="1.35" fill="#481d6f"/>
<rect x="498.0" y="523.49" width="2.05" height="1.35" fill="#482374"/>
<rect x="498.0" y="524.79" width="2.05" height="1.35" fill="#481f70"/>
<rect x="498.0" y="526.09" width="2.05" height="1.35" fill="#3d4d8a"/>
<rect x="498.0" y="527.39" width="2.05" height="1.35" fill="#2b748e"/>
<rect x="498.0" y="528.69" width="2.05" height="1.35" fill="#1fa088"/>
<rect x="498.0" y="529.99" width="2.05" height="1.35" fill="#2b758e"/>
<rect x="498.0" y="531.29" width="2.05" height="1.35" fill="#3d4e8a"/>
<rect x="498.0" y="532.59" width="2.05" height="1.35" fill="#472d7b"/>
<rect x="498.0" y="533.89" width="2.05" height="1.35" fill="#482173"/>
<rect x="500.0" y="524.64" width="2.05" height="1.35" fill="#453882"/>
<rect x="500.0" y="525.94" width="2.05" height="1.35" fill="#2c738e"/>
<rect x="500.0" y="527.24" width="2.05" height="1.35" fill="#23a983"/>
<rect x="500.0" y="528.54" width="2.05" height="1.35" fill="#32b67a"/>
<rect x="500.0" y="529.84" width="2.05" height="1.35" fill="#22a884"/>
<rect x="500.0" y="531.14" width="2.05" height="1.35" fill="#3a538b"/>
<rect x="500.0" y="532.44" width="2.05" height="1.35" fill="#453882"/>
<rect x="500.0" y="533.74" width="2.05" height="1.35" fill="#482576"/>
<rect x="502.0" y="523.19" width="2.05" height="1.35" fill="#482576"/>
<rect x="502.0" y="524.49" width="2.05" height="1.35" fill="#482374"/>
<rect x="502.0" y="525.79" width="2.05" height="1.35" fill="#34608d"/>
<rect x="502.0" y="527.09" width="2.05" height="1.35" fill="#228d8d"/>
<rect x="502.0" y="528.39" width="2.05" height="1.35" fill="#1e9b8a"/>
<rect x="502.0" y="529.69" width="2.05" height="1.35" fill="#33628d"/>
<rect x="502.0" y="530.99" width="2.05" height="1.35" fill="#39568c"/>
<rect x="502.0" y="532.29" width="2.05" height="1.35" fill="#472f7d"/>
<rect x="502.0" y="533.59" width="2.05" height="1.35" fill="#482576"/>
<rect x="504.0" y="521.74" width="2.05" height="1.35" fill="#48186a"/>
<rect x="504.0" y="523.04" width="2.05" height="1.35" fill="#482475"/>
<rect x="504.0" y="524.34" width="2.05" height="1.35" fill="#443a83"/>
<rect x="504.0" y="525.64" width="2.05" height="1.35" fill="#3b518b"/>
<rect x="504.0" y="526.94" width="2.05" height="1.35" fill="#26818e"/>
<rect x="504.0" y="528.24" width="2.05" height="1.35" fill="#20a386"/>
<rect x="504.0" y="529.54" width="2.05" height="1.35" fill="#23898e"/>
<rect x="504.0" y="530.84" width="2.05" height="1.35" fill="#3c4f8a"/>
<rect x="504.0" y="532.14" width="2.05" height="1.35" fill="#453882"/>
<rect x="504.0" y="533.44" width="2.05" height="1.35" fill="#481d6f"/>
<rect x="506.0" y="522.88" width="2.05" height="1.35" fill="#482878"/>
<rect x="506.0" y="524.18" width="2.05" height="1.35" fill="#472f7d"/>
<rect x="506.0" y="525.48" width="2.05" height="1.35" fill="#365d8d"/>
<rect x="506.0" y="526.78" width="2.05" height="1.35" fill="#277f8e"/>
<rect x="506.0" y="528.08" width="2.05" height="1.35" fill="#1f9f88"/>
<rect x="506.0" y="529.38" width="2.05" height="1.35" fill="#2f6c8e"/>
<rect x="506.0" y="530.68" width="2.05" height="1.35" fill="#375b8d"/>
<rect x="506.0" y="531.98" width="2.05" height="1.35" fill="#472f7d"/>
<rect x="506.0" y="533.28" width="2.05" height="1.35" fill="#481c6e"/>
<rect x="508.0" y="521.43" width="2.05" height="1.35" fill="#48186a"/>
<rect x="508.0" y="522.73" width="2.05" height="1.35" fill="#481c6e"/>
<rect x="508.0" y="524.03" width="2.05" height="1.35" fill="#423f85"/>
<rect x="508.0" y="525.33" width="2.05" height="1.35" fill="#365d8d"/>
<rect x="508.0" y="526.63" width="2.05" height="1.35" fill="#31678e"/>
<rect x="508.0" y="527.93" width="2.05" height="1.35" fill="#2d718e"/>
<rect x="508.0" y="529.23" width="2.05" height="1.35" fill="#218f8d"/>
<rect x="508.0" y="530.53" width="2.05" height="1.35" fill="#375b8d"/>
<rect x="508.0" y="531.83" width="2.05" height="1.35" fill="#46307e"/>
<rect x="508.0" y="533.13" width="2.05" height="1.35" fill="#482878"/>
<rect x="510.0" y="522.58" width="2.05" height="1.35" fill="#481b6d"/>
<rect x="510.0" y="523.88" width="2.05" height="1.35" fill="#472f7d"/>
<rect x="510.0" y="525.18" width="2.05" height="1.35" fill="#306a8e"/>
<rect x="510.0" y="526.48" width="2.05" height="1.35" fill="#297a8e"/>
<rect x="510.0" y="527.78" width="2.05" height="1.35" fill="#23898e"/>
<rect x="510.0" y="529.08" width="2.05" height="1.35" fill="#34608d"/>
<rect x="510.0" y="530.38" width="2.05" height="1.35" fill="#32658e"/>
<rect x="510.0" y="531.68" width="2.05" height="1.35" fill="#482475"/>
<rect x="510.0" y="532.98" width="2.05" height="1.35" fill="#481f70"/>
<rect x="512.0" y="521.13" width="2.05" height="1.35" fill="#481668"/>
<rect x="512.0" y="522.43" width="2.05" height="1.35" fill="#481a6c"/>
<rect x="512.0" y="523.73" width="2.05" height="1.35" fill="#424186"/>
<rect x="512.0" y="525.03" width="2.05" height="1.35" fill="#414487"/>
<rect x="512.0" y="526.33" width="2.05" height="1.35" fill="#2f6b8e"/>
<rect x="512.0" y="527.63" width="2.05" height="1.35" fill="#2c738e"/>
<rect x="512.0" y="528.93" width="2.05" height="1.35" fill="#297a8e"/>
<rect x="512.0" y="530.23" width="2.05" height="1.35" fill="#375a8c"/>
<rect x="512.0" y="531.53" width="2.05" height="1.35" fill="#472d7b"/>
<rect x="512.0" y="532.83" width="2.05" height="1.35" fill="#481b6d"/>
<rect x="514.0" y="522.27" width="2.05" height="1.35" fill="#481668"/>
<rect x="514.0" y="523.57" width="2.05" height="1.35" fill="#453781"/>
<rect x="514.0" y="524.87" width="2.05" height="1.35" fill="#38588c"/>
<rect x="514.0" y="526.17" width="2.05" height="1.35" fill="#26828e"/>
<rect x="514.0" y="527.47" width="2.05" height="1.35" fill="#1f978b"/>
<rect x="514.0" y="528.77" width="2.05" height="1.35" fill="#228c8d"/>
<rect x="514.0" y="530.07" width="2.05" height="1.35" fill="#423f85"/>
<rect x="514.0" y="531.37" width="2.05" height="1.35" fill="#443a83"/>
<rect x="514.0" y="532.67" width="2.05" height="1.35" fill="#472a7a"/>
<rect x="516.0" y="522.12" width="2.05" height="1.35" fill="#481d6f"/>
<rect x="516.0" y="523.42" width="2.05" height="1.35" fill="#46307e"/>
<rect x="516.0" y="524.72" width="2.05" height="1.35" fill="#375a8c"/>
<rect x="516.0" y="526.02" width="2.05" height="1.35" fill="#1f958b"/>
<rect x="516.0" y="527.32" width="2.05" height="1.35" fill="#1f998a"/>
<rect x="516.0" y="528.62" width="2.05" height="1.35" fill="#20938c"/>
<rect x="516.0" y="529.92" width="2.05" height="1.35" fill="#39558c"/>
<rect x="516.0" y="531.22" width="2.05" height="1.35" fill="#472e7c"/>
<rect x="518.0" y="521.97" width="2.05" height="1.35" fill="#481769"/>
<rect x="518.0" y="523.27" width="2.05" height="1.35" fill="#48186a"/>
<rect x="518.0" y="524.57" width="2.05" height="1.35" fill="#32648e"/>
<rect x="518.0" y="525.87" width="2.05" height="1.35" fill="#26818e"/>
<rect x="518.0" y="527.17" width="2.05" height="1.35" fill="#3aba76"/>
<rect x="518.0" y="528.47" width="2.05" height="1.35" fill="#1f998a"/>
<rect x="518.0" y="529.77" width="2.05" height="1.35" fill="#404588"/>
<rect x="518.0" y="531.07" width="2.05" height="1.35" fill="#481c6e"/>
<rect x="518.0" y="532.37" width="2.05" height="1.35" fill="#481d6f"/>
<rect x="520.0" y="523.12" width="2.05" height="1.35" fill="#472a7a"/>
<rect x="520.0" y="524.42" width="2.05" height="1.35" fill="#375a8c"/>
<rect x="520.0" y="525.72" width="2.05" height="1.35" fill="#2e6d8e"/>
<rect x="520.0" y="527.02" width="2.05" height="1.35" fill="#23a983"/>
<rect x="520.0" y="528.32" width="2.05" height="1.35" fill="#287d8e"/>
<rect x="520.0" y="529.62" width="2.05" height="1.35" fill="#3a538b"/>
<rect x="520.0" y="530.92" width="2.05" height="1.35" fill="#46337f"/>
<rect x="520.0" y="532.22" width="2.05" height="1.35" fill="#481c6e"/>
<rect x="522.0" y="521.66" width="2.05" height="1.35" fill="#48186a"/>
<rect x="522.0" y="522.96" width="2.05" height="1.35" fill="#453882"/>
<rect x="522.0" y="524.26" width="2.05" height="1.35" fill="#443b84"/>
<rect x="522.0" y="525.56" width="2.05" height="1.35" fill="#277f8e"/>
<rect x="522.0" y="526.86" width="2.05" height="1.35" fill="#24868e"/>
<rect x="522.0" y="528.16" width="2.05" height="1.35" fill="#1f948c"/>
<rect x="522.0" y="529.46" width="2.05" height="1.35" fill="#3a538b"/>
<rect x="522.0" y="530.76" width="2.05" height="1.35" fill="#472c7a"/>
<rect x="524.0" y="521.51" width="2.05" height="1.35" fill="#481f70"/>
<rect x="524.0" y="522.81" width="2.05" height="1.35" fill="#46307e"/>
<rect x="524.0" y="524.11" width="2.05" height="1.35" fill="#33628d"/>
<rect x="524.0" y="525.41" width="2.05" height="1.35" fill="#2e6f8e"/>
<rect x="524.0" y="526.71" width="2.05" height="1.35" fill="#287c8e"/>
<rect x="524.0" y="528.01" width="2.05" height="1.35" fill="#2c728e"/>
<rect x="524.0" y="529.31" width="2.05" height="1.35" fill="#3a548c"/>
<rect x="524.0" y="530.61" width="2.05" height="1.35" fill="#482878"/>
<rect x="524.0" y="531.91" width="2.05" height="1.35" fill="#481f70"/>
<rect x="526.0" y="520.06" width="2.05" height="1.35" fill="#481b6d"/>
<rect x="526.0" y="521.36" width="2.05" height="1.35" fill="#482475"/>
<rect x="526.0" y="522.66" width="2.05" height="1.35" fill="#482071"/>
<rect x="526.0" y="523.96" width="2.05" height="1.35" fill="#34618d"/>
<rect x="526.0" y="525.26" width="2.05" height="1.35" fill="#1e9b8a"/>
<rect x="526.0" y="526.56" width="2.05" height="1.35" fill="#22a884"/>
<rect x="526.0" y="527.86" width="2.05" height="1.35" fill="#2f6b8e"/>
<rect x="526.0" y="529.16" width="2.05" height="1.35" fill="#404688"/>
<rect x="526.0" y="530.46" width="2.05" height="1.35" fill="#481668"/>
<rect x="526.0" y="531.76" width="2.05" height="1.35" fill="#481769"/>
<rect x="528.0" y="521.21" width="2.05" height="1.35" fill="#481b6d"/>
<rect x="528.0" y="522.51" width="2.05" height="1.35" fill="#46337f"/>
<rect x="528.0" y="523.81" width="2.05" height="1.35" fill="#32648e"/>
<rect x="528.0" y="525.11" width="2.05" height="1.35" fill="#277e8e"/>
<rect x="528.0" y="526.41" width="2.05" height="1.35" fill="#24878e"/>
<rect x="528.0" y="527.71" width="2.05" height="1.35" fill="#2e6f8e"/>
<rect x="528.0" y="529.01" width="2.05" height="1.35" fill="#39558c"/>
<rect x="528.0" y="530.31" width="2.05" height="1.35" fill="#482374"/>
<rect x="528.0" y="531.61" width="2.05" height="1.35" fill="#481c6e"/>
<rect x="530.0" y="522.35" width="2.05" height="1.35" fill="#481a6c"/>
<rect x="530.0" y="523.65" width="2.05" height="1.35" fill="#375a8c"/>
<rect x="530.0" y="524.95" width="2.05" height="1.35" fill="#33628d"/>
<rect x="530.0" y="526.25" width="2.05" height="1.35" fill="#2a788e"/>
<rect x="530.0" y="527.55" width="2.05" height="1.35" fill="#3a538b"/>
<rect x="530.0" y="528.85" width="2.05" height="1.35" fill="#355e8d"/>
<rect x="530.0" y="530.15" width="2.05" height="1.35" fill="#453882"/>
<rect x="530.0" y="531.45" width="2.05" height="1.35" fill="#482576"/>
<rect x="532.0" y="520.90" width="2.05" height="1.35" fill="#481c6e"/>
<rect x="532.0" y="522.20" width="2.05" height="1.35" fill="#481d6f"/>
<rect x="532.0" y="523.50" width="2.05" height="1.35" fill="#423f85"/>
<rect x="532.0" y="524.80" width="2.05" height="1.35" fill="#375a8c"/>
<rect x="532.0" y="526.10" width="2.05" height="1.35" fill="#3b518b"/>
<rect x="532.0" y="527.40" width="2.05" height="1.35" fill="#3b518b"/>
<rect x="532.0" y="528.70" width="2.05" height="1.35" fill="#46307e"/>
<rect x="532.0" y="530.00" width="2.05" height="1.35" fill="#472f7d"/>
<rect x="532.0" y="531.30" width="2.05" height="1.35" fill="#481769"/>
<rect x="534.0" y="520.75" width="2.05" height="1.35" fill="#482374"/>
<rect x="534.0" y="522.05" width="2.05" height="1.35" fill="#482374"/>
<rect x="534.0" y="523.35" width="2.05" height="1.35" fill="#414487"/>
<rect x="534.0" y="524.65" width="2.05" height="1.35" fill="#3a548c"/>
<rect x="534.0" y="525.95" width="2.05" height="1.35" fill="#3e4c8a"/>
<rect x="534.0" y="527.25" width="2.05" height="1.35" fill="#2e6f8e"/>
<rect x="534.0" y="528.55" width="2.05" height="1.35" fill="#424086"/>
<rect x="534.0" y="529.85" width="2.05" height="1.35" fill="#472f7d"/>
<rect x="450.0" y="709.25" width="2.05" height="1.35" fill="#481769"/>
<rect x="450.0" y="710.55" width="2.05" height="1.35" fill="#482677"/>
<rect x="450.0" y="711.85" width="2.05" height="1.35" fill="#3c4f8a"/>
<rect x="450.0" y="713.15" width="2.05" height="1.35" fill="#3e4989"/>
<rect x="450.0" y="714.45" width="2.05" height="1.35" fill="#3e4989"/>
<rect x="450.0" y="715.75" width="2.05" height="1.35" fill="#472e7c"/>
<rect x="450.0" y="717.05" width="2.05" height="1.35" fill="#482374"/>
<rect x="452.0" y="709.12" width="2.05" height="1.35" fill="#482071"/>
<rect x="452.0" y="710.42" width="2.05" height="1.35" fill="#443b84"/>
<rect x="452.0" y="711.72" width="2.05" height="1.35" fill="#355f8d"/>
<rect x="452.0" y="713.02" width="2.05" height="1.35" fill="#31668e"/>
<rect x="452.0" y="714.32" width="2.05" height="1.35" fill="#3a548c"/>
<rect x="452.0" y="715.62" width="2.05" height="1.35" fill="#453882"/>
<rect x="452.0" y="716.92" width="2.05" height="1.35" fill="#481f70"/>
<rect x="454.0" y="706.38" width="2.05" height="1.35" fill="#472e7c"/>
<rect x="454.0" y="707.68" width="2.05" height="1.35" fill="#443983"/>
<rect x="454.0" y="708.98" width="2.05" height="1.35" fill="#39558c"/>
<rect x="454.0" y="710.28" width="2.05" height="1.35" fill="#2a788e"/>
<rect x="454.0" y="711.58" width="2.05" height="1.35" fill="#e7e419"/>
<rect x="454.0" y="712.88" width="2.05" height="1.35" fill="#fde725"/>
<rect x="454.0" y="714.18" width="2.05" height="1.35" fill="#84d44b"/>
<rect x="454.0" y="715.48" width="2.05" height="1.35" fill="#1e9c89"/>
<rect x="454.0" y="716.78" width="2.05" height="1.35" fill="#375b8d"/>
<rect x="454.0" y="718.08" width="2.05" height="1.35" fill="#424086"/>
<rect x="454.0" y="719.38" width="2.05" height="1.35" fill="#482071"/>
<rect x="454.0" y="720.68" width="2.05" height="1.35" fill="#481668"/>
<rect x="456.0" y="706.25" width="2.05" height="1.35" fill="#481d6f"/>
<rect x="456.0" y="707.55" width="2.05" height="1.35" fill="#423f85"/>
<rect x="456.0" y="708.85" width="2.05" height="1.35" fill="#34618d"/>
<rect x="456.0" y="710.15" width="2.05" height="1.35" fill="#2c738e"/>
<rect x="456.0" y="711.45" width="2.05" height="1.35" fill="#93d741"/>
<rect x="456.0" y="712.75" width="2.05" height="1.35" fill="#a8db34"/>
<rect x="456.0" y="714.05" width="2.05" height="1.35" fill="#46c06f"/>
<rect x="456.0" y="715.35" width="2.05" height="1.35" fill="#20928c"/>
<rect x="456.0" y="716.65" width="2.05" height="1.35" fill="#32648e"/>
<rect x="456.0" y="717.95" width="2.05" height="1.35" fill="#472c7a"/>
<rect x="456.0" y="719.25" width="2.05" height="1.35" fill="#482173"/>
<rect x="456.0" y="720.55" width="2.05" height="1.35" fill="#481769"/>
<rect x="458.0" y="706.11" width="2.05" height="1.35" fill="#481b6d"/>
<rect x="458.0" y="707.41" width="2.05" height="1.35" fill="#472d7b"/>
<rect x="458.0" y="708.71" width="2.05" height="1.35" fill="#31668e"/>
<rect x="458.0" y="710.01" width="2.05" height="1.35" fill="#4ac16d"/>
<rect x="458.0" y="711.31" width="2.05" height="1.35" fill="#d0e11c"/>
<rect x="458.0" y="712.61" width="2.05" height="1.35" fill="#cde11d"/>
<rect x="458.0" y="713.91" width="2.05" height="1.35" fill="#a0da39"/>
<rect x="458.0" y="715.21" width="2.05" height="1.35" fill="#21918c"/>
<rect x="458.0" y="716.51" width="2.05" height="1.35" fill="#355e8d"/>
<rect x="458.0" y="717.81" width="2.05" height="1.35" fill="#463480"/>
<rect x="458.0" y="719.11" width="2.05" height="1.35" fill="#472c7a"/>
<rect x="458.0" y="720.41" width="2.05" height="1.35" fill="#481769"/>
<rect x="460.0" y="705.98" width="2.05" height="1.35" fill="#481c6e"/>
<rect x="460.0" y="707.28" width="2.05" height="1.35" fill="#472e7c"/>
<rect x="460.0" y="708.58" width="2.05" height="1.35" fill="#424186"/>
<rect x="460.0" y="709.88" width="2.05" height="1.35" fill="#2d708e"/>
<rect x="460.0" y="711.18" width="2.05" height="1.35" fill="#1f988b"/>
<rect x="460.0" y="712.48" width="2.05" height="1.35" fill="#24868e"/>
<rect x="460.0" y="713.78" width="2.05" height="1.35" fill="#287d8e"/>
<rect x="460.0" y="715.08" width="2.05" height="1.35" fill="#287d8e"/>
<rect x="460.0" y="716.38" width="2.05" height="1.35" fill="#443b84"/>
<rect x="460.0" y="717.68" width="2.05" height="1.35" fill="#482979"/>
<rect x="460.0" y="718.98" width="2.05" height="1.35" fill="#482677"/>
<rect x="460.0" y="720.28" width="2.05" height="1.35" fill="#481b6d"/>
<rect x="462.0" y="704.55" width="2.05" height="1.35" fill="#481c6e"/>
<rect x="462.0" y="705.85" width="2.05" height="1.35" fill="#482071"/>
<rect x="462.0" y="707.15" width="2.05" height="1.35" fill="#46337f"/>
<rect x="462.0" y="708.45" width="2.05" height="1.35" fill="#423f85"/>
<rect x="462.0" y="709.75" width="2.05" height="1.35" fill="#2d718e"/>
<rect x="462.0" y="711.05" width="2.05" height="1.35" fill="#1fa187"/>
<rect x="462.0" y="712.35" width="2.05" height="1.35" fill="#21a585"/>
<rect x="462.0" y="713.65" width="2.05" height="1.35" fill="#1fa187"/>
<rect x="462.0" y="714.95" width="2.05" height="1.35" fill="#2e6e8e"/>
<rect x="462.0" y="716.25" width="2.05" height="1.35" fill="#39558c"/>
<rect x="462.0" y="717.55" width="2.05" height="1.35" fill="#46307e"/>
<rect x="462.0" y="718.85" width="2.05" height="1.35" fill="#481d6f"/>
<rect x="462.0" y="720.15" width="2.05" height="1.35" fill="#481769"/>
<rect x="464.0" y="704.41" width="2.05" height="1.35" fill="#48186a"/>
<rect x="464.0" y="705.71" width="2.05" height="1.35" fill="#482173"/>
<rect x="464.0" y="707.01" width="2.05" height="1.35" fill="#433e85"/>
<rect x="464.0" y="708.31" width="2.05" height="1.35" fill="#3f4889"/>
<rect x="464.0" y="709.61" width="2.05" height="1.35" fill="#306a8e"/>
<rect x="464.0" y="710.91" width="2.05" height="1.35" fill="#24aa83"/>
<rect x="464.0" y="712.21" width="2.05" height="1.35" fill="#40bd72"/>
<rect x="464.0" y="713.51" width="2.05" height="1.35" fill="#20a386"/>
<rect x="464.0" y="714.81" width="2.05" height="1.35" fill="#32658e"/>
<rect x="464.0" y="716.11" width="2.05" height="1.35" fill="#3e4c8a"/>
<rect x="464.0" y="717.41" width="2.05" height="1.35" fill="#482677"/>
<rect x="464.0" y="718.71" width="2.05" height="1.35" fill="#46327e"/>
<rect x="466.0" y="704.28" width="2.05" height="1.35" fill="#481d6f"/>
<rect x="466.0" y="705.58" width="2.05" height="1.35" fill="#482475"/>
<rect x="466.0" y="706.88" width="2.05" height="1.35" fill="#482173"/>
<rect x="466.0" y="708.18" width="2.05" height="1.35" fill="#3e4989"/>
<rect x="466.0" y="709.48" width="2.05" height="1.35" fill="#297a8e"/>
<rect x="466.0" y="710.78" width="2.05" height="1.35" fill="#35b779"/>
<rect x="466.0" y="712.08" width="2.05" height="1.35" fill="#22a785"/>
<rect x="466.0" y="713.38" width="2.05" height="1.35" fill="#1f948c"/>
<rect x="466.0" y="714.68" width="2.05" height="1.35" fill="#2c728e"/>
<rect x="466.0" y="715.98" width="2.05" height="1.35" fill="#46337f"/>
<rect x="466.0" y="717.28" width="2.05" height="1.35" fill="#3f4889"/>
<rect x="466.0" y="718.58" width="2.05" height="1.35" fill="#481a6c"/>
<rect x="468.0" y="705.44" width="2.05" height="1.35" fill="#481d6f"/>
<rect x="468.0" y="706.74" width="2.05" height="1.35" fill="#482878"/>
<rect x="468.0" y="708.04" width="2.05" height="1.35" fill="#404688"/>
<rect x="468.0" y="709.34" width="2.05" height="1.35" fill="#3e4c8a"/>
<rect x="468.0" y="710.64" width="2.05" height="1.35" fill="#2db27d"/>
<rect x="468.0" y="711.94" width="2.05" height="1.35" fill="#26ad81"/>
<rect x="468.0" y="713.24" width="2.05" height="1.35" fill="#22a884"/>
<rect x="468.0" y="714.54" width="2.05" height="1.35" fill="#34608d"/>
<rect x="468.0" y="715.84" width="2.05" height="1.35" fill="#443a83"/>
<rect x="468.0" y="717.14" width="2.05" height="1.35" fill="#482374"/>
<rect x="468.0" y="718.44" width="2.05" height="1.35" fill="#482878"/>
<rect x="470.0" y="705.31" width="2.05" height="1.35" fill="#481c6e"/>
<rect x="470.0" y="706.61" width="2.05" height="1.35" fill="#433e85"/>
<rect x="470.0" y="707.91" width="2.05" height="1.35" fill="#375a8c"/>
<rect x="470.0" y="709.21" width="2.05" height="1.35" fill="#2c728e"/>
<rect x="470.0" y="710.51" width="2.05" height="1.35" fill="#1fa088"/>
<rect x="470.0" y="711.81" width="2.05" height="1.35" fill="#25ac82"/>
<rect x="470.0" y="713.11" width="2.05" height="1.35" fill="#26818e"/>
<rect x="470.0" y="714.41" width="2.05" height="1.35" fill="#2c728e"/>
<rect x="470.0" y="715.71" width="2.05" height="1.35" fill="#433d84"/>
<rect x="470.0" y="717.01" width="2.05" height="1.35" fill="#472d7b"/>
<rect x="470.0" y="719.61" width="2.05" height="1.35" fill="#481668"/>
<rect x="472.0" y="705.17" width="2.05" height="1.35" fill="#481c6e"/>
<rect x="472.0" y="706.47" width="2.05" height="1.35" fill="#3e4a89"/>
<rect x="472.0" y="707.77" width="2.05" height="1.35" fill="#404688"/>
<rect x="472.0" y="709.07" width="2.05" height="1.35" fill="#31688e"/>
<rect x="472.0" y="710.37" width="2.05" height="1.35" fill="#24868e"/>
<rect x="472.0" y="711.67" width="2.05" height="1.35" fill="#27ad81"/>
<rect x="472.0" y="712.97" width="2.05" height="1.35" fill="#1e9d89"/>
<rect x="472.0" y="714.27" width="2.05" height="1.35" fill="#3a548c"/>
<rect x="472.0" y="715.57" width="2.05" height="1.35" fill="#424086"/>
<rect x="472.0" y="716.87" width="2.05" height="1.35" fill="#472f7d"/>
<rect x="472.0" y="718.17" width="2.05" height="1.35" fill="#481f70"/>
<rect x="472.0" y="719.47" width="2.05" height="1.35" fill="#481668"/>
<rect x="474.0" y="706.34" width="2.05" height="1.35" fill="#423f85"/>
<rect x="474.0" y="707.64" width="2.05" height="1.35" fill="#3f4788"/>
<rect x="474.0" y="708.94" width="2.05" height="1.35" fill="#2b758e"/>
<rect x="474.0" y="710.24" width="2.05" height="1.35" fill="#6ece58"/>
<rect x="474.0" y="711.54" width="2.05" height="1.35" fill="#3bbb75"/>
<rect x="474.0" y="712.84" width="2.05" height="1.35" fill="#40bd72"/>
<rect x="474.0" y="714.14" width="2.05" height="1.35" fill="#21918c"/>
<rect x="474.0" y="715.44" width="2.05" height="1.35" fill="#30698e"/>
<rect x="474.0" y="716.74" width="2.05" height="1.35" fill="#46337f"/>
<rect x="474.0" y="718.04" width="2.05" height="1.35" fill="#481b6d"/>
<rect x="476.0" y="703.61" width="2.05" height="1.35" fill="#481b6d"/>
<rect x="476.0" y="706.21" width="2.05" height="1.35" fill="#482677"/>
<rect x="476.0" y="707.51" width="2.05" height="1.35" fill="#3e4989"/>
<rect x="476.0" y="708.81" width="2.05" height="1.35" fill="#34618d"/>
<rect x="476.0" y="710.11" width="2.05" height="1.35" fill="#24868e"/>
<rect x="476.0" y="711.41" width="2.05" height="1.35" fill="#54c568"/>
<rect x="476.0" y="712.71" width="2.05" height="1.35" fill="#1e9c89"/>
<rect x="476.0" y="714.01" width="2.05" height="1.35" fill="#228b8d"/>
<rect x="476.0" y="715.31" width="2.05" height="1.35" fill="#355e8d"/>
<rect x="476.0" y="716.61" width="2.05" height="1.35" fill="#472c7a"/>
<rect x="476.0" y="717.91" width="2.05" height="1.35" fill="#482374"/>
<rect x="478.0" y="704.77" width="2.05" height="1.35" fill="#481a6c"/>
<rect x="478.0" y="706.07" width="2.05" height="1.35" fill="#472f7d"/>
<rect x="478.0" y="707.37" width="2.05" height="1.35" fill="#414287"/>
<rect x="478.0" y="708.67" width="2.05" height="1.35" fill="#30698e"/>
<rect x="478.0" y="709.97" width="2.05" height="1.35" fill="#20928c"/>
<rect x="478.0" y="711.27" width="2.05" height="1.35" fill="#3aba76"/>
<rect x="478.0" y="712.57" width="2.05" height="1.35" fill="#1fa088"/>
<rect x="478.0" y="713.87" width="2.05" height="1.35" fill="#2b758e"/>
<rect x="478.0" y="715.17" width="2.05" height="1.35" fill="#3c4f8a"/>
<rect x="478.0" y="716.47" width="2.05" height="1.35" fill="#443b84"/>
<rect x="478.0" y="717.77" width="2.05" height="1.35" fill="#482475"/>
<rect x="480.0" y="705.94" width="2.05" height="1.35" fill="#482475"/>
<rect x="480.0" y="707.24" width="2.05" height="1.35" fill="#3b518b"/>
<rect x="480.0" y="708.54" width="2.05" height="1.35" fill="#23888e"/>
<rect x="480.0" y="709.84" width="2.05" height="1.35" fill="#27ad81"/>
<rect x="480.0" y="711.14" width="2.05" height="1.35" fill="#35b779"/>
<rect x="480.0" y="712.44" width="2.05" height="1.35" fill="#2eb37c"/>
<rect x="480.0" y="713.74" width="2.05" height="1.35" fill="#2b758e"/>
<rect x="480.0" y="715.04" width="2.05" height="1.35" fill="#3d4e8a"/>
<rect x="480.0" y="716.34" width="2.05" height="1.35" fill="#482374"/>
<rect x="480.0" y="717.64" width="2.05" height="1.35" fill="#481c6e"/>
<rect x="480.0" y="718.94" width="2.05" height="1.35" fill="#481c6e"/>
<rect x="482.0" y="703.20" width="2.05" height="1.35" fill="#481b6d"/>
<rect x="482.0" y="704.50" width="2.05" height="1.35" fill="#481d6f"/>
<rect x="482.0" y="705.80" width="2.05" height="1.35" fill="#481f70"/>
<rect x="482.0" y="707.10" width="2.05" height="1.35" fill="#3d4e8a"/>
<rect x="482.0" y="708.40" width="2.05" height="1.35" fill="#2a788e"/>
<rect x="482.0" y="709.70" width="2.05" height="1.35" fill="#228d8d"/>
<rect x="482.0" y="711.00" width="2.05" height="1.35" fill="#1e9b8a"/>
<rect x="482.0" y="712.30" width="2.05" height="1.35" fill="#20928c"/>
<rect x="482.0" y="713.60" width="2.05" height="1.35" fill="#33638d"/>
<rect x="482.0" y="714.90" width="2.05" height="1.35" fill="#433d84"/>
<rect x="482.0" y="716.20" width="2.05" height="1.35" fill="#463480"/>
<rect x="482.0" y="717.50" width="2.05" height="1.35" fill="#481b6d"/>
<rect x="482.0" y="718.80" width="2.05" height="1.35" fill="#481b6d"/>
<rect x="484.0" y="701.77" width="2.05" height="1.35" fill="#481769"/>
<rect x="484.0" y="704.37" width="2.05" height="1.35" fill="#482576"/>
<rect x="484.0" y="705.67" width="2.05" height="1.35" fill="#472d7b"/>
<rect x="484.0" y="706.97" width="2.05" height="1.35" fill="#3d4e8a"/>
<rect x="484.0" y="708.27" width="2.05" height="1.35" fill="#26828e"/>
<rect x="484.0" y="709.57" width="2.05" height="1.35" fill="#21a585"/>
<rect x="484.0" y="710.87" width="2.05" height="1.35" fill="#34b679"/>
<rect x="484.0" y="712.17" width="2.05" height="1.35" fill="#218e8d"/>
<rect x="484.0" y="713.47" width="2.05" height="1.35" fill="#25838e"/>
<rect x="484.0" y="714.77" width="2.05" height="1.35" fill="#472f7d"/>
<rect x="484.0" y="716.07" width="2.05" height="1.35" fill="#481f70"/>
<rect x="484.0" y="717.37" width="2.05" height="1.35" fill="#463480"/>
<rect x="486.0" y="704.24" width="2.05" height="1.35" fill="#481b6d"/>
<rect x="486.0" y="705.54" width="2.05" height="1.35" fill="#443b84"/>
<rect x="486.0" y="706.84" width="2.05" height="1.35" fill="#3a538b"/>
<rect x="486.0" y="708.14" width="2.05" height="1.35" fill="#31668e"/>
<rect x="486.0" y="709.44" width="2.05" height="1.35" fill="#25ac82"/>
<rect x="486.0" y="710.74" width="2.05" height="1.35" fill="#69cd5b"/>
<rect x="486.0" y="712.04" width="2.05" height="1.35" fill="#1e9b8a"/>
<rect x="486.0" y="713.34" width="2.05" height="1.35" fill="#26828e"/>
<rect x="486.0" y="714.64" width="2.05" height="1.35" fill="#424086"/>
<rect x="486.0" y="715.94" width="2.05" height="1.35" fill="#443b84"/>
<rect x="486.0" y="717.24" width="2.05" height="1.35" fill="#48186a"/>
<rect x="488.0" y="702.80" width="2.05" height="1.35" fill="#481b6d"/>
<rect x="488.0" y="704.10" width="2.05" height="1.35" fill="#482173"/>
<rect x="488.0" y="705.40" width="2.05" height="1.35" fill="#472c7a"/>
<rect x="488.0" y="706.70" width="2.05" height="1.35" fill="#3c508b"/>
<rect x="488.0" y="708.00" width="2.05" height="1.35" fill="#287c8e"/>
<rect x="488.0" y="709.30" width="2.05" height="1.35" fill="#22a884"/>
<rect x="488.0" y="710.60" width="2.05" height="1.35" fill="#22a785"/>
<rect x="488.0" y="711.90" width="2.05" height="1.35" fill="#287d8e"/>
<rect x="488.0" y="713.20" width="2.05" height="1.35" fill="#31668e"/>
<rect x="488.0" y="714.50" width="2.05" height="1.35" fill="#424086"/>
<rect x="488.0" y="715.80" width="2.05" height="1.35" fill="#472c7a"/>
<rect x="488.0" y="717.10" width="2.05" height="1.35" fill="#481a6c"/>
<rect x="490.0" y="702.67" width="2.05" height="1.35" fill="#481d6f"/>
<rect x="490.0" y="703.97" width="2.05" height="1.35" fill="#482979"/>
<rect x="490.0" y="705.27" width="2.05" height="1.35" fill="#472f7d"/>
<rect x="490.0" y="706.57" width="2.05" height="1.35" fill="#3e4989"/>
<rect x="490.0" y="707.87" width="2.05" height="1.35" fill="#2c728e"/>
<rect x="490.0" y="709.17" width="2.05" height="1.35" fill="#1f948c"/>
<rect x="490.0" y="710.47" width="2.05" height="1.35" fill="#21a685"/>
<rect x="490.0" y="711.77" width="2.05" height="1.35" fill="#26828e"/>
<rect x="490.0" y="713.07" width="2.05" height="1.35" fill="#2b758e"/>
<rect x="490.0" y="714.37" width="2.05" height="1.35" fill="#3e4c8a"/>
<rect x="490.0" y="715.67" width="2.05" height="1.35" fill="#472c7a"/>
<rect x="490.0" y="716.97" width="2.05" height="1.35" fill="#482576"/>
<rect x="490.0" y="718.27" width="2.05" height="1.35" fill="#481769"/>
<rect x="490.0" y="719.57" width="2.05" height="1.35" fill="#481668"/>
<rect x="492.0" y="703.83" width="2.05" height="1.35" fill="#482475"/>
<rect x="492.0" y="705.13" width="2.05" height="1.35" fill="#414287"/>
<rect x="492.0" y="706.43" width="2.05" height="1.35" fill="#365d8d"/>
<rect x="492.0" y="707.73" width="2.05" height="1.35" fill="#1f9e89"/>
<rect x="492.0" y="709.03" width="2.05" height="1.35" fill="#1fa187"/>
<rect x="492.0" y="710.33" width="2.05" height="1.35" fill="#1fa287"/>
<rect x="492.0" y="711.63" width="2.05" height="1.35" fill="#1fa187"/>
<rect x="492.0" y="712.93" width="2.05" height="1.35" fill="#2a788e"/>
<rect x="492.0" y="714.23" width="2.05" height="1.35" fill="#463480"/>
<rect x="492.0" y="715.53" width="2.05" height="1.35" fill="#46337f"/>
<rect x="492.0" y="716.83" width="2.05" height="1.35" fill="#482677"/>
<rect x="492.0" y="718.13" width="2.05" height="1.35" fill="#481b6d"/>
<rect x="494.0" y="703.70" width="2.05" height="1.35" fill="#481d6f"/>
<rect x="494.0" y="705.00" width="2.05" height="1.35" fill="#424086"/>
<rect x="494.0" y="706.30" width="2.05" height="1.35" fill="#3e4c8a"/>
<rect x="494.0" y="707.60" width="2.05" height="1.35" fill="#365d8d"/>
<rect x="494.0" y="708.90" width="2.05" height="1.35" fill="#21918c"/>
<rect x="494.0" y="710.20" width="2.05" height="1.35" fill="#1f9f88"/>
<rect x="494.0" y="711.50" width="2.05" height="1.35" fill="#1fa088"/>
<rect x="494.0" y="712.80" width="2.05" height="1.35" fill="#31668e"/>
<rect x="494.0" y="714.10" width="2.05" height="1.35" fill="#443b84"/>
<rect x="494.0" y="715.40" width="2.05" height="1.35" fill="#482677"/>
<rect x="494.0" y="716.70" width="2.05" height="1.35" fill="#482173"/>
<rect x="496.0" y="702.26" width="2.05" height="1.35" fill="#48186a"/>
<rect x="496.0" y="703.56" width="2.05" height="1.35" fill="#482071"/>
<rect x="496.0" y="704.86" width="2.05" height="1.35" fill="#472d7b"/>
<rect x="496.0" y="706.16" width="2.05" height="1.35" fill="#3a538b"/>
<rect x="496.0" y="707.46" width="2.05" height="1.35" fill="#228d8d"/>
<rect x="496.0" y="708.76" width="2.05" height="1.35" fill="#29af7f"/>
<rect x="496.0" y="710.06" width="2.05" height="1.35" fill="#2fb47c"/>
<rect x="496.0" y="711.36" width="2.05" height="1.35" fill="#1f998a"/>
<rect x="496.0" y="712.66" width="2.05" height="1.35" fill="#24878e"/>
<rect x="496.0" y="713.96" width="2.05" height="1.35" fill="#355f8d"/>
<rect x="496.0" y="715.26" width="2.05" height="1.35" fill="#472d7b"/>
<rect x="496.0" y="716.56" width="2.05" height="1.35" fill="#482576"/>
<rect x="498.0" y="702.13" width="2.05" height="1.35" fill="#48186a"/>
<rect x="498.0" y="703.43" width="2.05" height="1.35" fill="#481b6d"/>
<rect x="498.0" y="704.73" width="2.05" height="1.35" fill="#404688"/>
<rect x="498.0" y="706.03" width="2.05" height="1.35" fill="#404588"/>
<rect x="498.0" y="707.33" width="2.05" height="1.35" fill="#306a8e"/>
<rect x="498.0" y="708.63" width="2.05" height="1.35" fill="#22a785"/>
<rect x="498.0" y="709.93" width="2.05" height="1.35" fill="#3aba76"/>
<rect x="498.0" y="711.23" width="2.05" height="1.35" fill="#20938c"/>
<rect x="498.0" y="712.53" width="2.05" height="1.35" fill="#1fa187"/>
<rect x="498.0" y="713.83" width="2.05" height="1.35" fill="#3e4a89"/>
<rect x="498.0" y="715.13" width="2.05" height="1.35" fill="#472a7a"/>
<rect x="498.0" y="716.43" width="2.05" height="1.35" fill="#482071"/>
<rect x="498.0" y="717.73" width="2.05" height="1.35" fill="#481769"/>
<rect x="500.0" y="703.30" width="2.05" height="1.35" fill="#481d6f"/>
<rect x="500.0" y="704.60" width="2.05" height="1.35" fill="#482374"/>
<rect x="500.0" y="705.90" width="2.05" height="1.35" fill="#3e4a89"/>
<rect x="500.0" y="707.20" width="2.05" height="1.35" fill="#39558c"/>
<rect x="500.0" y="708.50" width="2.05" height="1.35" fill="#297b8e"/>
<rect x="500.0" y="709.80" width="2.05" height="1.35" fill="#228c8d"/>
<rect x="500.0" y="711.10" width="2.05" height="1.35" fill="#2a778e"/>
<rect x="500.0" y="712.40" width="2.05" height="1.35" fill="#2f6b8e"/>
<rect x="500.0" y="713.70" width="2.05" height="1.35" fill="#404688"/>
<rect x="500.0" y="715.00" width="2.05" height="1.35" fill="#481a6c"/>
<rect x="500.0" y="716.30" width="2.05" height="1.35" fill="#472c7a"/>
<rect x="500.0" y="717.60" width="2.05" height="1.35" fill="#481b6d"/>
<rect x="502.0" y="703.16" width="2.05" height="1.35" fill="#482071"/>
<rect x="502.0" y="704.46" width="2.05" height="1.35" fill="#472c7a"/>
<rect x="502.0" y="705.76" width="2.05" height="1.35" fill="#443983"/>
<rect x="502.0" y="707.06" width="2.05" height="1.35" fill="#375a8c"/>
<rect x="502.0" y="708.36" width="2.05" height="1.35" fill="#1f9f88"/>
<rect x="502.0" y="709.66" width="2.05" height="1.35" fill="#35b779"/>
<rect x="502.0" y="710.96" width="2.05" height="1.35" fill="#1fa187"/>
<rect x="502.0" y="712.26" width="2.05" height="1.35" fill="#2b748e"/>
<rect x="502.0" y="713.56" width="2.05" height="1.35" fill="#33628d"/>
<rect x="502.0" y="714.86" width="2.05" height="1.35" fill="#463480"/>
<rect x="502.0" y="716.16" width="2.05" height="1.35" fill="#482677"/>
<rect x="504.0" y="703.03" width="2.05" height="1.35" fill="#48186a"/>
<rect x="504.0" y="704.33" width="2.05" height="1.35" fill="#472a7a"/>
<rect x="504.0" y="705.63" width="2.05" height="1.35" fill="#38598c"/>
<rect x="504.0" y="706.93" width="2.05" height="1.35" fill="#2e6e8e"/>
<rect x="504.0" y="708.23" width="2.05" height="1.35" fill="#37b878"/>
<rect x="504.0" y="709.53" width="2.05" height="1.35" fill="#31b57b"/>
<rect x="504.0" y="710.83" width="2.05" height="1.35" fill="#31b57b"/>
<rect x="504.0" y="712.13" width="2.05" height="1.35" fill="#26818e"/>
<rect x="504.0" y="713.43" width="2.05" height="1.35" fill="#3e4a89"/>
<rect x="504.0" y="714.73" width="2.05" height="1.35" fill="#481d6f"/>
<rect x="504.0" y="717.33" width="2.05" height="1.35" fill="#481c6e"/>
<rect x="506.0" y="704.19" width="2.05" height="1.35" fill="#482979"/>
<rect x="506.0" y="705.49" width="2.05" height="1.35" fill="#375a8c"/>
<rect x="506.0" y="706.79" width="2.05" height="1.35" fill="#287c8e"/>
<rect x="506.0" y="708.09" width="2.05" height="1.35" fill="#228c8d"/>
<rect x="506.0" y="709.39" width="2.05" height="1.35" fill="#20a486"/>
<rect x="506.0" y="710.69" width="2.05" height="1.35" fill="#228b8d"/>
<rect x="506.0" y="711.99" width="2.05" height="1.35" fill="#375b8d"/>
<rect x="506.0" y="713.29" width="2.05" height="1.35" fill="#46337f"/>
<rect x="506.0" y="714.59" width="2.05" height="1.35" fill="#482576"/>
<rect x="506.0" y="715.89" width="2.05" height="1.35" fill="#481668"/>
<rect x="508.0" y="702.76" width="2.05" height="1.35" fill="#481b6d"/>
<rect x="508.0" y="704.06" width="2.05" height="1.35" fill="#472e7c"/>
<rect x="508.0" y="705.36" width="2.05" height="1.35" fill="#3e4a89"/>
<rect x="508.0" y="706.66" width="2.05" height="1.35" fill="#38588c"/>
<rect x="508.0" y="707.96" width="2.05" height="1.35" fill="#228d8d"/>
<rect x="508.0" y="709.26" width="2.05" height="1.35" fill="#1fa188"/>
<rect x="508.0" y="710.56" width="2.05" height="1.35" fill="#24878e"/>
<rect x="508.0" y="711.86" width="2.05" height="1.35" fill="#3a548c"/>
<rect x="508.0" y="713.16" width="2.05" height="1.35" fill="#3f4889"/>
<rect x="508.0" y="714.46" width="2.05" height="1.35" fill="#482878"/>
<rect x="508.0" y="715.76" width="2.05" height="1.35" fill="#482475"/>
<rect x="510.0" y="702.63" width="2.05" height="1.35" fill="#482071"/>
<rect x="510.0" y="703.93" width="2.05" height="1.35" fill="#46307e"/>
<rect x="510.0" y="705.23" width="2.05" height="1.35" fill="#3a538b"/>
<rect x="510.0" y="706.53" width="2.05" height="1.35" fill="#39568c"/>
<rect x="510.0" y="707.83" width="2.05" height="1.35" fill="#228b8d"/>
<rect x="510.0" y="709.13" width="2.05" height="1.35" fill="#38b977"/>
<rect x="510.0" y="710.43" width="2.05" height="1.35" fill="#218e8d"/>
<rect x="510.0" y="711.73" width="2.05" height="1.35" fill="#29798e"/>
<rect x="510.0" y="713.03" width="2.05" height="1.35" fill="#414487"/>
<rect x="510.0" y="714.33" width="2.05" height="1.35" fill="#423f85"/>
<rect x="510.0" y="715.63" width="2.05" height="1.35" fill="#472a7a"/>
<rect x="512.0" y="702.49" width="2.05" height="1.35" fill="#48186a"/>
<rect x="512.0" y="703.79" width="2.05" height="1.35" fill="#472a7a"/>
<rect x="512.0" y="705.09" width="2.05" height="1.35" fill="#433d84"/>
<rect x="512.0" y="706.39" width="2.05" height="1.35" fill="#2c728e"/>
<rect x="512.0" y="707.69" width="2.05" height="1.35" fill="#24868e"/>
<rect x="512.0" y="708.99" width="2.05" height="1.35" fill="#1f978b"/>
<rect x="512.0" y="710.29" width="2.05" height="1.35" fill="#228d8d"/>
<rect x="512.0" y="711.59" width="2.05" height="1.35" fill="#26828e"/>
<rect x="512.0" y="712.89" width="2.05" height="1.35" fill="#39558c"/>
<rect x="512.0" y="714.19" width="2.05" height="1.35" fill="#46327e"/>
<rect x="512.0" y="715.49" width="2.05" height="1.35" fill="#482173"/>
<rect x="512.0" y="716.79" width="2.05" height="1.35" fill="#481c6e"/>
<rect x="514.0" y="702.36" width="2.05" height="1.35" fill="#482071"/>
<rect x="514.0" y="703.66" width="2.05" height="1.35" fill="#482677"/>
<rect x="514.0" y="704.96" width="2.05" height="1.35" fill="#433e85"/>
<rect x="514.0" y="706.26" width="2.05" height="1.35" fill="#33628d"/>
<rect x="514.0" y="707.56" width="2.05" height="1.35" fill="#31688e"/>
<rect x="514.0" y="708.86" width="2.05" height="1.35" fill="#1f9f88"/>
<rect x="514.0" y="710.16" width="2.05" height="1.35" fill="#1e9b8a"/>
<rect x="514.0" y="711.46" width="2.05" height="1.35" fill="#355e8d"/>
<rect x="514.0" y="712.76" width="2.05" height="1.35" fill="#3c508b"/>
<rect x="514.0" y="714.06" width="2.05" height="1.35" fill="#482878"/>
<rect x="516.0" y="703.52" width="2.05" height="1.35" fill="#472c7a"/>
<rect x="516.0" y="704.82" width="2.05" height="1.35" fill="#3d4d8a"/>
<rect x="516.0" y="706.12" width="2.05" height="1.35" fill="#2c738e"/>
<rect x="516.0" y="707.42" width="2.05" height="1.35" fill="#24878e"/>
<rect x="516.0" y="708.72" width="2.05" height="1.35" fill="#21918c"/>
<rect x="516.0" y="710.02" width="2.05" height="1.35" fill="#1f9f88"/>
<rect x="516.0" y="711.32" width="2.05" height="1.35" fill="#2e6f8e"/>
<rect x="516.0" y="712.62" width="2.05" height="1.35" fill="#424186"/>
<rect x="516.0" y="713.92" width="2.05" height="1.35" fill="#481d6f"/>
<rect x="518.0" y="702.09" width="2.05" height="1.35" fill="#48186a"/>
<rect x="518.0" y="703.39" width="2.05" height="1.35" fill="#46337f"/>
<rect x="518.0" y="704.69" width="2.05" height="1.35" fill="#453882"/>
<rect x="518.0" y="705.99" width="2.05" height="1.35" fill="#29798e"/>
<rect x="518.0" y="707.29" width="2.05" height="1.35" fill="#25848e"/>
<rect x="518.0" y="708.59" width="2.05" height="1.35" fill="#25838e"/>
<rect x="518.0" y="709.89" width="2.05" height="1.35" fill="#1f988b"/>
<rect x="518.0" y="711.19" width="2.05" height="1.35" fill="#2b758e"/>
<rect x="518.0" y="712.49" width="2.05" height="1.35" fill="#414287"/>
<rect x="518.0" y="713.79" width="2.05" height="1.35" fill="#453581"/>
<rect x="518.0" y="715.09" width="2.05" height="1.35" fill="#481f70"/>
<rect x="520.0" y="701.95" width="2.05" height="1.35" fill="#482475"/>
<rect x="520.0" y="703.25" width="2.05" height="1.35" fill="#443b84"/>
<rect x="520.0" y="704.55" width="2.05" height="1.35" fill="#414287"/>
<rect x="520.0" y="705.85" width="2.05" height="1.35" fill="#31688e"/>
<rect x="520.0" y="707.15" width="2.05" height="1.35" fill="#20928c"/>
<rect x="520.0" y="708.45" width="2.05" height="1.35" fill="#21908d"/>
<rect x="520.0" y="709.75" width="2.05" height="1.35" fill="#20a386"/>
<rect x="520.0" y="711.05" width="2.05" height="1.35" fill="#355f8d"/>
<rect x="520.0" y="712.35" width="2.05" height="1.35" fill="#3f4889"/>
<rect x="520.0" y="713.65" width="2.05" height="1.35" fill="#404688"/>
<rect x="520.0" y="714.95" width="2.05" height="1.35" fill="#472e7c"/>
<rect x="522.0" y="700.52" width="2.05" height="1.35" fill="#482071"/>
<rect x="522.0" y="701.82" width="2.05" height="1.35" fill="#481769"/>
<rect x="522.0" y="703.12" width="2.05" height="1.35" fill="#472c7a"/>
<rect x="522.0" y="704.42" width="2.05" height="1.35" fill="#424086"/>
<rect x="522.0" y="705.72" width="2.05" height="1.35" fill="#2f6b8e"/>
<rect x="522.0" y="707.02" width="2.05" height="1.35" fill="#26818e"/>
<rect x="522.0" y="708.32" width="2.05" height="1.35" fill="#2a768e"/>
<rect x="522.0" y="709.62" width="2.05" height="1.35" fill="#2c718e"/>
<rect x="522.0" y="710.92" width="2.05" height="1.35" fill="#33628d"/>
<rect x="522.0" y="712.22" width="2.05" height="1.35" fill="#365d8d"/>
<rect x="522.0" y="713.52" width="2.05" height="1.35" fill="#482878"/>
<rect x="524.0" y="700.39" width="2.05" height="1.35" fill="#48186a"/>
<rect x="524.0" y="702.99" width="2.05" height="1.35" fill="#482677"/>
<rect x="524.0" y="704.29" width="2.05" height="1.35" fill="#443b84"/>
<rect x="524.0" y="705.59" width="2.05" height="1.35" fill="#31688e"/>
<rect x="524.0" y="706.89" width="2.05" height="1.35" fill="#21918c"/>
<rect x="524.0" y="708.19" width="2.05" height="1.35" fill="#1fa187"/>
<rect x="524.0" y="709.49" width="2.05" height="1.35" fill="#2e6d8e"/>
<rect x="524.0" y="710.79" width="2.05" height="1.35" fill="#2d708e"/>
<rect x="524.0" y="712.09" width="2.05" height="1.35" fill="#39568c"/>
<rect x="524.0" y="713.39" width="2.05" height="1.35" fill="#46337f"/>
<rect x="524.0" y="714.69" width="2.05" height="1.35" fill="#481d6f"/>
<rect x="526.0" y="700.25" width="2.05" height="1.35" fill="#481668"/>
<rect x="526.0" y="701.55" width="2.05" height="1.35" fill="#482878"/>
<rect x="526.0" y="702.85" width="2.05" height="1.35" fill="#482173"/>
<rect x="526.0" y="704.15" width="2.05" height="1.35" fill="#3e4c8a"/>
<rect x="526.0" y="705.45" width="2.05" height="1.35" fill="#375b8d"/>
<rect x="526.0" y="706.75" width="2.05" height="1.35" fill="#26818e"/>
<rect x="526.0" y="708.05" width="2.05" height="1.35" fill="#1fa088"/>
<rect x="526.0" y="709.35" width="2.05" height="1.35" fill="#277f8e"/>
<rect x="526.0" y="710.65" width="2.05" height="1.35" fill="#355e8d"/>
<rect x="526.0" y="711.95" width="2.05" height="1.35" fill="#424086"/>
<rect x="526.0" y="713.25" width="2.05" height="1.35" fill="#472e7c"/>
<rect x="526.0" y="714.55" width="2.05" height="1.35" fill="#481c6e"/>
<rect x="526.0" y="715.85" width="2.05" height="1.35" fill="#481769"/>
<rect x="528.0" y="700.12" width="2.05" height="1.35" fill="#481d6f"/>
<rect x="528.0" y="701.42" width="2.05" height="1.35" fill="#481d6f"/>
<rect x="528.0" y="702.72" width="2.05" height="1.35" fill="#472a7a"/>
<rect x="528.0" y="704.02" width="2.05" height="1.35" fill="#3a538b"/>
<rect x="528.0" y="705.32" width="2.05" height="1.35" fill="#34618d"/>
<rect x="528.0" y="706.62" width="2.05" height="1.35" fill="#2f6c8e"/>
<rect x="528.0" y="707.92" width="2.05" height="1.35" fill="#2f6b8e"/>
<rect x="528.0" y="709.22" width="2.05" height="1.35" fill="#2c718e"/>
<rect x="528.0" y="710.52" width="2.05" height="1.35" fill="#443983"/>
<rect x="528.0" y="711.82" width="2.05" height="1.35" fill="#39568c"/>
<rect x="528.0" y="713.12" width="2.05" height="1.35" fill="#482878"/>
<rect x="530.0" y="699.98" width="2.05" height="1.35" fill="#481c6e"/>
<rect x="530.0" y="701.28" width="2.05" height="1.35" fill="#482475"/>
<rect x="530.0" y="702.58" width="2.05" height="1.35" fill="#46327e"/>
<rect x="530.0" y="703.88" width="2.05" height="1.35" fill="#453882"/>
<rect x="530.0" y="705.18" width="2.05" height="1.35" fill="#39568c"/>
<rect x="530.0" y="706.48" width="2.05" height="1.35" fill="#30698e"/>
<rect x="530.0" y="707.78" width="2.05" height="1.35" fill="#21918c"/>
<rect x="530.0" y="709.08" width="2.05" height="1.35" fill="#3a548c"/>
<rect x="530.0" y="710.38" width="2.05" height="1.35" fill="#38588c"/>
<rect x="530.0" y="711.68" width="2.05" height="1.35" fill="#463480"/>
<rect x="530.0" y="712.98" width="2.05" height="1.35" fill="#481f70"/>
<rect x="530.0" y="714.28" width="2.05" height="1.35" fill="#472c7a"/>
<rect x="532.0" y="699.85" width="2.05" height="1.35" fill="#481a6c"/>
<rect x="532.0" y="702.45" width="2.05" height="1.35" fill="#472f7d"/>
<rect x="532.0" y="703.75" width="2.05" height="1.35" fill="#3c4f8a"/>
<rect x="532.0" y="705.05" width="2.05" height="1.35" fill="#3e4c8a"/>
<rect x="532.0" y="706.35" width="2.05" height="1.35" fill="#2e6f8e"/>
<rect x="532.0" y="707.65" width="2.05" height="1.35" fill="#33638d"/>
<rect x="532.0" y="708.95" width="2.05" height="1.35" fill="#27808e"/>
<rect x="532.0" y="710.25" width="2.05" height="1.35" fill="#39558c"/>
<rect x="532.0" y="711.55" width="2.05" height="1.35" fill="#472e7c"/>
<rect x="532.0" y="712.85" width="2.05" height="1.35" fill="#424186"/>
<rect x="532.0" y="714.15" width="2.05" height="1.35" fill="#482475"/>
</g>
<line x1="128.8" y1="74.1" x2="138.0" y2="74.1" stroke="#fff" stroke-width="2.4"/>
<text class="k" x="117.3" y="83.9" text-anchor="end">327.48</text>
<line x1="128.8" y1="160.1" x2="138.0" y2="160.1" stroke="#fff" stroke-width="2.4"/>
<text class="k" x="117.3" y="169.9" text-anchor="end">327.46</text>
<line x1="128.8" y1="246.2" x2="138.0" y2="246.2" stroke="#fff" stroke-width="2.4"/>
<text class="k" x="117.3" y="256.0" text-anchor="end">327.44</text>
<line x1="128.8" y1="332.2" x2="138.0" y2="332.2" stroke="#fff" stroke-width="2.4"/>
<text class="k" x="117.3" y="342.0" text-anchor="end">327.42</text>
<line x1="128.8" y1="418.2" x2="138.0" y2="418.2" stroke="#fff" stroke-width="2.4"/>
<text class="k" x="117.3" y="428.0" text-anchor="end">327.40</text>
<line x1="128.8" y1="567.1" x2="138.0" y2="567.1" stroke="#fff" stroke-width="2.4"/>
<text class="k" x="117.3" y="576.9" text-anchor="end">326.05</text>
<line x1="128.8" y1="638.2" x2="138.0" y2="638.2" stroke="#fff" stroke-width="2.4"/>
<text class="k" x="117.3" y="648.0" text-anchor="end">326.00</text>
<line x1="128.8" y1="709.2" x2="138.0" y2="709.2" stroke="#fff" stroke-width="2.4"/>
<text class="k" x="117.3" y="719.0" text-anchor="end">325.95</text>
<line x1="293.1" y1="472.8" x2="293.1" y2="481.9" stroke="#fff" stroke-width="2.4"/>
<line x1="293.1" y1="734.7" x2="293.1" y2="743.9" stroke="#fff" stroke-width="2.4"/>
<line x1="458.4" y1="472.8" x2="458.4" y2="481.9" stroke="#fff" stroke-width="2.4"/>
<line x1="458.4" y1="734.7" x2="458.4" y2="743.9" stroke="#fff" stroke-width="2.4"/>
<text class="k" x="127.7" y="775.6" text-anchor="middle">−0.5</text>
<text class="k" x="293.1" y="775.6" text-anchor="middle">0.0</text>
<text class="k" x="458.4" y="775.6" text-anchor="middle">0.5</text>
<rect x="127.62" y="28.83" width="429.75" height="454.35" fill="none" stroke="#000" stroke-width="2.45"/>
<rect x="127.62" y="517.83" width="429.75" height="227.35" fill="none" stroke="#000" stroke-width="2.45"/>
<rect x="568.3" y="28.400000000000002" width="18.1" height="455.2" fill="url(#vg)"/>
<rect x="568.3" y="517.4" width="18.1" height="228.2" fill="url(#vg)"/>
<text class="k" x="596" y="493.6">0.0</text>
<line x1="575.5" y1="405.0" x2="584.8" y2="405.0" stroke="#fff" stroke-width="2.4"/>
<text class="k" x="596" y="414.8">0.1</text>
<line x1="575.5" y1="326.2" x2="584.8" y2="326.2" stroke="#fff" stroke-width="2.4"/>
<text class="k" x="596" y="336.0">0.2</text>
<line x1="575.5" y1="247.3" x2="584.8" y2="247.3" stroke="#fff" stroke-width="2.4"/>
<text class="k" x="596" y="257.1">0.3</text>
<line x1="575.5" y1="168.5" x2="584.8" y2="168.5" stroke="#fff" stroke-width="2.4"/>
<text class="k" x="596" y="178.3">0.4</text>
<line x1="575.5" y1="89.7" x2="584.8" y2="89.7" stroke="#fff" stroke-width="2.4"/>
<text class="k" x="596" y="99.5">0.5</text>
<text class="k" x="596" y="755.0">0.00</text>
<line x1="575.5" y1="669.4" x2="584.8" y2="669.4" stroke="#fff" stroke-width="2.4"/>
<text class="k" x="596" y="679.2">0.25</text>
<line x1="575.5" y1="593.8" x2="584.8" y2="593.8" stroke="#fff" stroke-width="2.4"/>
<text class="k" x="596" y="603.6">0.50</text>
<rect x="568.73" y="28.83" width="17.25" height="454.35" fill="none" stroke="#000" stroke-width="2.45"/>
<rect x="568.73" y="517.83" width="17.25" height="227.35" fill="none" stroke="#000" stroke-width="2.45"/>
<line x1="455.9" y1="24.1" x2="455.9" y2="754.8" stroke="#c0c0c0" stroke-width="3.4" stroke-dasharray="12.7 6.38"/>
<line x1="531.0" y1="24.1" x2="531.0" y2="754.8" stroke="#c0c0c0" stroke-width="3.4" stroke-dasharray="12.7 6.38"/>
<text class="k" transform="translate(19.9,495.6) rotate(-90)">frequency</text>
<text class="k" style="font-size:28.5px" transform="translate(19.9,298.6) rotate(-90)" text-anchor="end">(THz)</text>
<text class="k" x="342.6" y="813.2" text-anchor="middle">gate voltage (V)</text>
<text class="k" transform="translate(678.2,467.8) rotate(-90)">intensity</text>
<text class="k" transform="translate(678.2,272.6) rotate(-90)">(Mcounts/s)</text>
<text class="k" transform="translate(678.2,631.5) rotate(-90)" text-anchor="middle">(kcounts/s)</text>
<text class="k" x="445.6" y="14.0" style="font-size:30px">s<tspan dx="-2.3" dy="5" style="font-size:19.5px">1</tspan></text>
<text class="k" x="523.2" y="14.0" style="font-size:30px">s<tspan dx="-2.3" dy="5" style="font-size:19.5px">2</tspan></text>
<text class="w" x="133.8" y="57.4" style="font-size:30px;letter-spacing:0.7px">(a)</text>
<text class="w" x="133.8" y="546.4" style="font-size:30px;letter-spacing:0.7px">(b)</text>
<text class="w" x="179.2" y="136" style="font-size:28.5px">X<tspan dy="-10" style="font-size:19px">0</tspan></text>
<text class="w" x="180.4" y="596.6" style="font-size:28.5px">X<tspan dx="0.5" dy="-10.6" style="font-size:20px">-</tspan></text>
<g fill="none" stroke="#fff" stroke-width="1.8">
<path d="M231.4 293.2L331.7 265.4M231.4 321L331.7 294M331.7 391.3L402.8 373.8M331.7 411.8L402.8 392.2"/>
<path d="M331.7 265.4L419.2 242.4M331.7 294L419.2 270.3M402.8 373.8L419.2 367.6M402.8 392.2L419.2 387.2" stroke-dasharray="5.2 3.4"/>
<path d="M331.7 241V422.8M402.8 241V422.8" stroke-dasharray="5.2 3.4"/>
</g>
<g fill="none" stroke="#e4dfe8" stroke-width="1.3">
<path d="M368.9 256V422.8M280.6 383V422.8"/>
</g>
<line x1="231.4" y1="256.6" x2="419.2" y2="256.6" stroke="#527fa3" stroke-width="3.4"/>
<line x1="231.4" y1="382.7" x2="419.2" y2="382.7" stroke="#a52421" stroke-width="3.2"/>
<g fill="none" stroke="#fff" stroke-width="1.9">
<path d="M231.4 423.7V231"/><path d="M230.5 422.8H425"/>
</g>
<path d="M231.4 220.9L226.6 233.7L231.4 231.7L236.2 233.7Z" fill="#fff"/>
<path d="M434.7 422.8L422.3 418.2L424.4 422.8L422.3 427.4Z" fill="#fff"/>
<text class="w" x="323.0" y="234.6" style="font-size:30px">s<tspan dx="-2.3" dy="5" style="font-size:19.5px">1</tspan></text>
<text class="w" x="393.3" y="234.6" style="font-size:30px">s<tspan dx="-2.3" dy="5" style="font-size:19.5px">2</tspan></text>
<text class="w" style="font-size:28.5px" transform="translate(220.5,368) rotate(-90)">frequency</text>
<text class="w" style="font-size:28.5px" x="246" y="353.3">Laser</text>
<text class="w" style="font-size:28.5px" x="242" y="449.4">gate voltage <tspan dx="1.6">V</tspan><tspan dx="-1.0" dy="5.6" style="font-size:18.5px">g</tspan></text>
<g fill="none" stroke="#fff" stroke-width="2.6" stroke-linejoin="miter">
<path d="M382.6 582.8H401V609.6H433.9V582.8H452.3"/>
<path d="M458.8 582.8H477.7V609.6H510.6V582.8H528.5"/>
<path d="M407 596.5H428.6M483 596.5H504.8"/>
<path d="M382.6 655.7H401V627.6H433.9V655.7H452.3"/>
<path d="M458.8 655.7H477.7V627.6H510.6V655.7H528.5"/>
<path d="M407 641.8H428.6M483 641.8H504.8"/>
</g>
<circle cx="493.5" cy="596.5" r="4.8" fill="#fff"/>
</svg></body></html>
